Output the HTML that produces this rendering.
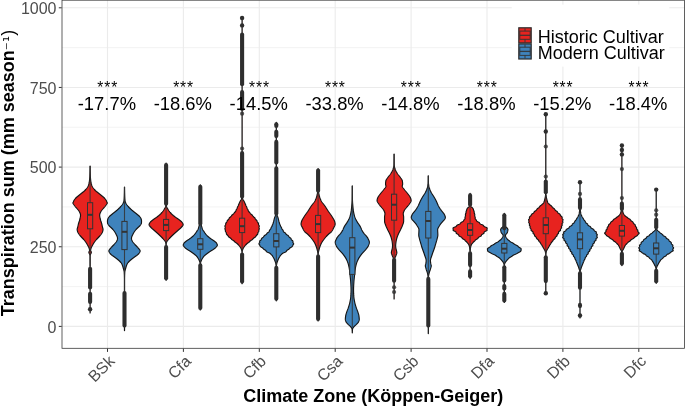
<!DOCTYPE html>
<html><head><meta charset="utf-8"><title>Transpiration sum by climate zone</title>
<style>
html,body{margin:0;padding:0;background:#fff;}
body{width:685px;height:406px;position:relative;overflow:hidden;font-family:"Liberation Sans",sans-serif;}
.t{position:absolute;white-space:nowrap;line-height:1;}
.yl{color:#4d4d4d;font-size:16px;text-align:right;width:50px;left:6.5px;}
.xl{color:#4d4d4d;font-size:16px;transform-origin:100% 0;transform:rotate(-45deg);text-align:right;}
.st{color:#000;font-size:18.4px;text-align:center;width:80px;}
.lg{color:#000;font-size:18px;left:537.7px;}
.xt{color:#000;font-weight:bold;font-size:18px;text-align:center;width:400px;left:173.2px;}
.yt{color:#000;font-weight:bold;font-size:18px;text-align:center;width:400px;transform-origin:0 0;transform:rotate(-90deg);}
</style></head><body>
<svg width="685" height="406" viewBox="0 0 685 406" style="position:absolute;left:0;top:0">
<rect x="62.0" y="0.2" width="622.5" height="348.1" fill="#fff"/>
<line x1="62.0" x2="684.5" y1="286.57" y2="286.57" stroke="#ebebeb" stroke-width="0.6"/>
<line x1="62.0" x2="684.5" y1="206.92" y2="206.92" stroke="#ebebeb" stroke-width="0.6"/>
<line x1="62.0" x2="684.5" y1="127.27" y2="127.27" stroke="#ebebeb" stroke-width="0.6"/>
<line x1="62.0" x2="684.5" y1="47.62" y2="47.62" stroke="#ebebeb" stroke-width="0.6"/>
<line x1="62.0" x2="684.5" y1="326.40" y2="326.40" stroke="#ebebeb" stroke-width="1.1"/>
<line x1="62.0" x2="684.5" y1="246.75" y2="246.75" stroke="#ebebeb" stroke-width="1.1"/>
<line x1="62.0" x2="684.5" y1="167.10" y2="167.10" stroke="#ebebeb" stroke-width="1.1"/>
<line x1="62.0" x2="684.5" y1="87.45" y2="87.45" stroke="#ebebeb" stroke-width="1.1"/>
<line x1="62.0" x2="684.5" y1="7.80" y2="7.80" stroke="#ebebeb" stroke-width="1.1"/>
<line x1="107.50" x2="107.50" y1="0.2" y2="348.3" stroke="#ebebeb" stroke-width="1.1"/>
<line x1="183.40" x2="183.40" y1="0.2" y2="348.3" stroke="#ebebeb" stroke-width="1.1"/>
<line x1="259.30" x2="259.30" y1="0.2" y2="348.3" stroke="#ebebeb" stroke-width="1.1"/>
<line x1="335.20" x2="335.20" y1="0.2" y2="348.3" stroke="#ebebeb" stroke-width="1.1"/>
<line x1="411.10" x2="411.10" y1="0.2" y2="348.3" stroke="#ebebeb" stroke-width="1.1"/>
<line x1="487.00" x2="487.00" y1="0.2" y2="348.3" stroke="#ebebeb" stroke-width="1.1"/>
<line x1="562.90" x2="562.90" y1="0.2" y2="348.3" stroke="#ebebeb" stroke-width="1.1"/>
<line x1="638.80" x2="638.80" y1="0.2" y2="348.3" stroke="#ebebeb" stroke-width="1.1"/>
<rect x="511.7" y="4.6" width="157.6" height="62" fill="#fff"/>
<path d="M90.15 166.00 L90.15 166.50 L90.15 167.00 L90.16 167.50 L90.16 168.00 L90.16 168.50 L90.17 169.00 L90.18 169.50 L90.18 170.00 L90.19 170.50 L90.20 171.00 L90.21 171.50 L90.22 172.00 L90.23 172.50 L90.25 173.00 L90.26 173.50 L90.27 174.00 L90.29 174.50 L90.30 175.00 L90.32 175.50 L90.34 176.00 L90.36 176.50 L90.39 177.00 L90.43 177.50 L90.47 178.00 L90.51 178.50 L90.56 179.00 L90.61 179.50 L90.66 180.00 L90.72 180.50 L90.79 181.00 L90.85 181.50 L90.92 182.00 L91.00 182.50 L91.09 183.00 L91.21 183.50 L91.35 184.00 L91.50 184.50 L91.67 185.00 L91.85 185.50 L92.05 186.00 L92.28 186.50 L92.55 187.00 L92.87 187.50 L93.22 188.00 L93.60 188.50 L94.01 189.00 L94.43 189.50 L94.88 190.00 L95.34 190.50 L95.87 191.00 L96.46 191.50 L97.09 192.00 L97.73 192.50 L98.35 193.00 L98.96 193.50 L99.58 194.00 L100.20 194.50 L100.82 195.00 L101.43 195.50 L102.04 196.00 L102.67 196.50 L103.28 197.00 L103.85 197.50 L104.35 198.00 L104.79 198.50 L105.20 199.00 L105.59 199.50 L105.94 200.00 L106.24 200.50 L106.50 201.00 L106.69 201.50 L106.87 202.00 L107.13 202.50 L107.35 203.00 L107.13 203.50 L106.79 204.00 L106.47 204.50 L106.13 205.00 L105.77 205.50 L105.40 206.00 L105.01 206.50 L104.60 207.00 L104.17 207.50 L103.73 208.00 L103.30 208.50 L102.88 209.00 L102.45 209.50 L102.02 210.00 L101.61 210.50 L101.24 211.00 L100.95 211.50 L100.70 212.00 L100.45 212.50 L100.22 213.00 L100.01 213.50 L99.84 214.00 L99.72 214.50 L99.66 215.00 L99.66 215.50 L99.70 216.00 L99.77 216.50 L99.86 217.00 L99.95 217.50 L100.05 218.00 L100.15 218.50 L100.28 219.00 L100.41 219.50 L100.55 220.00 L100.70 220.50 L100.85 221.00 L101.02 221.50 L101.19 222.00 L101.35 222.50 L101.51 223.00 L101.65 223.50 L101.78 224.00 L101.90 224.50 L102.02 225.00 L102.13 225.50 L102.24 226.00 L102.35 226.50 L102.46 227.00 L102.57 227.50 L102.72 228.00 L102.88 228.50 L103.00 229.00 L103.05 229.50 L103.01 230.00 L102.92 230.50 L102.78 231.00 L102.62 231.50 L102.45 232.00 L102.24 232.50 L101.98 233.00 L101.67 233.50 L101.35 234.00 L101.00 234.50 L100.61 235.00 L100.18 235.50 L99.74 236.00 L99.30 236.50 L98.85 237.00 L98.39 237.50 L97.92 238.00 L97.43 238.50 L96.95 239.00 L96.49 239.50 L96.07 240.00 L95.66 240.50 L95.27 241.00 L94.89 241.50 L94.53 242.00 L94.18 242.50 L93.85 243.00 L93.54 243.50 L93.24 244.00 L92.95 244.50 L92.68 245.00 L92.41 245.50 L92.14 246.00 L91.86 246.50 L91.59 247.00 L91.34 247.50 L91.15 248.00 L90.99 248.50 L90.84 249.00 L90.72 249.50 L90.66 250.00 L90.68 250.50 L90.85 251.00 L91.07 251.50 L91.27 252.00 L91.35 252.50 L91.24 253.00 L90.97 253.50 L90.66 254.00 L90.41 254.50 L90.28 255.00 L90.19 255.50 L90.15 256.00 L90.15 256.50 L90.15 257.00 L90.15 257.50 L90.15 258.00 L90.15 258.50 L90.15 259.00 L90.15 259.50 L90.15 260.00 L90.15 260.50 L90.15 261.00 L90.15 261.50 L90.15 262.00 L90.15 262.50 L90.15 263.00 L90.15 263.50 L90.15 264.00 L90.15 264.50 L90.15 265.00 L90.15 265.50 L90.15 266.00 L90.15 266.50 L90.15 267.00 L90.15 267.50 L90.15 268.00 L90.15 268.50 L90.15 269.00 L90.15 269.50 L90.15 270.00 L90.15 270.50 L90.15 271.00 L90.15 271.50 L90.15 272.00 L90.15 272.50 L90.15 273.00 L90.15 273.50 L90.15 274.00 L90.15 274.50 L90.15 275.00 L90.15 275.50 L90.15 276.00 L90.15 276.50 L90.15 277.00 L90.15 277.50 L90.15 278.00 L90.15 278.50 L90.15 279.00 L90.15 279.50 L90.15 280.00 L90.15 280.50 L90.15 281.00 L90.15 281.50 L90.15 282.00 L90.15 282.50 L90.15 283.00 L90.15 283.50 L90.15 284.00 L90.15 284.50 L90.15 285.00 L90.15 285.50 L90.15 286.00 L90.15 286.50 L90.15 287.00 L90.15 287.50 L90.15 288.00 L90.15 288.50 L90.15 289.00 L90.15 289.50 L90.15 290.00 L90.15 290.50 L90.15 291.00 L90.15 291.50 L90.15 292.00 L90.15 292.50 L90.15 293.00 L90.15 293.50 L90.15 294.00 L90.15 294.50 L90.15 295.00 L90.15 295.50 L90.15 296.00 L90.15 296.50 L90.15 297.00 L90.15 297.50 L90.15 298.00 L90.15 298.50 L90.15 299.00 L90.15 299.50 L90.15 300.00 L90.15 300.50 L90.15 301.00 L90.15 301.50 L90.15 302.00 L90.15 302.50 L90.15 303.00 L90.15 303.50 L90.15 304.00 L90.15 304.50 L90.15 305.00 L90.15 305.50 L90.15 306.00 L90.15 306.50 L90.15 307.00 L90.15 307.50 L90.15 308.00 L90.15 308.50 L90.15 309.00 L90.15 309.50 L90.15 310.00 L90.15 310.50 L90.15 311.00 L90.15 311.50 L90.15 312.00 L90.15 312.50 L90.15 313.00 L90.05 313.00 L90.05 312.50 L90.05 312.00 L90.05 311.50 L90.05 311.00 L90.05 310.50 L90.05 310.00 L90.05 309.50 L90.05 309.00 L90.05 308.50 L90.05 308.00 L90.05 307.50 L90.05 307.00 L90.05 306.50 L90.05 306.00 L90.05 305.50 L90.05 305.00 L90.05 304.50 L90.05 304.00 L90.05 303.50 L90.05 303.00 L90.05 302.50 L90.05 302.00 L90.05 301.50 L90.05 301.00 L90.05 300.50 L90.05 300.00 L90.05 299.50 L90.05 299.00 L90.05 298.50 L90.05 298.00 L90.05 297.50 L90.05 297.00 L90.05 296.50 L90.05 296.00 L90.05 295.50 L90.05 295.00 L90.05 294.50 L90.05 294.00 L90.05 293.50 L90.05 293.00 L90.05 292.50 L90.05 292.00 L90.05 291.50 L90.05 291.00 L90.05 290.50 L90.05 290.00 L90.05 289.50 L90.05 289.00 L90.05 288.50 L90.05 288.00 L90.05 287.50 L90.05 287.00 L90.05 286.50 L90.05 286.00 L90.05 285.50 L90.05 285.00 L90.05 284.50 L90.05 284.00 L90.05 283.50 L90.05 283.00 L90.05 282.50 L90.05 282.00 L90.05 281.50 L90.05 281.00 L90.05 280.50 L90.05 280.00 L90.05 279.50 L90.05 279.00 L90.05 278.50 L90.05 278.00 L90.05 277.50 L90.05 277.00 L90.05 276.50 L90.05 276.00 L90.05 275.50 L90.05 275.00 L90.05 274.50 L90.05 274.00 L90.05 273.50 L90.05 273.00 L90.05 272.50 L90.05 272.00 L90.05 271.50 L90.05 271.00 L90.05 270.50 L90.05 270.00 L90.05 269.50 L90.05 269.00 L90.05 268.50 L90.05 268.00 L90.05 267.50 L90.05 267.00 L90.05 266.50 L90.05 266.00 L90.05 265.50 L90.05 265.00 L90.05 264.50 L90.05 264.00 L90.05 263.50 L90.05 263.00 L90.05 262.50 L90.05 262.00 L90.05 261.50 L90.05 261.00 L90.05 260.50 L90.05 260.00 L90.05 259.50 L90.05 259.00 L90.05 258.50 L90.05 258.00 L90.05 257.50 L90.05 257.00 L90.05 256.50 L90.05 256.00 L90.01 255.50 L89.92 255.00 L89.79 254.50 L89.54 254.00 L89.23 253.50 L88.96 253.00 L88.85 252.50 L88.93 252.00 L89.13 251.50 L89.35 251.00 L89.52 250.50 L89.54 250.00 L89.48 249.50 L89.36 249.00 L89.21 248.50 L89.05 248.00 L88.86 247.50 L88.61 247.00 L88.34 246.50 L88.06 246.00 L87.79 245.50 L87.52 245.00 L87.25 244.50 L86.96 244.00 L86.66 243.50 L86.35 243.00 L86.02 242.50 L85.67 242.00 L85.31 241.50 L84.93 241.00 L84.54 240.50 L84.13 240.00 L83.71 239.50 L83.25 239.00 L82.77 238.50 L82.28 238.00 L81.81 237.50 L81.35 237.00 L80.90 236.50 L80.46 236.00 L80.02 235.50 L79.59 235.00 L79.20 234.50 L78.85 234.00 L78.53 233.50 L78.22 233.00 L77.96 232.50 L77.75 232.00 L77.58 231.50 L77.42 231.00 L77.28 230.50 L77.19 230.00 L77.15 229.50 L77.20 229.00 L77.32 228.50 L77.48 228.00 L77.63 227.50 L77.74 227.00 L77.85 226.50 L77.96 226.00 L78.07 225.50 L78.18 225.00 L78.30 224.50 L78.42 224.00 L78.55 223.50 L78.69 223.00 L78.85 222.50 L79.01 222.00 L79.18 221.50 L79.35 221.00 L79.50 220.50 L79.65 220.00 L79.79 219.50 L79.92 219.00 L80.05 218.50 L80.15 218.00 L80.25 217.50 L80.34 217.00 L80.43 216.50 L80.50 216.00 L80.54 215.50 L80.54 215.00 L80.48 214.50 L80.36 214.00 L80.19 213.50 L79.98 213.00 L79.75 212.50 L79.50 212.00 L79.25 211.50 L78.96 211.00 L78.59 210.50 L78.18 210.00 L77.75 209.50 L77.32 209.00 L76.90 208.50 L76.47 208.00 L76.03 207.50 L75.60 207.00 L75.19 206.50 L74.80 206.00 L74.43 205.50 L74.07 205.00 L73.73 204.50 L73.41 204.00 L73.07 203.50 L72.85 203.00 L73.07 202.50 L73.33 202.00 L73.51 201.50 L73.70 201.00 L73.96 200.50 L74.26 200.00 L74.61 199.50 L75.00 199.00 L75.41 198.50 L75.85 198.00 L76.35 197.50 L76.92 197.00 L77.53 196.50 L78.16 196.00 L78.77 195.50 L79.38 195.00 L80.00 194.50 L80.62 194.00 L81.24 193.50 L81.85 193.00 L82.47 192.50 L83.11 192.00 L83.74 191.50 L84.33 191.00 L84.86 190.50 L85.32 190.00 L85.77 189.50 L86.19 189.00 L86.60 188.50 L86.98 188.00 L87.33 187.50 L87.65 187.00 L87.92 186.50 L88.15 186.00 L88.35 185.50 L88.53 185.00 L88.70 184.50 L88.85 184.00 L88.99 183.50 L89.11 183.00 L89.20 182.50 L89.28 182.00 L89.35 181.50 L89.41 181.00 L89.48 180.50 L89.54 180.00 L89.59 179.50 L89.64 179.00 L89.69 178.50 L89.73 178.00 L89.77 177.50 L89.81 177.00 L89.84 176.50 L89.86 176.00 L89.88 175.50 L89.90 175.00 L89.91 174.50 L89.93 174.00 L89.94 173.50 L89.95 173.00 L89.97 172.50 L89.98 172.00 L89.99 171.50 L90.00 171.00 L90.01 170.50 L90.02 170.00 L90.02 169.50 L90.03 169.00 L90.04 168.50 L90.04 168.00 L90.04 167.50 L90.05 167.00 L90.05 166.50 L90.05 166.00Z" fill="#e7231f" stroke="#151515" stroke-width="1.15" stroke-linejoin="round"/>
<path d="M124.55 187.00 L124.55 187.50 L124.55 188.00 L124.56 188.50 L124.56 189.00 L124.57 189.50 L124.58 190.00 L124.59 190.50 L124.60 191.00 L124.61 191.50 L124.62 192.00 L124.63 192.50 L124.64 193.00 L124.66 193.50 L124.67 194.00 L124.69 194.50 L124.70 195.00 L124.71 195.50 L124.73 196.00 L124.75 196.50 L124.77 197.00 L124.79 197.50 L124.82 198.00 L124.84 198.50 L124.88 199.00 L124.92 199.50 L124.96 200.00 L125.01 200.50 L125.06 201.00 L125.17 201.50 L125.34 202.00 L125.56 202.50 L125.80 203.00 L126.05 203.50 L126.32 204.00 L126.65 204.50 L127.00 205.00 L127.39 205.50 L127.79 206.00 L128.20 206.50 L128.65 207.00 L129.12 207.50 L129.62 208.00 L130.14 208.50 L130.66 209.00 L131.21 209.50 L131.77 210.00 L132.36 210.50 L132.95 211.00 L133.55 211.50 L134.17 212.00 L134.80 212.50 L135.45 213.00 L136.09 213.50 L136.71 214.00 L137.31 214.50 L137.93 215.00 L138.54 215.50 L139.10 216.00 L139.60 216.50 L140.00 217.00 L140.37 217.50 L140.69 218.00 L140.96 218.50 L141.15 219.00 L141.30 219.50 L141.42 220.00 L141.52 220.50 L141.55 221.00 L141.54 221.50 L141.52 222.00 L141.49 222.50 L141.45 223.00 L141.34 223.50 L141.11 224.00 L140.80 224.50 L140.46 225.00 L140.10 225.50 L139.65 226.00 L139.13 226.50 L138.58 227.00 L138.05 227.50 L137.53 228.00 L137.01 228.50 L136.50 229.00 L136.05 229.50 L135.65 230.00 L135.26 230.50 L134.88 231.00 L134.52 231.50 L134.19 232.00 L133.87 232.50 L133.57 233.00 L133.30 233.50 L133.05 234.00 L132.81 234.50 L132.56 235.00 L132.31 235.50 L132.08 236.00 L131.87 236.50 L131.69 237.00 L131.55 237.50 L131.47 238.00 L131.45 238.50 L131.51 239.00 L131.64 239.50 L131.82 240.00 L132.03 240.50 L132.25 241.00 L132.51 241.50 L132.83 242.00 L133.21 242.50 L133.63 243.00 L134.06 243.50 L134.49 244.00 L134.92 244.50 L135.38 245.00 L135.87 245.50 L136.37 246.00 L136.86 246.50 L137.33 247.00 L137.75 247.50 L138.17 248.00 L138.63 248.50 L139.08 249.00 L139.50 249.50 L139.84 250.00 L140.07 250.50 L140.15 251.00 L140.07 251.50 L139.85 252.00 L139.56 252.50 L139.25 253.00 L138.88 253.50 L138.41 254.00 L137.88 254.50 L137.32 255.00 L136.67 255.50 L135.97 256.00 L135.25 256.50 L134.55 257.00 L133.88 257.50 L133.20 258.00 L132.54 258.50 L131.90 259.00 L131.28 259.50 L130.68 260.00 L130.10 260.50 L129.55 261.00 L129.05 261.50 L128.58 262.00 L128.13 262.50 L127.73 263.00 L127.40 263.50 L127.15 264.00 L126.92 264.50 L126.71 265.00 L126.52 265.50 L126.34 266.00 L126.18 266.50 L126.03 267.00 L125.89 267.50 L125.75 268.00 L125.61 268.50 L125.47 269.00 L125.32 269.50 L125.19 270.00 L125.06 270.50 L124.95 271.00 L124.86 271.50 L124.79 272.00 L124.75 272.50 L124.73 273.00 L124.70 273.50 L124.68 274.00 L124.66 274.50 L124.64 275.00 L124.62 275.50 L124.61 276.00 L124.60 276.50 L124.58 277.00 L124.57 277.50 L124.57 278.00 L124.56 278.50 L124.55 279.00 L124.55 279.50 L124.55 280.00 L124.55 280.50 L124.55 281.00 L124.55 281.50 L124.55 282.00 L124.55 282.50 L124.55 283.00 L124.55 283.50 L124.55 284.00 L124.55 284.50 L124.55 285.00 L124.55 285.50 L124.55 286.00 L124.55 286.50 L124.55 287.00 L124.55 287.50 L124.55 288.00 L124.55 288.50 L124.55 289.00 L124.55 289.50 L124.55 290.00 L124.55 290.50 L124.55 291.00 L124.55 291.50 L124.55 292.00 L124.55 292.50 L124.55 293.00 L124.55 293.50 L124.55 294.00 L124.55 294.50 L124.55 295.00 L124.55 295.50 L124.55 296.00 L124.55 296.50 L124.55 297.00 L124.55 297.50 L124.55 298.00 L124.55 298.50 L124.55 299.00 L124.55 299.50 L124.55 300.00 L124.55 300.50 L124.55 301.00 L124.55 301.50 L124.55 302.00 L124.55 302.50 L124.55 303.00 L124.55 303.50 L124.55 304.00 L124.55 304.50 L124.55 305.00 L124.55 305.50 L124.55 306.00 L124.55 306.50 L124.55 307.00 L124.55 307.50 L124.55 308.00 L124.55 308.50 L124.55 309.00 L124.55 309.50 L124.55 310.00 L124.55 310.50 L124.55 311.00 L124.55 311.50 L124.55 312.00 L124.55 312.50 L124.55 313.00 L124.55 313.50 L124.55 314.00 L124.55 314.50 L124.55 315.00 L124.55 315.50 L124.55 316.00 L124.55 316.50 L124.55 317.00 L124.55 317.50 L124.55 318.00 L124.55 318.50 L124.55 319.00 L124.55 319.50 L124.55 320.00 L124.55 320.50 L124.55 321.00 L124.55 321.50 L124.55 322.00 L124.55 322.50 L124.55 323.00 L124.55 323.50 L124.55 324.00 L124.55 324.50 L124.55 325.00 L124.55 325.50 L124.55 326.00 L124.55 326.50 L124.55 327.00 L124.55 327.50 L124.55 328.00 L124.55 328.50 L124.55 329.00 L124.55 329.50 L124.55 330.00 L124.55 330.50 L124.55 330.60 L124.45 330.60 L124.45 330.50 L124.45 330.00 L124.45 329.50 L124.45 329.00 L124.45 328.50 L124.45 328.00 L124.45 327.50 L124.45 327.00 L124.45 326.50 L124.45 326.00 L124.45 325.50 L124.45 325.00 L124.45 324.50 L124.45 324.00 L124.45 323.50 L124.45 323.00 L124.45 322.50 L124.45 322.00 L124.45 321.50 L124.45 321.00 L124.45 320.50 L124.45 320.00 L124.45 319.50 L124.45 319.00 L124.45 318.50 L124.45 318.00 L124.45 317.50 L124.45 317.00 L124.45 316.50 L124.45 316.00 L124.45 315.50 L124.45 315.00 L124.45 314.50 L124.45 314.00 L124.45 313.50 L124.45 313.00 L124.45 312.50 L124.45 312.00 L124.45 311.50 L124.45 311.00 L124.45 310.50 L124.45 310.00 L124.45 309.50 L124.45 309.00 L124.45 308.50 L124.45 308.00 L124.45 307.50 L124.45 307.00 L124.45 306.50 L124.45 306.00 L124.45 305.50 L124.45 305.00 L124.45 304.50 L124.45 304.00 L124.45 303.50 L124.45 303.00 L124.45 302.50 L124.45 302.00 L124.45 301.50 L124.45 301.00 L124.45 300.50 L124.45 300.00 L124.45 299.50 L124.45 299.00 L124.45 298.50 L124.45 298.00 L124.45 297.50 L124.45 297.00 L124.45 296.50 L124.45 296.00 L124.45 295.50 L124.45 295.00 L124.45 294.50 L124.45 294.00 L124.45 293.50 L124.45 293.00 L124.45 292.50 L124.45 292.00 L124.45 291.50 L124.45 291.00 L124.45 290.50 L124.45 290.00 L124.45 289.50 L124.45 289.00 L124.45 288.50 L124.45 288.00 L124.45 287.50 L124.45 287.00 L124.45 286.50 L124.45 286.00 L124.45 285.50 L124.45 285.00 L124.45 284.50 L124.45 284.00 L124.45 283.50 L124.45 283.00 L124.45 282.50 L124.45 282.00 L124.45 281.50 L124.45 281.00 L124.45 280.50 L124.45 280.00 L124.45 279.50 L124.45 279.00 L124.44 278.50 L124.43 278.00 L124.43 277.50 L124.42 277.00 L124.40 276.50 L124.39 276.00 L124.38 275.50 L124.36 275.00 L124.34 274.50 L124.32 274.00 L124.30 273.50 L124.27 273.00 L124.25 272.50 L124.21 272.00 L124.14 271.50 L124.05 271.00 L123.94 270.50 L123.81 270.00 L123.68 269.50 L123.53 269.00 L123.39 268.50 L123.25 268.00 L123.11 267.50 L122.97 267.00 L122.82 266.50 L122.66 266.00 L122.48 265.50 L122.29 265.00 L122.08 264.50 L121.85 264.00 L121.60 263.50 L121.27 263.00 L120.87 262.50 L120.42 262.00 L119.95 261.50 L119.45 261.00 L118.90 260.50 L118.32 260.00 L117.72 259.50 L117.10 259.00 L116.46 258.50 L115.80 258.00 L115.12 257.50 L114.45 257.00 L113.75 256.50 L113.03 256.00 L112.33 255.50 L111.68 255.00 L111.12 254.50 L110.59 254.00 L110.12 253.50 L109.75 253.00 L109.44 252.50 L109.15 252.00 L108.93 251.50 L108.85 251.00 L108.93 250.50 L109.16 250.00 L109.50 249.50 L109.92 249.00 L110.37 248.50 L110.83 248.00 L111.25 247.50 L111.67 247.00 L112.14 246.50 L112.63 246.00 L113.13 245.50 L113.62 245.00 L114.08 244.50 L114.51 244.00 L114.94 243.50 L115.37 243.00 L115.79 242.50 L116.17 242.00 L116.49 241.50 L116.75 241.00 L116.97 240.50 L117.18 240.00 L117.36 239.50 L117.49 239.00 L117.55 238.50 L117.53 238.00 L117.45 237.50 L117.31 237.00 L117.13 236.50 L116.92 236.00 L116.69 235.50 L116.44 235.00 L116.19 234.50 L115.95 234.00 L115.70 233.50 L115.43 233.00 L115.13 232.50 L114.81 232.00 L114.48 231.50 L114.12 231.00 L113.74 230.50 L113.35 230.00 L112.95 229.50 L112.50 229.00 L111.99 228.50 L111.47 228.00 L110.95 227.50 L110.42 227.00 L109.87 226.50 L109.35 226.00 L108.90 225.50 L108.54 225.00 L108.20 224.50 L107.89 224.00 L107.66 223.50 L107.55 223.00 L107.51 222.50 L107.48 222.00 L107.46 221.50 L107.45 221.00 L107.48 220.50 L107.58 220.00 L107.70 219.50 L107.85 219.00 L108.04 218.50 L108.31 218.00 L108.63 217.50 L109.00 217.00 L109.40 216.50 L109.90 216.00 L110.46 215.50 L111.07 215.00 L111.69 214.50 L112.29 214.00 L112.91 213.50 L113.55 213.00 L114.20 212.50 L114.83 212.00 L115.45 211.50 L116.05 211.00 L116.64 210.50 L117.23 210.00 L117.79 209.50 L118.34 209.00 L118.86 208.50 L119.38 208.00 L119.88 207.50 L120.35 207.00 L120.80 206.50 L121.21 206.00 L121.61 205.50 L122.00 205.00 L122.35 204.50 L122.68 204.00 L122.95 203.50 L123.20 203.00 L123.44 202.50 L123.66 202.00 L123.83 201.50 L123.94 201.00 L123.99 200.50 L124.04 200.00 L124.08 199.50 L124.12 199.00 L124.16 198.50 L124.18 198.00 L124.21 197.50 L124.23 197.00 L124.25 196.50 L124.27 196.00 L124.29 195.50 L124.30 195.00 L124.31 194.50 L124.33 194.00 L124.34 193.50 L124.36 193.00 L124.37 192.50 L124.38 192.00 L124.39 191.50 L124.40 191.00 L124.41 190.50 L124.42 190.00 L124.43 189.50 L124.44 189.00 L124.44 188.50 L124.45 188.00 L124.45 187.50 L124.45 187.00Z" fill="#3f83bc" stroke="#151515" stroke-width="1.15" stroke-linejoin="round"/>
<path d="M166.15 163.00 L166.15 163.50 L166.15 164.00 L166.15 164.50 L166.15 165.00 L166.15 165.50 L166.15 166.00 L166.15 166.50 L166.15 167.00 L166.15 167.50 L166.15 168.00 L166.15 168.50 L166.15 169.00 L166.15 169.50 L166.15 170.00 L166.15 170.50 L166.15 171.00 L166.15 171.50 L166.15 172.00 L166.15 172.50 L166.15 173.00 L166.15 173.50 L166.15 174.00 L166.15 174.50 L166.15 175.00 L166.15 175.50 L166.15 176.00 L166.15 176.50 L166.15 177.00 L166.15 177.50 L166.15 178.00 L166.15 178.50 L166.15 179.00 L166.15 179.50 L166.15 180.00 L166.15 180.50 L166.15 181.00 L166.15 181.50 L166.15 182.00 L166.15 182.50 L166.15 183.00 L166.15 183.50 L166.15 184.00 L166.15 184.50 L166.15 185.00 L166.15 185.50 L166.15 186.00 L166.15 186.50 L166.15 187.00 L166.15 187.50 L166.15 188.00 L166.15 188.50 L166.15 189.00 L166.15 189.50 L166.15 190.00 L166.15 190.50 L166.15 191.00 L166.15 191.50 L166.15 192.00 L166.15 192.50 L166.15 193.00 L166.15 193.50 L166.15 194.00 L166.15 194.50 L166.15 195.00 L166.15 195.50 L166.15 196.00 L166.15 196.50 L166.15 197.00 L166.15 197.50 L166.15 198.00 L166.15 198.50 L166.15 199.00 L166.15 199.50 L166.15 200.00 L166.15 200.50 L166.15 201.00 L166.15 201.50 L166.15 202.00 L166.15 202.50 L166.17 203.00 L166.19 203.50 L166.22 204.00 L166.25 204.50 L166.29 205.00 L166.34 205.50 L166.41 206.00 L166.55 206.50 L166.74 207.00 L166.98 207.50 L167.25 208.00 L167.53 208.50 L167.82 209.00 L168.11 209.50 L168.41 210.00 L168.73 210.50 L169.08 211.00 L169.46 211.50 L169.85 212.00 L170.27 212.50 L170.71 213.00 L171.16 213.50 L171.64 214.00 L172.16 214.50 L172.73 215.00 L173.32 215.50 L173.94 216.00 L174.57 216.50 L175.21 217.00 L175.90 217.50 L176.63 218.00 L177.37 218.50 L178.11 219.00 L178.81 219.50 L179.45 220.00 L180.07 220.50 L180.69 221.00 L181.28 221.50 L181.79 222.00 L182.19 222.50 L182.49 223.00 L182.78 223.50 L183.01 224.00 L183.14 224.50 L183.11 225.00 L182.89 225.50 L182.53 226.00 L182.08 226.50 L181.61 227.00 L181.16 227.50 L180.69 228.00 L180.16 228.50 L179.59 229.00 L179.00 229.50 L178.42 230.00 L177.85 230.50 L177.29 231.00 L176.73 231.50 L176.16 232.00 L175.59 232.50 L175.02 233.00 L174.46 233.50 L173.90 234.00 L173.37 234.50 L172.84 235.00 L172.32 235.50 L171.79 236.00 L171.28 236.50 L170.77 237.00 L170.28 237.50 L169.81 238.00 L169.36 238.50 L168.95 239.00 L168.54 239.50 L168.12 240.00 L167.70 240.50 L167.32 241.00 L166.97 241.50 L166.69 242.00 L166.50 242.50 L166.39 243.00 L166.30 243.50 L166.22 244.00 L166.17 244.50 L166.15 245.00 L166.15 245.50 L166.15 246.00 L166.15 246.50 L166.15 247.00 L166.15 247.50 L166.15 248.00 L166.15 248.50 L166.15 249.00 L166.15 249.50 L166.15 250.00 L166.15 250.50 L166.15 251.00 L166.15 251.50 L166.15 252.00 L166.15 252.50 L166.15 253.00 L166.15 253.50 L166.15 254.00 L166.15 254.50 L166.15 255.00 L166.15 255.50 L166.15 256.00 L166.15 256.50 L166.15 257.00 L166.15 257.50 L166.15 258.00 L166.15 258.50 L166.15 259.00 L166.15 259.50 L166.15 260.00 L166.15 260.50 L166.15 261.00 L166.15 261.50 L166.15 262.00 L166.15 262.50 L166.15 263.00 L166.15 263.50 L166.15 264.00 L166.15 264.50 L166.15 265.00 L166.15 265.50 L166.15 266.00 L166.15 266.50 L166.15 267.00 L166.15 267.50 L166.15 268.00 L166.15 268.50 L166.15 269.00 L166.15 269.50 L166.15 270.00 L166.15 270.50 L166.15 271.00 L166.15 271.50 L166.15 272.00 L166.15 272.50 L166.15 273.00 L166.15 273.50 L166.15 274.00 L166.15 274.50 L166.15 275.00 L166.15 275.50 L166.15 276.00 L166.15 276.50 L166.15 277.00 L166.15 277.50 L166.15 278.00 L166.15 278.50 L166.15 279.00 L166.15 279.50 L166.15 280.00 L166.15 280.30 L166.05 280.30 L166.05 280.00 L166.05 279.50 L166.05 279.00 L166.05 278.50 L166.05 278.00 L166.05 277.50 L166.05 277.00 L166.05 276.50 L166.05 276.00 L166.05 275.50 L166.05 275.00 L166.05 274.50 L166.05 274.00 L166.05 273.50 L166.05 273.00 L166.05 272.50 L166.05 272.00 L166.05 271.50 L166.05 271.00 L166.05 270.50 L166.05 270.00 L166.05 269.50 L166.05 269.00 L166.05 268.50 L166.05 268.00 L166.05 267.50 L166.05 267.00 L166.05 266.50 L166.05 266.00 L166.05 265.50 L166.05 265.00 L166.05 264.50 L166.05 264.00 L166.05 263.50 L166.05 263.00 L166.05 262.50 L166.05 262.00 L166.05 261.50 L166.05 261.00 L166.05 260.50 L166.05 260.00 L166.05 259.50 L166.05 259.00 L166.05 258.50 L166.05 258.00 L166.05 257.50 L166.05 257.00 L166.05 256.50 L166.05 256.00 L166.05 255.50 L166.05 255.00 L166.05 254.50 L166.05 254.00 L166.05 253.50 L166.05 253.00 L166.05 252.50 L166.05 252.00 L166.05 251.50 L166.05 251.00 L166.05 250.50 L166.05 250.00 L166.05 249.50 L166.05 249.00 L166.05 248.50 L166.05 248.00 L166.05 247.50 L166.05 247.00 L166.05 246.50 L166.05 246.00 L166.05 245.50 L166.05 245.00 L166.03 244.50 L165.98 244.00 L165.90 243.50 L165.81 243.00 L165.70 242.50 L165.51 242.00 L165.23 241.50 L164.88 241.00 L164.50 240.50 L164.08 240.00 L163.66 239.50 L163.25 239.00 L162.84 238.50 L162.39 238.00 L161.92 237.50 L161.43 237.00 L160.92 236.50 L160.41 236.00 L159.88 235.50 L159.36 235.00 L158.83 234.50 L158.30 234.00 L157.74 233.50 L157.18 233.00 L156.61 232.50 L156.04 232.00 L155.47 231.50 L154.91 231.00 L154.35 230.50 L153.78 230.00 L153.20 229.50 L152.61 229.00 L152.04 228.50 L151.51 228.00 L151.04 227.50 L150.59 227.00 L150.12 226.50 L149.67 226.00 L149.31 225.50 L149.09 225.00 L149.06 224.50 L149.19 224.00 L149.42 223.50 L149.71 223.00 L150.01 222.50 L150.41 222.00 L150.92 221.50 L151.51 221.00 L152.13 220.50 L152.75 220.00 L153.39 219.50 L154.09 219.00 L154.83 218.50 L155.57 218.00 L156.30 217.50 L156.99 217.00 L157.63 216.50 L158.26 216.00 L158.88 215.50 L159.47 215.00 L160.04 214.50 L160.56 214.00 L161.04 213.50 L161.49 213.00 L161.93 212.50 L162.35 212.00 L162.74 211.50 L163.12 211.00 L163.47 210.50 L163.79 210.00 L164.09 209.50 L164.38 209.00 L164.67 208.50 L164.95 208.00 L165.22 207.50 L165.46 207.00 L165.65 206.50 L165.79 206.00 L165.86 205.50 L165.91 205.00 L165.95 204.50 L165.98 204.00 L166.01 203.50 L166.03 203.00 L166.05 202.50 L166.05 202.00 L166.05 201.50 L166.05 201.00 L166.05 200.50 L166.05 200.00 L166.05 199.50 L166.05 199.00 L166.05 198.50 L166.05 198.00 L166.05 197.50 L166.05 197.00 L166.05 196.50 L166.05 196.00 L166.05 195.50 L166.05 195.00 L166.05 194.50 L166.05 194.00 L166.05 193.50 L166.05 193.00 L166.05 192.50 L166.05 192.00 L166.05 191.50 L166.05 191.00 L166.05 190.50 L166.05 190.00 L166.05 189.50 L166.05 189.00 L166.05 188.50 L166.05 188.00 L166.05 187.50 L166.05 187.00 L166.05 186.50 L166.05 186.00 L166.05 185.50 L166.05 185.00 L166.05 184.50 L166.05 184.00 L166.05 183.50 L166.05 183.00 L166.05 182.50 L166.05 182.00 L166.05 181.50 L166.05 181.00 L166.05 180.50 L166.05 180.00 L166.05 179.50 L166.05 179.00 L166.05 178.50 L166.05 178.00 L166.05 177.50 L166.05 177.00 L166.05 176.50 L166.05 176.00 L166.05 175.50 L166.05 175.00 L166.05 174.50 L166.05 174.00 L166.05 173.50 L166.05 173.00 L166.05 172.50 L166.05 172.00 L166.05 171.50 L166.05 171.00 L166.05 170.50 L166.05 170.00 L166.05 169.50 L166.05 169.00 L166.05 168.50 L166.05 168.00 L166.05 167.50 L166.05 167.00 L166.05 166.50 L166.05 166.00 L166.05 165.50 L166.05 165.00 L166.05 164.50 L166.05 164.00 L166.05 163.50 L166.05 163.00Z" fill="#e7231f" stroke="#151515" stroke-width="1.15" stroke-linejoin="round"/>
<path d="M200.35 184.70 L200.35 185.20 L200.35 185.70 L200.35 186.20 L200.35 186.70 L200.35 187.20 L200.35 187.70 L200.35 188.20 L200.35 188.70 L200.35 189.20 L200.35 189.70 L200.35 190.20 L200.35 190.70 L200.35 191.20 L200.35 191.70 L200.35 192.20 L200.35 192.70 L200.35 193.20 L200.35 193.70 L200.35 194.20 L200.35 194.70 L200.35 195.20 L200.35 195.70 L200.35 196.20 L200.36 196.70 L200.36 197.20 L200.36 197.70 L200.36 198.20 L200.36 198.70 L200.36 199.20 L200.36 199.70 L200.36 200.20 L200.36 200.70 L200.36 201.20 L200.36 201.70 L200.36 202.20 L200.36 202.70 L200.37 203.20 L200.37 203.70 L200.37 204.20 L200.37 204.70 L200.37 205.20 L200.37 205.70 L200.37 206.20 L200.37 206.70 L200.38 207.20 L200.38 207.70 L200.38 208.20 L200.38 208.70 L200.38 209.20 L200.38 209.70 L200.39 210.20 L200.39 210.70 L200.39 211.20 L200.39 211.70 L200.39 212.20 L200.40 212.70 L200.40 213.20 L200.40 213.70 L200.40 214.20 L200.41 214.70 L200.41 215.20 L200.41 215.70 L200.41 216.20 L200.42 216.70 L200.42 217.20 L200.42 217.70 L200.42 218.20 L200.43 218.70 L200.43 219.20 L200.43 219.70 L200.44 220.20 L200.44 220.70 L200.44 221.20 L200.45 221.70 L200.46 222.20 L200.51 222.70 L200.61 223.20 L200.75 223.70 L200.91 224.20 L201.09 224.70 L201.26 225.20 L201.42 225.70 L201.56 226.20 L201.71 226.70 L201.85 227.20 L202.00 227.70 L202.16 228.20 L202.33 228.70 L202.52 229.20 L202.74 229.70 L203.02 230.20 L203.34 230.70 L203.69 231.20 L204.04 231.70 L204.38 232.20 L204.71 232.70 L205.05 233.20 L205.39 233.70 L205.76 234.20 L206.16 234.70 L206.62 235.20 L207.14 235.70 L207.71 236.20 L208.29 236.70 L208.89 237.20 L209.51 237.70 L210.16 238.20 L210.84 238.70 L211.54 239.20 L212.31 239.70 L213.11 240.20 L213.85 240.70 L214.50 241.20 L215.12 241.70 L215.70 242.20 L216.21 242.70 L216.59 243.20 L216.87 243.70 L217.13 244.20 L217.30 244.70 L217.35 245.20 L217.19 245.70 L216.88 246.20 L216.49 246.70 L216.08 247.20 L215.56 247.70 L214.94 248.20 L214.28 248.70 L213.59 249.20 L212.83 249.70 L212.02 250.20 L211.20 250.70 L210.39 251.20 L209.63 251.70 L208.93 252.20 L208.24 252.70 L207.55 253.20 L206.87 253.70 L206.22 254.20 L205.60 254.70 L205.03 255.20 L204.51 255.70 L204.05 256.20 L203.64 256.70 L203.25 257.20 L202.88 257.70 L202.54 258.20 L202.22 258.70 L201.93 259.20 L201.66 259.70 L201.43 260.20 L201.23 260.70 L201.03 261.20 L200.85 261.70 L200.70 262.20 L200.59 262.70 L200.53 263.20 L200.48 263.70 L200.43 264.20 L200.39 264.70 L200.37 265.20 L200.35 265.70 L200.35 266.20 L200.35 266.70 L200.35 267.20 L200.35 267.70 L200.35 268.20 L200.35 268.70 L200.35 269.20 L200.35 269.70 L200.35 270.20 L200.35 270.70 L200.35 271.20 L200.35 271.70 L200.35 272.20 L200.35 272.70 L200.35 273.20 L200.35 273.70 L200.35 274.20 L200.35 274.70 L200.35 275.20 L200.35 275.70 L200.35 276.20 L200.35 276.70 L200.35 277.20 L200.35 277.70 L200.35 278.20 L200.35 278.70 L200.35 279.20 L200.35 279.70 L200.35 280.20 L200.35 280.70 L200.35 281.20 L200.35 281.70 L200.35 282.20 L200.35 282.70 L200.35 283.20 L200.35 283.70 L200.35 284.20 L200.35 284.70 L200.35 285.20 L200.35 285.70 L200.35 286.20 L200.35 286.70 L200.35 287.20 L200.35 287.70 L200.35 288.20 L200.35 288.70 L200.35 289.20 L200.35 289.70 L200.35 290.20 L200.35 290.70 L200.35 291.20 L200.35 291.70 L200.35 292.20 L200.35 292.70 L200.35 293.20 L200.35 293.70 L200.35 294.20 L200.35 294.70 L200.35 295.20 L200.35 295.70 L200.35 296.20 L200.35 296.70 L200.35 297.20 L200.35 297.70 L200.35 298.20 L200.35 298.70 L200.35 299.20 L200.35 299.70 L200.35 300.20 L200.35 300.70 L200.35 301.20 L200.35 301.70 L200.35 302.20 L200.35 302.70 L200.35 303.20 L200.35 303.70 L200.35 304.20 L200.35 304.70 L200.35 305.20 L200.35 305.70 L200.35 306.20 L200.35 306.70 L200.35 307.20 L200.35 307.70 L200.35 308.20 L200.35 308.70 L200.35 309.20 L200.35 309.70 L200.35 310.00 L200.25 310.00 L200.25 309.70 L200.25 309.20 L200.25 308.70 L200.25 308.20 L200.25 307.70 L200.25 307.20 L200.25 306.70 L200.25 306.20 L200.25 305.70 L200.25 305.20 L200.25 304.70 L200.25 304.20 L200.25 303.70 L200.25 303.20 L200.25 302.70 L200.25 302.20 L200.25 301.70 L200.25 301.20 L200.25 300.70 L200.25 300.20 L200.25 299.70 L200.25 299.20 L200.25 298.70 L200.25 298.20 L200.25 297.70 L200.25 297.20 L200.25 296.70 L200.25 296.20 L200.25 295.70 L200.25 295.20 L200.25 294.70 L200.25 294.20 L200.25 293.70 L200.25 293.20 L200.25 292.70 L200.25 292.20 L200.25 291.70 L200.25 291.20 L200.25 290.70 L200.25 290.20 L200.25 289.70 L200.25 289.20 L200.25 288.70 L200.25 288.20 L200.25 287.70 L200.25 287.20 L200.25 286.70 L200.25 286.20 L200.25 285.70 L200.25 285.20 L200.25 284.70 L200.25 284.20 L200.25 283.70 L200.25 283.20 L200.25 282.70 L200.25 282.20 L200.25 281.70 L200.25 281.20 L200.25 280.70 L200.25 280.20 L200.25 279.70 L200.25 279.20 L200.25 278.70 L200.25 278.20 L200.25 277.70 L200.25 277.20 L200.25 276.70 L200.25 276.20 L200.25 275.70 L200.25 275.20 L200.25 274.70 L200.25 274.20 L200.25 273.70 L200.25 273.20 L200.25 272.70 L200.25 272.20 L200.25 271.70 L200.25 271.20 L200.25 270.70 L200.25 270.20 L200.25 269.70 L200.25 269.20 L200.25 268.70 L200.25 268.20 L200.25 267.70 L200.25 267.20 L200.25 266.70 L200.25 266.20 L200.25 265.70 L200.23 265.20 L200.21 264.70 L200.17 264.20 L200.12 263.70 L200.07 263.20 L200.01 262.70 L199.90 262.20 L199.75 261.70 L199.57 261.20 L199.37 260.70 L199.17 260.20 L198.94 259.70 L198.67 259.20 L198.38 258.70 L198.06 258.20 L197.72 257.70 L197.35 257.20 L196.96 256.70 L196.55 256.20 L196.09 255.70 L195.57 255.20 L195.00 254.70 L194.38 254.20 L193.73 253.70 L193.05 253.20 L192.36 252.70 L191.67 252.20 L190.97 251.70 L190.21 251.20 L189.40 250.70 L188.58 250.20 L187.77 249.70 L187.01 249.20 L186.32 248.70 L185.66 248.20 L185.04 247.70 L184.52 247.20 L184.11 246.70 L183.72 246.20 L183.41 245.70 L183.25 245.20 L183.30 244.70 L183.47 244.20 L183.73 243.70 L184.01 243.20 L184.39 242.70 L184.90 242.20 L185.48 241.70 L186.10 241.20 L186.75 240.70 L187.49 240.20 L188.29 239.70 L189.06 239.20 L189.76 238.70 L190.44 238.20 L191.09 237.70 L191.71 237.20 L192.31 236.70 L192.89 236.20 L193.46 235.70 L193.98 235.20 L194.44 234.70 L194.84 234.20 L195.21 233.70 L195.55 233.20 L195.89 232.70 L196.22 232.20 L196.56 231.70 L196.91 231.20 L197.26 230.70 L197.58 230.20 L197.86 229.70 L198.08 229.20 L198.27 228.70 L198.44 228.20 L198.60 227.70 L198.75 227.20 L198.89 226.70 L199.04 226.20 L199.18 225.70 L199.34 225.20 L199.51 224.70 L199.69 224.20 L199.85 223.70 L199.99 223.20 L200.09 222.70 L200.14 222.20 L200.15 221.70 L200.16 221.20 L200.16 220.70 L200.16 220.20 L200.17 219.70 L200.17 219.20 L200.17 218.70 L200.18 218.20 L200.18 217.70 L200.18 217.20 L200.18 216.70 L200.19 216.20 L200.19 215.70 L200.19 215.20 L200.19 214.70 L200.20 214.20 L200.20 213.70 L200.20 213.20 L200.20 212.70 L200.21 212.20 L200.21 211.70 L200.21 211.20 L200.21 210.70 L200.21 210.20 L200.22 209.70 L200.22 209.20 L200.22 208.70 L200.22 208.20 L200.22 207.70 L200.22 207.20 L200.23 206.70 L200.23 206.20 L200.23 205.70 L200.23 205.20 L200.23 204.70 L200.23 204.20 L200.23 203.70 L200.23 203.20 L200.24 202.70 L200.24 202.20 L200.24 201.70 L200.24 201.20 L200.24 200.70 L200.24 200.20 L200.24 199.70 L200.24 199.20 L200.24 198.70 L200.24 198.20 L200.24 197.70 L200.24 197.20 L200.24 196.70 L200.25 196.20 L200.25 195.70 L200.25 195.20 L200.25 194.70 L200.25 194.20 L200.25 193.70 L200.25 193.20 L200.25 192.70 L200.25 192.20 L200.25 191.70 L200.25 191.20 L200.25 190.70 L200.25 190.20 L200.25 189.70 L200.25 189.20 L200.25 188.70 L200.25 188.20 L200.25 187.70 L200.25 187.20 L200.25 186.70 L200.25 186.20 L200.25 185.70 L200.25 185.20 L200.25 184.70Z" fill="#3f83bc" stroke="#151515" stroke-width="1.15" stroke-linejoin="round"/>
<path d="M242.15 18.00 L242.15 18.50 L242.15 19.00 L242.15 19.50 L242.15 20.00 L242.15 20.50 L242.15 21.00 L242.15 21.50 L242.15 22.00 L242.15 22.50 L242.15 23.00 L242.15 23.50 L242.15 24.00 L242.15 24.50 L242.15 25.00 L242.15 25.50 L242.15 26.00 L242.15 26.50 L242.15 27.00 L242.15 27.50 L242.15 28.00 L242.15 28.50 L242.15 29.00 L242.15 29.50 L242.15 30.00 L242.15 30.50 L242.15 31.00 L242.15 31.50 L242.15 32.00 L242.15 32.50 L242.15 33.00 L242.15 33.50 L242.15 34.00 L242.15 34.50 L242.15 35.00 L242.15 35.50 L242.15 36.00 L242.15 36.50 L242.15 37.00 L242.15 37.50 L242.15 38.00 L242.15 38.50 L242.15 39.00 L242.15 39.50 L242.15 40.00 L242.15 40.50 L242.15 41.00 L242.15 41.50 L242.15 42.00 L242.15 42.50 L242.15 43.00 L242.15 43.50 L242.15 44.00 L242.15 44.50 L242.15 45.00 L242.15 45.50 L242.15 46.00 L242.15 46.50 L242.15 47.00 L242.15 47.50 L242.15 48.00 L242.15 48.50 L242.15 49.00 L242.15 49.50 L242.15 50.00 L242.15 50.50 L242.15 51.00 L242.15 51.50 L242.15 52.00 L242.15 52.50 L242.15 53.00 L242.15 53.50 L242.15 54.00 L242.15 54.50 L242.15 55.00 L242.15 55.50 L242.15 56.00 L242.15 56.50 L242.15 57.00 L242.15 57.50 L242.15 58.00 L242.15 58.50 L242.15 59.00 L242.15 59.50 L242.15 60.00 L242.15 60.50 L242.15 61.00 L242.15 61.50 L242.15 62.00 L242.15 62.50 L242.15 63.00 L242.15 63.50 L242.15 64.00 L242.15 64.50 L242.15 65.00 L242.15 65.50 L242.15 66.00 L242.15 66.50 L242.15 67.00 L242.15 67.50 L242.15 68.00 L242.15 68.50 L242.15 69.00 L242.15 69.50 L242.15 70.00 L242.15 70.50 L242.15 71.00 L242.15 71.50 L242.15 72.00 L242.15 72.50 L242.15 73.00 L242.15 73.50 L242.15 74.00 L242.15 74.50 L242.15 75.00 L242.15 75.50 L242.15 76.00 L242.15 76.50 L242.15 77.00 L242.15 77.50 L242.15 78.00 L242.15 78.50 L242.15 79.00 L242.15 79.50 L242.15 80.00 L242.15 80.50 L242.15 81.00 L242.15 81.50 L242.15 82.00 L242.15 82.50 L242.15 83.00 L242.15 83.50 L242.15 84.00 L242.15 84.50 L242.15 85.00 L242.15 85.50 L242.15 86.00 L242.15 86.50 L242.15 87.00 L242.15 87.50 L242.15 88.00 L242.15 88.50 L242.15 89.00 L242.15 89.50 L242.15 90.00 L242.15 90.50 L242.15 91.00 L242.15 91.50 L242.15 92.00 L242.15 92.50 L242.15 93.00 L242.15 93.50 L242.15 94.00 L242.15 94.50 L242.15 95.00 L242.15 95.50 L242.15 96.00 L242.15 96.50 L242.15 97.00 L242.15 97.50 L242.15 98.00 L242.15 98.50 L242.15 99.00 L242.15 99.50 L242.15 100.00 L242.15 100.50 L242.15 101.00 L242.15 101.50 L242.15 102.00 L242.15 102.50 L242.15 103.00 L242.15 103.50 L242.15 104.00 L242.15 104.50 L242.15 105.00 L242.15 105.50 L242.15 106.00 L242.15 106.50 L242.15 107.00 L242.15 107.50 L242.15 108.00 L242.15 108.50 L242.15 109.00 L242.15 109.50 L242.15 110.00 L242.15 110.50 L242.15 111.00 L242.15 111.50 L242.15 112.00 L242.15 112.50 L242.15 113.00 L242.15 113.50 L242.15 114.00 L242.15 114.50 L242.15 115.00 L242.15 115.50 L242.15 116.00 L242.15 116.50 L242.15 117.00 L242.15 117.50 L242.15 118.00 L242.15 118.50 L242.15 119.00 L242.15 119.50 L242.15 120.00 L242.15 120.50 L242.15 121.00 L242.15 121.50 L242.15 122.00 L242.15 122.50 L242.15 123.00 L242.15 123.50 L242.15 124.00 L242.15 124.50 L242.15 125.00 L242.15 125.50 L242.15 126.00 L242.15 126.50 L242.15 127.00 L242.15 127.50 L242.15 128.00 L242.15 128.50 L242.15 129.00 L242.15 129.50 L242.15 130.00 L242.15 130.50 L242.15 131.00 L242.15 131.50 L242.15 132.00 L242.15 132.50 L242.15 133.00 L242.15 133.50 L242.15 134.00 L242.15 134.50 L242.15 135.00 L242.15 135.50 L242.15 136.00 L242.15 136.50 L242.15 137.00 L242.15 137.50 L242.15 138.00 L242.15 138.50 L242.15 139.00 L242.15 139.50 L242.15 140.00 L242.15 140.50 L242.15 141.00 L242.15 141.50 L242.15 142.00 L242.15 142.50 L242.15 143.00 L242.15 143.50 L242.15 144.00 L242.15 144.50 L242.15 145.00 L242.15 145.50 L242.15 146.00 L242.15 146.50 L242.15 147.00 L242.15 147.50 L242.15 148.00 L242.15 148.50 L242.15 149.00 L242.15 149.50 L242.15 150.00 L242.15 150.50 L242.15 151.00 L242.15 151.50 L242.15 152.00 L242.15 152.50 L242.15 153.00 L242.15 153.50 L242.15 154.00 L242.15 154.50 L242.15 155.00 L242.15 155.50 L242.15 156.00 L242.15 156.50 L242.15 157.00 L242.15 157.50 L242.15 158.00 L242.15 158.50 L242.15 159.00 L242.15 159.50 L242.15 160.00 L242.15 160.50 L242.15 161.00 L242.15 161.50 L242.15 162.00 L242.15 162.50 L242.15 163.00 L242.15 163.50 L242.15 164.00 L242.15 164.50 L242.15 165.00 L242.15 165.50 L242.15 166.00 L242.15 166.50 L242.15 167.00 L242.15 167.50 L242.15 168.00 L242.15 168.50 L242.15 169.00 L242.15 169.50 L242.15 170.00 L242.15 170.50 L242.15 171.00 L242.15 171.50 L242.15 172.00 L242.15 172.50 L242.15 173.00 L242.15 173.50 L242.15 174.00 L242.15 174.50 L242.15 175.00 L242.15 175.50 L242.15 176.00 L242.15 176.50 L242.15 177.00 L242.15 177.50 L242.15 178.00 L242.15 178.50 L242.15 179.00 L242.15 179.50 L242.15 180.00 L242.15 180.50 L242.15 181.00 L242.15 181.50 L242.15 182.00 L242.15 182.50 L242.15 183.00 L242.15 183.50 L242.15 184.00 L242.15 184.50 L242.15 185.00 L242.15 185.50 L242.15 186.00 L242.15 186.50 L242.15 187.00 L242.15 187.50 L242.15 188.00 L242.15 188.50 L242.15 189.00 L242.15 189.50 L242.15 190.00 L242.15 190.50 L242.15 191.00 L242.15 191.50 L242.15 192.00 L242.15 192.50 L242.15 193.00 L242.15 193.50 L242.15 194.00 L242.15 194.50 L242.15 195.00 L242.16 195.50 L242.20 196.00 L242.26 196.50 L242.33 197.00 L242.42 197.50 L242.52 198.00 L242.63 198.50 L242.77 199.00 L243.01 199.50 L243.29 200.00 L243.60 200.50 L243.89 201.00 L244.15 201.50 L244.38 202.00 L244.61 202.50 L244.84 203.00 L245.06 203.50 L245.29 204.00 L245.52 204.50 L245.73 205.00 L245.92 205.50 L246.13 206.00 L246.41 206.50 L246.69 207.00 L246.90 207.50 L247.04 208.00 L247.20 208.50 L247.47 209.00 L247.81 209.50 L248.08 210.00 L248.23 210.50 L248.38 211.00 L248.68 211.50 L249.17 212.00 L249.69 212.50 L250.06 213.00 L250.34 213.50 L250.77 214.00 L251.42 214.50 L252.10 215.00 L252.59 215.50 L252.89 216.00 L253.21 216.50 L253.76 217.00 L254.41 217.50 L254.92 218.00 L255.18 218.50 L255.36 219.00 L255.71 219.50 L256.27 220.00 L256.80 220.50 L257.10 221.00 L257.22 221.50 L257.40 222.00 L257.77 222.50 L258.21 223.00 L258.47 223.50 L258.50 224.00 L258.51 224.50 L258.71 225.00 L259.06 225.50 L259.29 226.00 L259.24 226.50 L259.03 227.00 L258.95 227.50 L259.10 228.00 L259.29 228.50 L259.26 229.00 L259.03 229.50 L258.85 230.00 L258.82 230.50 L258.86 231.00 L258.75 231.50 L258.40 232.00 L258.02 232.50 L257.83 233.00 L257.84 233.50 L257.79 234.00 L257.45 234.50 L256.88 235.00 L256.36 235.50 L256.05 236.00 L255.80 236.50 L255.34 237.00 L254.60 237.50 L253.84 238.00 L253.28 238.50 L252.90 239.00 L252.41 239.50 L251.68 240.00 L250.84 240.50 L250.16 241.00 L249.71 241.50 L249.24 242.00 L248.57 242.50 L247.80 243.00 L247.12 243.50 L246.59 244.00 L246.11 244.50 L245.64 245.00 L245.21 245.50 L244.81 246.00 L244.43 246.50 L244.07 247.00 L243.73 247.50 L243.42 248.00 L243.15 248.50 L242.91 249.00 L242.72 249.50 L242.56 250.00 L242.41 250.50 L242.28 251.00 L242.18 251.50 L242.15 252.00 L242.15 252.50 L242.15 253.00 L242.15 253.50 L242.15 254.00 L242.15 254.50 L242.15 255.00 L242.15 255.50 L242.15 256.00 L242.15 256.50 L242.15 257.00 L242.15 257.50 L242.15 258.00 L242.15 258.50 L242.15 259.00 L242.15 259.50 L242.15 260.00 L242.15 260.50 L242.15 261.00 L242.15 261.50 L242.15 262.00 L242.15 262.50 L242.15 263.00 L242.15 263.50 L242.15 264.00 L242.15 264.50 L242.15 265.00 L242.15 265.50 L242.15 266.00 L242.15 266.50 L242.15 267.00 L242.15 267.50 L242.15 268.00 L242.15 268.50 L242.15 269.00 L242.15 269.50 L242.15 270.00 L242.15 270.50 L242.15 271.00 L242.15 271.50 L242.15 272.00 L242.15 272.50 L242.15 273.00 L242.15 273.50 L242.15 274.00 L242.15 274.50 L242.15 275.00 L242.15 275.50 L242.15 276.00 L242.15 276.50 L242.15 277.00 L242.15 277.50 L242.15 278.00 L242.15 278.50 L242.15 279.00 L242.15 279.50 L242.15 280.00 L242.15 280.50 L242.15 281.00 L242.15 281.50 L242.15 282.00 L242.15 282.50 L242.15 283.00 L242.15 283.50 L242.15 283.70 L242.05 283.70 L242.05 283.50 L242.05 283.00 L242.05 282.50 L242.05 282.00 L242.05 281.50 L242.05 281.00 L242.05 280.50 L242.05 280.00 L242.05 279.50 L242.05 279.00 L242.05 278.50 L242.05 278.00 L242.05 277.50 L242.05 277.00 L242.05 276.50 L242.05 276.00 L242.05 275.50 L242.05 275.00 L242.05 274.50 L242.05 274.00 L242.05 273.50 L242.05 273.00 L242.05 272.50 L242.05 272.00 L242.05 271.50 L242.05 271.00 L242.05 270.50 L242.05 270.00 L242.05 269.50 L242.05 269.00 L242.05 268.50 L242.05 268.00 L242.05 267.50 L242.05 267.00 L242.05 266.50 L242.05 266.00 L242.05 265.50 L242.05 265.00 L242.05 264.50 L242.05 264.00 L242.05 263.50 L242.05 263.00 L242.05 262.50 L242.05 262.00 L242.05 261.50 L242.05 261.00 L242.05 260.50 L242.05 260.00 L242.05 259.50 L242.05 259.00 L242.05 258.50 L242.05 258.00 L242.05 257.50 L242.05 257.00 L242.05 256.50 L242.05 256.00 L242.05 255.50 L242.05 255.00 L242.05 254.50 L242.05 254.00 L242.05 253.50 L242.05 253.00 L242.05 252.50 L242.05 252.00 L242.02 251.50 L241.92 251.00 L241.79 250.50 L241.64 250.00 L241.48 249.50 L241.29 249.00 L241.05 248.50 L240.78 248.00 L240.47 247.50 L240.13 247.00 L239.77 246.50 L239.39 246.00 L238.99 245.50 L238.56 245.00 L238.09 244.50 L237.61 244.00 L237.08 243.50 L236.40 243.00 L235.63 242.50 L234.96 242.00 L234.49 241.50 L234.04 241.00 L233.36 240.50 L232.52 240.00 L231.79 239.50 L231.30 239.00 L230.92 238.50 L230.36 238.00 L229.60 237.50 L228.86 237.00 L228.40 236.50 L228.15 236.00 L227.84 235.50 L227.32 235.00 L226.75 234.50 L226.41 234.00 L226.36 233.50 L226.37 233.00 L226.18 232.50 L225.80 232.00 L225.45 231.50 L225.34 231.00 L225.38 230.50 L225.35 230.00 L225.17 229.50 L224.94 229.00 L224.91 228.50 L225.10 228.00 L225.25 227.50 L225.17 227.00 L224.96 226.50 L224.91 226.00 L225.14 225.50 L225.49 225.00 L225.69 224.50 L225.70 224.00 L225.73 223.50 L225.99 223.00 L226.43 222.50 L226.80 222.00 L226.98 221.50 L227.10 221.00 L227.40 220.50 L227.93 220.00 L228.49 219.50 L228.84 219.00 L229.02 218.50 L229.28 218.00 L229.79 217.50 L230.44 217.00 L230.99 216.50 L231.31 216.00 L231.61 215.50 L232.10 215.00 L232.78 214.50 L233.43 214.00 L233.86 213.50 L234.14 213.00 L234.51 212.50 L235.03 212.00 L235.52 211.50 L235.82 211.00 L235.97 210.50 L236.12 210.00 L236.39 209.50 L236.73 209.00 L237.00 208.50 L237.16 208.00 L237.30 207.50 L237.51 207.00 L237.79 206.50 L238.07 206.00 L238.28 205.50 L238.47 205.00 L238.68 204.50 L238.91 204.00 L239.14 203.50 L239.36 203.00 L239.59 202.50 L239.82 202.00 L240.05 201.50 L240.31 201.00 L240.60 200.50 L240.91 200.00 L241.19 199.50 L241.43 199.00 L241.57 198.50 L241.68 198.00 L241.78 197.50 L241.87 197.00 L241.94 196.50 L242.00 196.00 L242.04 195.50 L242.05 195.00 L242.05 194.50 L242.05 194.00 L242.05 193.50 L242.05 193.00 L242.05 192.50 L242.05 192.00 L242.05 191.50 L242.05 191.00 L242.05 190.50 L242.05 190.00 L242.05 189.50 L242.05 189.00 L242.05 188.50 L242.05 188.00 L242.05 187.50 L242.05 187.00 L242.05 186.50 L242.05 186.00 L242.05 185.50 L242.05 185.00 L242.05 184.50 L242.05 184.00 L242.05 183.50 L242.05 183.00 L242.05 182.50 L242.05 182.00 L242.05 181.50 L242.05 181.00 L242.05 180.50 L242.05 180.00 L242.05 179.50 L242.05 179.00 L242.05 178.50 L242.05 178.00 L242.05 177.50 L242.05 177.00 L242.05 176.50 L242.05 176.00 L242.05 175.50 L242.05 175.00 L242.05 174.50 L242.05 174.00 L242.05 173.50 L242.05 173.00 L242.05 172.50 L242.05 172.00 L242.05 171.50 L242.05 171.00 L242.05 170.50 L242.05 170.00 L242.05 169.50 L242.05 169.00 L242.05 168.50 L242.05 168.00 L242.05 167.50 L242.05 167.00 L242.05 166.50 L242.05 166.00 L242.05 165.50 L242.05 165.00 L242.05 164.50 L242.05 164.00 L242.05 163.50 L242.05 163.00 L242.05 162.50 L242.05 162.00 L242.05 161.50 L242.05 161.00 L242.05 160.50 L242.05 160.00 L242.05 159.50 L242.05 159.00 L242.05 158.50 L242.05 158.00 L242.05 157.50 L242.05 157.00 L242.05 156.50 L242.05 156.00 L242.05 155.50 L242.05 155.00 L242.05 154.50 L242.05 154.00 L242.05 153.50 L242.05 153.00 L242.05 152.50 L242.05 152.00 L242.05 151.50 L242.05 151.00 L242.05 150.50 L242.05 150.00 L242.05 149.50 L242.05 149.00 L242.05 148.50 L242.05 148.00 L242.05 147.50 L242.05 147.00 L242.05 146.50 L242.05 146.00 L242.05 145.50 L242.05 145.00 L242.05 144.50 L242.05 144.00 L242.05 143.50 L242.05 143.00 L242.05 142.50 L242.05 142.00 L242.05 141.50 L242.05 141.00 L242.05 140.50 L242.05 140.00 L242.05 139.50 L242.05 139.00 L242.05 138.50 L242.05 138.00 L242.05 137.50 L242.05 137.00 L242.05 136.50 L242.05 136.00 L242.05 135.50 L242.05 135.00 L242.05 134.50 L242.05 134.00 L242.05 133.50 L242.05 133.00 L242.05 132.50 L242.05 132.00 L242.05 131.50 L242.05 131.00 L242.05 130.50 L242.05 130.00 L242.05 129.50 L242.05 129.00 L242.05 128.50 L242.05 128.00 L242.05 127.50 L242.05 127.00 L242.05 126.50 L242.05 126.00 L242.05 125.50 L242.05 125.00 L242.05 124.50 L242.05 124.00 L242.05 123.50 L242.05 123.00 L242.05 122.50 L242.05 122.00 L242.05 121.50 L242.05 121.00 L242.05 120.50 L242.05 120.00 L242.05 119.50 L242.05 119.00 L242.05 118.50 L242.05 118.00 L242.05 117.50 L242.05 117.00 L242.05 116.50 L242.05 116.00 L242.05 115.50 L242.05 115.00 L242.05 114.50 L242.05 114.00 L242.05 113.50 L242.05 113.00 L242.05 112.50 L242.05 112.00 L242.05 111.50 L242.05 111.00 L242.05 110.50 L242.05 110.00 L242.05 109.50 L242.05 109.00 L242.05 108.50 L242.05 108.00 L242.05 107.50 L242.05 107.00 L242.05 106.50 L242.05 106.00 L242.05 105.50 L242.05 105.00 L242.05 104.50 L242.05 104.00 L242.05 103.50 L242.05 103.00 L242.05 102.50 L242.05 102.00 L242.05 101.50 L242.05 101.00 L242.05 100.50 L242.05 100.00 L242.05 99.50 L242.05 99.00 L242.05 98.50 L242.05 98.00 L242.05 97.50 L242.05 97.00 L242.05 96.50 L242.05 96.00 L242.05 95.50 L242.05 95.00 L242.05 94.50 L242.05 94.00 L242.05 93.50 L242.05 93.00 L242.05 92.50 L242.05 92.00 L242.05 91.50 L242.05 91.00 L242.05 90.50 L242.05 90.00 L242.05 89.50 L242.05 89.00 L242.05 88.50 L242.05 88.00 L242.05 87.50 L242.05 87.00 L242.05 86.50 L242.05 86.00 L242.05 85.50 L242.05 85.00 L242.05 84.50 L242.05 84.00 L242.05 83.50 L242.05 83.00 L242.05 82.50 L242.05 82.00 L242.05 81.50 L242.05 81.00 L242.05 80.50 L242.05 80.00 L242.05 79.50 L242.05 79.00 L242.05 78.50 L242.05 78.00 L242.05 77.50 L242.05 77.00 L242.05 76.50 L242.05 76.00 L242.05 75.50 L242.05 75.00 L242.05 74.50 L242.05 74.00 L242.05 73.50 L242.05 73.00 L242.05 72.50 L242.05 72.00 L242.05 71.50 L242.05 71.00 L242.05 70.50 L242.05 70.00 L242.05 69.50 L242.05 69.00 L242.05 68.50 L242.05 68.00 L242.05 67.50 L242.05 67.00 L242.05 66.50 L242.05 66.00 L242.05 65.50 L242.05 65.00 L242.05 64.50 L242.05 64.00 L242.05 63.50 L242.05 63.00 L242.05 62.50 L242.05 62.00 L242.05 61.50 L242.05 61.00 L242.05 60.50 L242.05 60.00 L242.05 59.50 L242.05 59.00 L242.05 58.50 L242.05 58.00 L242.05 57.50 L242.05 57.00 L242.05 56.50 L242.05 56.00 L242.05 55.50 L242.05 55.00 L242.05 54.50 L242.05 54.00 L242.05 53.50 L242.05 53.00 L242.05 52.50 L242.05 52.00 L242.05 51.50 L242.05 51.00 L242.05 50.50 L242.05 50.00 L242.05 49.50 L242.05 49.00 L242.05 48.50 L242.05 48.00 L242.05 47.50 L242.05 47.00 L242.05 46.50 L242.05 46.00 L242.05 45.50 L242.05 45.00 L242.05 44.50 L242.05 44.00 L242.05 43.50 L242.05 43.00 L242.05 42.50 L242.05 42.00 L242.05 41.50 L242.05 41.00 L242.05 40.50 L242.05 40.00 L242.05 39.50 L242.05 39.00 L242.05 38.50 L242.05 38.00 L242.05 37.50 L242.05 37.00 L242.05 36.50 L242.05 36.00 L242.05 35.50 L242.05 35.00 L242.05 34.50 L242.05 34.00 L242.05 33.50 L242.05 33.00 L242.05 32.50 L242.05 32.00 L242.05 31.50 L242.05 31.00 L242.05 30.50 L242.05 30.00 L242.05 29.50 L242.05 29.00 L242.05 28.50 L242.05 28.00 L242.05 27.50 L242.05 27.00 L242.05 26.50 L242.05 26.00 L242.05 25.50 L242.05 25.00 L242.05 24.50 L242.05 24.00 L242.05 23.50 L242.05 23.00 L242.05 22.50 L242.05 22.00 L242.05 21.50 L242.05 21.00 L242.05 20.50 L242.05 20.00 L242.05 19.50 L242.05 19.00 L242.05 18.50 L242.05 18.00Z" fill="#e7231f" stroke="#151515" stroke-width="1.15" stroke-linejoin="round"/>
<path d="M276.35 122.20 L276.35 122.70 L276.35 123.20 L276.35 123.70 L276.35 124.20 L276.35 124.70 L276.35 125.20 L276.35 125.70 L276.35 126.20 L276.35 126.70 L276.35 127.20 L276.35 127.70 L276.35 128.20 L276.35 128.70 L276.35 129.20 L276.35 129.70 L276.35 130.20 L276.35 130.70 L276.35 131.20 L276.35 131.70 L276.35 132.20 L276.35 132.70 L276.35 133.20 L276.35 133.70 L276.35 134.20 L276.35 134.70 L276.35 135.20 L276.35 135.70 L276.35 136.20 L276.35 136.70 L276.35 137.20 L276.35 137.70 L276.35 138.20 L276.35 138.70 L276.35 139.20 L276.35 139.70 L276.35 140.20 L276.35 140.70 L276.35 141.20 L276.35 141.70 L276.35 142.20 L276.35 142.70 L276.35 143.20 L276.35 143.70 L276.35 144.20 L276.35 144.70 L276.35 145.20 L276.35 145.70 L276.35 146.20 L276.35 146.70 L276.35 147.20 L276.35 147.70 L276.35 148.20 L276.35 148.70 L276.35 149.20 L276.35 149.70 L276.35 150.20 L276.35 150.70 L276.35 151.20 L276.35 151.70 L276.35 152.20 L276.35 152.70 L276.36 153.20 L276.36 153.70 L276.36 154.20 L276.36 154.70 L276.36 155.20 L276.36 155.70 L276.36 156.20 L276.36 156.70 L276.36 157.20 L276.36 157.70 L276.36 158.20 L276.36 158.70 L276.36 159.20 L276.36 159.70 L276.36 160.20 L276.36 160.70 L276.36 161.20 L276.36 161.70 L276.36 162.20 L276.36 162.70 L276.36 163.20 L276.36 163.70 L276.36 164.20 L276.36 164.70 L276.36 165.20 L276.36 165.70 L276.36 166.20 L276.36 166.70 L276.36 167.20 L276.36 167.70 L276.37 168.20 L276.37 168.70 L276.37 169.20 L276.37 169.70 L276.37 170.20 L276.37 170.70 L276.37 171.20 L276.37 171.70 L276.37 172.20 L276.37 172.70 L276.37 173.20 L276.37 173.70 L276.37 174.20 L276.37 174.70 L276.37 175.20 L276.37 175.70 L276.37 176.20 L276.37 176.70 L276.37 177.20 L276.38 177.70 L276.38 178.20 L276.38 178.70 L276.38 179.20 L276.38 179.70 L276.38 180.20 L276.38 180.70 L276.38 181.20 L276.38 181.70 L276.38 182.20 L276.38 182.70 L276.38 183.20 L276.38 183.70 L276.38 184.20 L276.39 184.70 L276.39 185.20 L276.39 185.70 L276.39 186.20 L276.39 186.70 L276.39 187.20 L276.39 187.70 L276.39 188.20 L276.39 188.70 L276.39 189.20 L276.39 189.70 L276.40 190.20 L276.40 190.70 L276.40 191.20 L276.40 191.70 L276.40 192.20 L276.40 192.70 L276.40 193.20 L276.40 193.70 L276.40 194.20 L276.40 194.70 L276.41 195.20 L276.41 195.70 L276.41 196.20 L276.41 196.70 L276.41 197.20 L276.41 197.70 L276.41 198.20 L276.41 198.70 L276.41 199.20 L276.42 199.70 L276.42 200.20 L276.42 200.70 L276.42 201.20 L276.42 201.70 L276.42 202.20 L276.42 202.70 L276.42 203.20 L276.43 203.70 L276.43 204.20 L276.43 204.70 L276.43 205.20 L276.43 205.70 L276.43 206.20 L276.43 206.70 L276.44 207.20 L276.44 207.70 L276.44 208.20 L276.44 208.70 L276.44 209.20 L276.44 209.70 L276.44 210.20 L276.45 210.70 L276.45 211.20 L276.45 211.70 L276.45 212.20 L276.50 212.70 L276.58 213.20 L276.70 213.70 L276.83 214.20 L276.98 214.70 L277.13 215.20 L277.28 215.70 L277.46 216.20 L277.67 216.70 L277.85 217.20 L278.00 217.70 L278.14 218.20 L278.27 218.70 L278.39 219.20 L278.51 219.70 L278.63 220.20 L278.75 220.70 L278.88 221.20 L279.01 221.70 L279.16 222.20 L279.32 222.70 L279.48 223.20 L279.64 223.70 L279.85 224.20 L280.09 224.70 L280.29 225.20 L280.44 225.70 L280.60 226.20 L280.88 226.70 L281.23 227.20 L281.52 227.70 L281.66 228.20 L281.77 228.70 L282.06 229.20 L282.53 229.70 L282.98 230.20 L283.21 230.70 L283.29 231.20 L283.55 231.70 L284.17 232.20 L284.95 232.70 L285.49 233.20 L285.77 233.70 L286.13 234.20 L286.83 234.70 L287.70 235.20 L288.36 235.70 L288.66 236.20 L288.85 236.70 L289.31 237.20 L290.06 237.70 L290.77 238.20 L291.10 238.70 L291.20 239.20 L291.44 239.70 L292.02 240.20 L292.68 240.70 L293.01 241.20 L292.93 241.70 L292.80 242.20 L292.99 242.70 L293.42 243.20 L293.71 243.70 L293.60 244.20 L293.19 244.70 L292.82 245.20 L292.66 245.70 L292.48 246.20 L291.99 246.70 L291.17 247.20 L290.30 247.70 L289.70 248.20 L289.30 248.70 L288.75 249.20 L287.93 249.70 L287.15 250.20 L286.69 250.70 L286.47 251.20 L286.03 251.70 L285.06 252.20 L283.78 252.70 L282.75 253.20 L282.13 253.70 L281.75 254.20 L281.30 254.70 L280.77 255.20 L280.31 255.70 L279.96 256.20 L279.66 256.70 L279.34 257.20 L279.05 257.70 L278.78 258.20 L278.53 258.70 L278.30 259.20 L278.09 259.70 L277.89 260.20 L277.70 260.70 L277.51 261.20 L277.34 261.70 L277.17 262.20 L277.02 262.70 L276.88 263.20 L276.76 263.70 L276.66 264.20 L276.59 264.70 L276.53 265.20 L276.48 265.70 L276.44 266.20 L276.40 266.70 L276.37 267.20 L276.35 267.70 L276.35 268.20 L276.35 268.70 L276.35 269.20 L276.35 269.70 L276.35 270.20 L276.35 270.70 L276.35 271.20 L276.35 271.70 L276.35 272.20 L276.35 272.70 L276.35 273.20 L276.35 273.70 L276.35 274.20 L276.35 274.70 L276.35 275.20 L276.35 275.70 L276.35 276.20 L276.35 276.70 L276.35 277.20 L276.35 277.70 L276.35 278.20 L276.35 278.70 L276.35 279.20 L276.35 279.70 L276.35 280.20 L276.35 280.70 L276.35 281.20 L276.35 281.70 L276.35 282.20 L276.35 282.70 L276.35 283.20 L276.35 283.70 L276.35 284.20 L276.35 284.70 L276.35 285.20 L276.35 285.70 L276.35 286.20 L276.35 286.70 L276.35 287.20 L276.35 287.70 L276.35 288.20 L276.35 288.70 L276.35 289.20 L276.35 289.70 L276.35 290.20 L276.35 290.70 L276.35 291.20 L276.35 291.70 L276.35 292.20 L276.35 292.70 L276.35 293.20 L276.35 293.70 L276.35 294.20 L276.35 294.70 L276.35 295.20 L276.35 295.70 L276.35 296.20 L276.35 296.70 L276.35 297.20 L276.35 297.70 L276.35 298.20 L276.35 298.70 L276.35 299.20 L276.35 299.70 L276.35 300.20 L276.35 300.70 L276.35 300.80 L276.25 300.80 L276.25 300.70 L276.25 300.20 L276.25 299.70 L276.25 299.20 L276.25 298.70 L276.25 298.20 L276.25 297.70 L276.25 297.20 L276.25 296.70 L276.25 296.20 L276.25 295.70 L276.25 295.20 L276.25 294.70 L276.25 294.20 L276.25 293.70 L276.25 293.20 L276.25 292.70 L276.25 292.20 L276.25 291.70 L276.25 291.20 L276.25 290.70 L276.25 290.20 L276.25 289.70 L276.25 289.20 L276.25 288.70 L276.25 288.20 L276.25 287.70 L276.25 287.20 L276.25 286.70 L276.25 286.20 L276.25 285.70 L276.25 285.20 L276.25 284.70 L276.25 284.20 L276.25 283.70 L276.25 283.20 L276.25 282.70 L276.25 282.20 L276.25 281.70 L276.25 281.20 L276.25 280.70 L276.25 280.20 L276.25 279.70 L276.25 279.20 L276.25 278.70 L276.25 278.20 L276.25 277.70 L276.25 277.20 L276.25 276.70 L276.25 276.20 L276.25 275.70 L276.25 275.20 L276.25 274.70 L276.25 274.20 L276.25 273.70 L276.25 273.20 L276.25 272.70 L276.25 272.20 L276.25 271.70 L276.25 271.20 L276.25 270.70 L276.25 270.20 L276.25 269.70 L276.25 269.20 L276.25 268.70 L276.25 268.20 L276.25 267.70 L276.23 267.20 L276.20 266.70 L276.16 266.20 L276.12 265.70 L276.07 265.20 L276.01 264.70 L275.94 264.20 L275.84 263.70 L275.72 263.20 L275.58 262.70 L275.43 262.20 L275.26 261.70 L275.09 261.20 L274.90 260.70 L274.71 260.20 L274.51 259.70 L274.30 259.20 L274.07 258.70 L273.82 258.20 L273.55 257.70 L273.26 257.20 L272.94 256.70 L272.64 256.20 L272.29 255.70 L271.83 255.20 L271.30 254.70 L270.85 254.20 L270.47 253.70 L269.85 253.20 L268.82 252.70 L267.54 252.20 L266.57 251.70 L266.13 251.20 L265.91 250.70 L265.45 250.20 L264.67 249.70 L263.85 249.20 L263.30 248.70 L262.90 248.20 L262.30 247.70 L261.43 247.20 L260.61 246.70 L260.12 246.20 L259.94 245.70 L259.78 245.20 L259.41 244.70 L259.00 244.20 L258.89 243.70 L259.18 243.20 L259.61 242.70 L259.80 242.20 L259.67 241.70 L259.59 241.20 L259.92 240.70 L260.58 240.20 L261.16 239.70 L261.40 239.20 L261.50 238.70 L261.83 238.20 L262.54 237.70 L263.29 237.20 L263.75 236.70 L263.94 236.20 L264.24 235.70 L264.90 235.20 L265.77 234.70 L266.47 234.20 L266.83 233.70 L267.11 233.20 L267.65 232.70 L268.43 232.20 L269.05 231.70 L269.31 231.20 L269.39 230.70 L269.62 230.20 L270.07 229.70 L270.54 229.20 L270.83 228.70 L270.94 228.20 L271.08 227.70 L271.37 227.20 L271.72 226.70 L272.00 226.20 L272.16 225.70 L272.31 225.20 L272.51 224.70 L272.75 224.20 L272.96 223.70 L273.12 223.20 L273.28 222.70 L273.44 222.20 L273.59 221.70 L273.72 221.20 L273.85 220.70 L273.97 220.20 L274.09 219.70 L274.21 219.20 L274.33 218.70 L274.46 218.20 L274.60 217.70 L274.75 217.20 L274.93 216.70 L275.14 216.20 L275.32 215.70 L275.47 215.20 L275.62 214.70 L275.77 214.20 L275.90 213.70 L276.02 213.20 L276.10 212.70 L276.15 212.20 L276.15 211.70 L276.15 211.20 L276.15 210.70 L276.16 210.20 L276.16 209.70 L276.16 209.20 L276.16 208.70 L276.16 208.20 L276.16 207.70 L276.16 207.20 L276.17 206.70 L276.17 206.20 L276.17 205.70 L276.17 205.20 L276.17 204.70 L276.17 204.20 L276.17 203.70 L276.18 203.20 L276.18 202.70 L276.18 202.20 L276.18 201.70 L276.18 201.20 L276.18 200.70 L276.18 200.20 L276.18 199.70 L276.19 199.20 L276.19 198.70 L276.19 198.20 L276.19 197.70 L276.19 197.20 L276.19 196.70 L276.19 196.20 L276.19 195.70 L276.19 195.20 L276.20 194.70 L276.20 194.20 L276.20 193.70 L276.20 193.20 L276.20 192.70 L276.20 192.20 L276.20 191.70 L276.20 191.20 L276.20 190.70 L276.20 190.20 L276.21 189.70 L276.21 189.20 L276.21 188.70 L276.21 188.20 L276.21 187.70 L276.21 187.20 L276.21 186.70 L276.21 186.20 L276.21 185.70 L276.21 185.20 L276.21 184.70 L276.22 184.20 L276.22 183.70 L276.22 183.20 L276.22 182.70 L276.22 182.20 L276.22 181.70 L276.22 181.20 L276.22 180.70 L276.22 180.20 L276.22 179.70 L276.22 179.20 L276.22 178.70 L276.22 178.20 L276.22 177.70 L276.23 177.20 L276.23 176.70 L276.23 176.20 L276.23 175.70 L276.23 175.20 L276.23 174.70 L276.23 174.20 L276.23 173.70 L276.23 173.20 L276.23 172.70 L276.23 172.20 L276.23 171.70 L276.23 171.20 L276.23 170.70 L276.23 170.20 L276.23 169.70 L276.23 169.20 L276.23 168.70 L276.23 168.20 L276.24 167.70 L276.24 167.20 L276.24 166.70 L276.24 166.20 L276.24 165.70 L276.24 165.20 L276.24 164.70 L276.24 164.20 L276.24 163.70 L276.24 163.20 L276.24 162.70 L276.24 162.20 L276.24 161.70 L276.24 161.20 L276.24 160.70 L276.24 160.20 L276.24 159.70 L276.24 159.20 L276.24 158.70 L276.24 158.20 L276.24 157.70 L276.24 157.20 L276.24 156.70 L276.24 156.20 L276.24 155.70 L276.24 155.20 L276.24 154.70 L276.24 154.20 L276.24 153.70 L276.24 153.20 L276.25 152.70 L276.25 152.20 L276.25 151.70 L276.25 151.20 L276.25 150.70 L276.25 150.20 L276.25 149.70 L276.25 149.20 L276.25 148.70 L276.25 148.20 L276.25 147.70 L276.25 147.20 L276.25 146.70 L276.25 146.20 L276.25 145.70 L276.25 145.20 L276.25 144.70 L276.25 144.20 L276.25 143.70 L276.25 143.20 L276.25 142.70 L276.25 142.20 L276.25 141.70 L276.25 141.20 L276.25 140.70 L276.25 140.20 L276.25 139.70 L276.25 139.20 L276.25 138.70 L276.25 138.20 L276.25 137.70 L276.25 137.20 L276.25 136.70 L276.25 136.20 L276.25 135.70 L276.25 135.20 L276.25 134.70 L276.25 134.20 L276.25 133.70 L276.25 133.20 L276.25 132.70 L276.25 132.20 L276.25 131.70 L276.25 131.20 L276.25 130.70 L276.25 130.20 L276.25 129.70 L276.25 129.20 L276.25 128.70 L276.25 128.20 L276.25 127.70 L276.25 127.20 L276.25 126.70 L276.25 126.20 L276.25 125.70 L276.25 125.20 L276.25 124.70 L276.25 124.20 L276.25 123.70 L276.25 123.20 L276.25 122.70 L276.25 122.20Z" fill="#3f83bc" stroke="#151515" stroke-width="1.15" stroke-linejoin="round"/>
<path d="M318.15 168.50 L318.15 169.00 L318.15 169.50 L318.15 170.00 L318.15 170.50 L318.15 171.00 L318.15 171.50 L318.15 172.00 L318.15 172.50 L318.15 173.00 L318.15 173.50 L318.15 174.00 L318.15 174.50 L318.15 175.00 L318.15 175.50 L318.15 176.00 L318.15 176.50 L318.15 177.00 L318.15 177.50 L318.15 178.00 L318.15 178.50 L318.15 179.00 L318.15 179.50 L318.15 180.00 L318.15 180.50 L318.15 181.00 L318.15 181.50 L318.15 182.00 L318.15 182.50 L318.15 183.00 L318.15 183.50 L318.15 184.00 L318.15 184.50 L318.15 185.00 L318.15 185.50 L318.15 186.00 L318.15 186.50 L318.15 187.00 L318.15 187.50 L318.15 188.00 L318.15 188.50 L318.15 189.00 L318.15 189.50 L318.15 190.00 L318.18 190.50 L318.25 191.00 L318.35 191.50 L318.47 192.00 L318.60 192.50 L318.71 193.00 L318.81 193.50 L318.89 194.00 L318.98 194.50 L319.08 195.00 L319.20 195.50 L319.33 196.00 L319.47 196.50 L319.62 197.00 L319.78 197.50 L319.96 198.00 L320.15 198.50 L320.34 199.00 L320.55 199.50 L320.77 200.00 L321.00 200.50 L321.26 201.00 L321.55 201.50 L321.88 202.00 L322.24 202.50 L322.62 203.00 L323.02 203.50 L323.41 204.00 L323.81 204.50 L324.20 205.00 L324.57 205.50 L324.92 206.00 L325.25 206.50 L325.58 207.00 L325.90 207.50 L326.21 208.00 L326.52 208.50 L326.84 209.00 L327.15 209.50 L327.47 210.00 L327.79 210.50 L328.12 211.00 L328.45 211.50 L328.80 212.00 L329.16 212.50 L329.52 213.00 L329.89 213.50 L330.25 214.00 L330.61 214.50 L330.97 215.00 L331.31 215.50 L331.64 216.00 L331.95 216.50 L332.26 217.00 L332.57 217.50 L332.88 218.00 L333.19 218.50 L333.49 219.00 L333.77 219.50 L334.04 220.00 L334.28 220.50 L334.49 221.00 L334.66 221.50 L334.80 222.00 L334.94 222.50 L335.05 223.00 L335.13 223.50 L335.15 224.00 L335.10 224.50 L334.98 225.00 L334.81 225.50 L334.60 226.00 L334.36 226.50 L334.11 227.00 L333.85 227.50 L333.60 228.00 L333.36 228.50 L333.12 229.00 L332.87 229.50 L332.60 230.00 L332.31 230.50 L331.99 231.00 L331.62 231.50 L331.21 232.00 L330.74 232.50 L329.98 233.00 L329.31 233.50 L328.74 234.00 L328.20 234.50 L327.68 235.00 L327.19 235.50 L326.72 236.00 L326.27 236.50 L325.84 237.00 L325.43 237.50 L325.02 238.00 L324.63 238.50 L324.24 239.00 L323.86 239.50 L323.48 240.00 L323.12 240.50 L322.77 241.00 L322.43 241.50 L322.10 242.00 L321.79 242.50 L321.51 243.00 L321.24 243.50 L321.00 244.00 L320.78 244.50 L320.57 245.00 L320.36 245.50 L320.17 246.00 L319.99 246.50 L319.81 247.00 L319.65 247.50 L319.49 248.00 L319.34 248.50 L319.20 249.00 L319.07 249.50 L318.94 250.00 L318.82 250.50 L318.70 251.00 L318.59 251.50 L318.49 252.00 L318.41 252.50 L318.34 253.00 L318.27 253.50 L318.21 254.00 L318.17 254.50 L318.15 255.00 L318.15 255.50 L318.15 256.00 L318.15 256.50 L318.15 257.00 L318.15 257.50 L318.15 258.00 L318.15 258.50 L318.15 259.00 L318.15 259.50 L318.15 260.00 L318.15 260.50 L318.15 261.00 L318.15 261.50 L318.15 262.00 L318.15 262.50 L318.15 263.00 L318.15 263.50 L318.15 264.00 L318.15 264.50 L318.15 265.00 L318.15 265.50 L318.15 266.00 L318.15 266.50 L318.15 267.00 L318.15 267.50 L318.15 268.00 L318.15 268.50 L318.15 269.00 L318.15 269.50 L318.15 270.00 L318.15 270.50 L318.15 271.00 L318.15 271.50 L318.15 272.00 L318.15 272.50 L318.15 273.00 L318.15 273.50 L318.15 274.00 L318.15 274.50 L318.15 275.00 L318.15 275.50 L318.15 276.00 L318.15 276.50 L318.15 277.00 L318.15 277.50 L318.15 278.00 L318.15 278.50 L318.15 279.00 L318.15 279.50 L318.15 280.00 L318.15 280.50 L318.15 281.00 L318.15 281.50 L318.15 282.00 L318.15 282.50 L318.15 283.00 L318.15 283.50 L318.15 284.00 L318.15 284.50 L318.15 285.00 L318.15 285.50 L318.15 286.00 L318.15 286.50 L318.15 287.00 L318.15 287.50 L318.15 288.00 L318.15 288.50 L318.15 289.00 L318.15 289.50 L318.15 290.00 L318.15 290.50 L318.15 291.00 L318.15 291.50 L318.15 292.00 L318.15 292.50 L318.15 293.00 L318.15 293.50 L318.15 294.00 L318.15 294.50 L318.15 295.00 L318.15 295.50 L318.15 296.00 L318.15 296.50 L318.15 297.00 L318.15 297.50 L318.15 298.00 L318.15 298.50 L318.15 299.00 L318.15 299.50 L318.15 300.00 L318.15 300.50 L318.15 301.00 L318.15 301.50 L318.15 302.00 L318.15 302.50 L318.15 303.00 L318.15 303.50 L318.15 304.00 L318.15 304.50 L318.15 305.00 L318.15 305.50 L318.15 306.00 L318.15 306.50 L318.15 307.00 L318.15 307.50 L318.15 308.00 L318.15 308.50 L318.15 309.00 L318.15 309.50 L318.15 310.00 L318.15 310.50 L318.15 311.00 L318.15 311.50 L318.15 312.00 L318.15 312.50 L318.15 313.00 L318.15 313.50 L318.15 314.00 L318.15 314.50 L318.15 315.00 L318.15 315.50 L318.15 316.00 L318.15 316.50 L318.15 317.00 L318.15 317.50 L318.15 318.00 L318.15 318.50 L318.15 319.00 L318.15 319.50 L318.15 320.00 L318.15 320.50 L318.15 321.00 L318.05 321.00 L318.05 320.50 L318.05 320.00 L318.05 319.50 L318.05 319.00 L318.05 318.50 L318.05 318.00 L318.05 317.50 L318.05 317.00 L318.05 316.50 L318.05 316.00 L318.05 315.50 L318.05 315.00 L318.05 314.50 L318.05 314.00 L318.05 313.50 L318.05 313.00 L318.05 312.50 L318.05 312.00 L318.05 311.50 L318.05 311.00 L318.05 310.50 L318.05 310.00 L318.05 309.50 L318.05 309.00 L318.05 308.50 L318.05 308.00 L318.05 307.50 L318.05 307.00 L318.05 306.50 L318.05 306.00 L318.05 305.50 L318.05 305.00 L318.05 304.50 L318.05 304.00 L318.05 303.50 L318.05 303.00 L318.05 302.50 L318.05 302.00 L318.05 301.50 L318.05 301.00 L318.05 300.50 L318.05 300.00 L318.05 299.50 L318.05 299.00 L318.05 298.50 L318.05 298.00 L318.05 297.50 L318.05 297.00 L318.05 296.50 L318.05 296.00 L318.05 295.50 L318.05 295.00 L318.05 294.50 L318.05 294.00 L318.05 293.50 L318.05 293.00 L318.05 292.50 L318.05 292.00 L318.05 291.50 L318.05 291.00 L318.05 290.50 L318.05 290.00 L318.05 289.50 L318.05 289.00 L318.05 288.50 L318.05 288.00 L318.05 287.50 L318.05 287.00 L318.05 286.50 L318.05 286.00 L318.05 285.50 L318.05 285.00 L318.05 284.50 L318.05 284.00 L318.05 283.50 L318.05 283.00 L318.05 282.50 L318.05 282.00 L318.05 281.50 L318.05 281.00 L318.05 280.50 L318.05 280.00 L318.05 279.50 L318.05 279.00 L318.05 278.50 L318.05 278.00 L318.05 277.50 L318.05 277.00 L318.05 276.50 L318.05 276.00 L318.05 275.50 L318.05 275.00 L318.05 274.50 L318.05 274.00 L318.05 273.50 L318.05 273.00 L318.05 272.50 L318.05 272.00 L318.05 271.50 L318.05 271.00 L318.05 270.50 L318.05 270.00 L318.05 269.50 L318.05 269.00 L318.05 268.50 L318.05 268.00 L318.05 267.50 L318.05 267.00 L318.05 266.50 L318.05 266.00 L318.05 265.50 L318.05 265.00 L318.05 264.50 L318.05 264.00 L318.05 263.50 L318.05 263.00 L318.05 262.50 L318.05 262.00 L318.05 261.50 L318.05 261.00 L318.05 260.50 L318.05 260.00 L318.05 259.50 L318.05 259.00 L318.05 258.50 L318.05 258.00 L318.05 257.50 L318.05 257.00 L318.05 256.50 L318.05 256.00 L318.05 255.50 L318.05 255.00 L318.03 254.50 L317.99 254.00 L317.93 253.50 L317.86 253.00 L317.79 252.50 L317.71 252.00 L317.61 251.50 L317.50 251.00 L317.38 250.50 L317.26 250.00 L317.13 249.50 L317.00 249.00 L316.86 248.50 L316.71 248.00 L316.55 247.50 L316.39 247.00 L316.21 246.50 L316.03 246.00 L315.84 245.50 L315.63 245.00 L315.42 244.50 L315.20 244.00 L314.96 243.50 L314.69 243.00 L314.41 242.50 L314.10 242.00 L313.77 241.50 L313.43 241.00 L313.08 240.50 L312.72 240.00 L312.34 239.50 L311.96 239.00 L311.57 238.50 L311.18 238.00 L310.77 237.50 L310.36 237.00 L309.93 236.50 L309.48 236.00 L309.01 235.50 L308.52 235.00 L308.00 234.50 L307.46 234.00 L306.89 233.50 L306.22 233.00 L305.46 232.50 L304.99 232.00 L304.58 231.50 L304.21 231.00 L303.89 230.50 L303.60 230.00 L303.33 229.50 L303.08 229.00 L302.84 228.50 L302.60 228.00 L302.35 227.50 L302.09 227.00 L301.84 226.50 L301.60 226.00 L301.39 225.50 L301.22 225.00 L301.10 224.50 L301.05 224.00 L301.07 223.50 L301.15 223.00 L301.26 222.50 L301.40 222.00 L301.54 221.50 L301.71 221.00 L301.92 220.50 L302.16 220.00 L302.43 219.50 L302.71 219.00 L303.01 218.50 L303.32 218.00 L303.63 217.50 L303.94 217.00 L304.25 216.50 L304.56 216.00 L304.89 215.50 L305.23 215.00 L305.59 214.50 L305.95 214.00 L306.31 213.50 L306.68 213.00 L307.04 212.50 L307.40 212.00 L307.75 211.50 L308.08 211.00 L308.41 210.50 L308.73 210.00 L309.05 209.50 L309.36 209.00 L309.68 208.50 L309.99 208.00 L310.30 207.50 L310.62 207.00 L310.95 206.50 L311.28 206.00 L311.63 205.50 L312.00 205.00 L312.39 204.50 L312.79 204.00 L313.18 203.50 L313.58 203.00 L313.96 202.50 L314.32 202.00 L314.65 201.50 L314.94 201.00 L315.20 200.50 L315.43 200.00 L315.65 199.50 L315.86 199.00 L316.05 198.50 L316.24 198.00 L316.42 197.50 L316.58 197.00 L316.73 196.50 L316.87 196.00 L317.00 195.50 L317.12 195.00 L317.22 194.50 L317.31 194.00 L317.39 193.50 L317.49 193.00 L317.60 192.50 L317.73 192.00 L317.85 191.50 L317.95 191.00 L318.02 190.50 L318.05 190.00 L318.05 189.50 L318.05 189.00 L318.05 188.50 L318.05 188.00 L318.05 187.50 L318.05 187.00 L318.05 186.50 L318.05 186.00 L318.05 185.50 L318.05 185.00 L318.05 184.50 L318.05 184.00 L318.05 183.50 L318.05 183.00 L318.05 182.50 L318.05 182.00 L318.05 181.50 L318.05 181.00 L318.05 180.50 L318.05 180.00 L318.05 179.50 L318.05 179.00 L318.05 178.50 L318.05 178.00 L318.05 177.50 L318.05 177.00 L318.05 176.50 L318.05 176.00 L318.05 175.50 L318.05 175.00 L318.05 174.50 L318.05 174.00 L318.05 173.50 L318.05 173.00 L318.05 172.50 L318.05 172.00 L318.05 171.50 L318.05 171.00 L318.05 170.50 L318.05 170.00 L318.05 169.50 L318.05 169.00 L318.05 168.50Z" fill="#e7231f" stroke="#151515" stroke-width="1.15" stroke-linejoin="round"/>
<path d="M352.35 185.90 L352.35 186.40 L352.35 186.90 L352.35 187.40 L352.35 187.90 L352.35 188.40 L352.35 188.90 L352.36 189.40 L352.36 189.90 L352.36 190.40 L352.36 190.90 L352.36 191.40 L352.37 191.90 L352.37 192.40 L352.37 192.90 L352.38 193.40 L352.38 193.90 L352.39 194.40 L352.39 194.90 L352.39 195.40 L352.40 195.90 L352.40 196.40 L352.41 196.90 L352.42 197.40 L352.42 197.90 L352.43 198.40 L352.43 198.90 L352.44 199.40 L352.45 199.90 L352.46 200.40 L352.47 200.90 L352.50 201.40 L352.53 201.90 L352.56 202.40 L352.59 202.90 L352.63 203.40 L352.68 203.90 L352.72 204.40 L352.76 204.90 L352.81 205.40 L352.85 205.90 L352.89 206.40 L352.94 206.90 L352.99 207.40 L353.04 207.90 L353.09 208.40 L353.15 208.90 L353.21 209.40 L353.27 209.90 L353.33 210.40 L353.41 210.90 L353.48 211.40 L353.56 211.90 L353.65 212.40 L353.75 212.90 L353.85 213.40 L353.96 213.90 L354.08 214.40 L354.20 214.90 L354.33 215.40 L354.47 215.90 L354.62 216.40 L354.78 216.90 L354.96 217.40 L355.17 217.90 L355.39 218.40 L355.62 218.90 L355.87 219.40 L356.13 219.90 L356.39 220.40 L356.66 220.90 L356.93 221.40 L357.20 221.90 L357.50 222.40 L357.81 222.90 L358.14 223.40 L358.48 223.90 L358.83 224.40 L359.18 224.90 L359.52 225.40 L359.85 225.90 L360.16 226.40 L360.44 226.90 L360.70 227.40 L360.93 227.90 L361.14 228.40 L361.35 228.90 L361.56 229.40 L361.80 229.90 L362.06 230.40 L362.33 230.90 L362.61 231.40 L362.91 231.90 L363.23 232.40 L363.57 232.90 L363.92 233.40 L364.34 233.90 L364.79 234.40 L365.27 234.90 L365.74 235.40 L366.17 235.90 L366.56 236.40 L366.95 236.90 L367.32 237.40 L367.66 237.90 L367.95 238.40 L368.19 238.90 L368.44 239.40 L368.68 239.90 L368.90 240.40 L369.09 240.90 L369.24 241.40 L369.33 241.90 L369.35 242.40 L369.31 242.90 L369.21 243.40 L369.08 243.90 L368.91 244.40 L368.71 244.90 L368.50 245.40 L368.29 245.90 L368.06 246.40 L367.77 246.90 L367.43 247.40 L367.06 247.90 L366.68 248.40 L366.28 248.90 L365.89 249.40 L365.48 249.90 L365.04 250.40 L364.58 250.90 L364.11 251.40 L363.64 251.90 L363.16 252.40 L362.70 252.90 L362.25 253.40 L361.82 253.90 L361.43 254.40 L361.05 254.90 L360.69 255.40 L360.32 255.90 L359.97 256.40 L359.63 256.90 L359.30 257.40 L358.98 257.90 L358.68 258.40 L358.40 258.90 L358.14 259.40 L357.90 259.90 L357.68 260.40 L357.47 260.90 L357.26 261.40 L357.06 261.90 L356.88 262.40 L356.70 262.90 L356.53 263.40 L356.38 263.90 L356.23 264.40 L356.10 264.90 L355.98 265.40 L355.86 265.90 L355.75 266.40 L355.64 266.90 L355.54 267.40 L355.44 267.90 L355.35 268.40 L355.27 268.90 L355.19 269.40 L355.12 269.90 L355.05 270.40 L354.99 270.90 L354.93 271.40 L354.88 271.90 L354.84 272.40 L354.79 272.90 L354.74 273.40 L354.70 273.90 L354.65 274.40 L354.60 274.90 L354.55 275.40 L354.49 275.90 L354.44 276.40 L354.38 276.90 L354.32 277.40 L354.27 277.90 L354.21 278.40 L354.16 278.90 L354.11 279.40 L354.06 279.90 L354.01 280.40 L353.96 280.90 L353.92 281.40 L353.89 281.90 L353.86 282.40 L353.83 282.90 L353.80 283.40 L353.77 283.90 L353.74 284.40 L353.71 284.90 L353.69 285.40 L353.66 285.90 L353.64 286.40 L353.62 286.90 L353.60 287.40 L353.58 287.90 L353.57 288.40 L353.56 288.90 L353.55 289.40 L353.55 289.90 L353.55 290.40 L353.56 290.90 L353.56 291.40 L353.58 291.90 L353.59 292.40 L353.61 292.90 L353.62 293.40 L353.65 293.90 L353.67 294.40 L353.69 294.90 L353.72 295.40 L353.74 295.90 L353.78 296.40 L353.82 296.90 L353.87 297.40 L353.93 297.90 L354.00 298.40 L354.08 298.90 L354.16 299.40 L354.25 299.90 L354.34 300.40 L354.44 300.90 L354.53 301.40 L354.63 301.90 L354.73 302.40 L354.84 302.90 L354.96 303.40 L355.09 303.90 L355.23 304.40 L355.37 304.90 L355.52 305.40 L355.68 305.90 L355.83 306.40 L355.99 306.90 L356.15 307.40 L356.32 307.90 L356.49 308.40 L356.68 308.90 L356.87 309.40 L357.07 309.90 L357.27 310.40 L357.46 310.90 L357.65 311.40 L357.82 311.90 L357.98 312.40 L358.14 312.90 L358.31 313.40 L358.46 313.90 L358.61 314.40 L358.74 314.90 L358.85 315.40 L358.94 315.90 L359.00 316.40 L359.06 316.90 L359.12 317.40 L359.17 317.90 L359.21 318.40 L359.24 318.90 L359.25 319.40 L359.22 319.90 L359.11 320.40 L358.94 320.90 L358.73 321.40 L358.50 321.90 L358.22 322.40 L357.84 322.90 L357.40 323.40 L356.94 323.90 L356.46 324.40 L355.93 324.90 L355.36 325.40 L354.80 325.90 L354.28 326.40 L353.85 326.90 L353.45 327.40 L353.06 327.90 L352.75 328.40 L352.56 328.90 L352.51 329.40 L352.47 329.90 L352.43 330.40 L352.40 330.90 L352.38 331.40 L352.36 331.90 L352.35 332.40 L352.35 332.80 L352.25 332.80 L352.25 332.40 L352.24 331.90 L352.22 331.40 L352.20 330.90 L352.17 330.40 L352.13 329.90 L352.09 329.40 L352.04 328.90 L351.85 328.40 L351.54 327.90 L351.15 327.40 L350.75 326.90 L350.32 326.40 L349.80 325.90 L349.24 325.40 L348.67 324.90 L348.14 324.40 L347.66 323.90 L347.20 323.40 L346.76 322.90 L346.38 322.40 L346.10 321.90 L345.87 321.40 L345.66 320.90 L345.49 320.40 L345.38 319.90 L345.35 319.40 L345.36 318.90 L345.39 318.40 L345.43 317.90 L345.48 317.40 L345.54 316.90 L345.60 316.40 L345.66 315.90 L345.75 315.40 L345.86 314.90 L345.99 314.40 L346.14 313.90 L346.29 313.40 L346.46 312.90 L346.62 312.40 L346.78 311.90 L346.95 311.40 L347.14 310.90 L347.33 310.40 L347.53 309.90 L347.73 309.40 L347.92 308.90 L348.11 308.40 L348.28 307.90 L348.45 307.40 L348.61 306.90 L348.77 306.40 L348.92 305.90 L349.08 305.40 L349.23 304.90 L349.37 304.40 L349.51 303.90 L349.64 303.40 L349.76 302.90 L349.87 302.40 L349.97 301.90 L350.07 301.40 L350.16 300.90 L350.26 300.40 L350.35 299.90 L350.44 299.40 L350.52 298.90 L350.60 298.40 L350.67 297.90 L350.73 297.40 L350.78 296.90 L350.82 296.40 L350.86 295.90 L350.88 295.40 L350.91 294.90 L350.93 294.40 L350.95 293.90 L350.98 293.40 L350.99 292.90 L351.01 292.40 L351.02 291.90 L351.04 291.40 L351.04 290.90 L351.05 290.40 L351.05 289.90 L351.05 289.40 L351.04 288.90 L351.03 288.40 L351.02 287.90 L351.00 287.40 L350.98 286.90 L350.96 286.40 L350.94 285.90 L350.91 285.40 L350.89 284.90 L350.86 284.40 L350.83 283.90 L350.80 283.40 L350.77 282.90 L350.74 282.40 L350.71 281.90 L350.68 281.40 L350.64 280.90 L350.59 280.40 L350.54 279.90 L350.49 279.40 L350.44 278.90 L350.39 278.40 L350.33 277.90 L350.28 277.40 L350.22 276.90 L350.16 276.40 L350.11 275.90 L350.05 275.40 L350.00 274.90 L349.95 274.40 L349.90 273.90 L349.86 273.40 L349.81 272.90 L349.76 272.40 L349.72 271.90 L349.67 271.40 L349.61 270.90 L349.55 270.40 L349.48 269.90 L349.41 269.40 L349.33 268.90 L349.25 268.40 L349.16 267.90 L349.06 267.40 L348.96 266.90 L348.85 266.40 L348.74 265.90 L348.62 265.40 L348.50 264.90 L348.37 264.40 L348.22 263.90 L348.07 263.40 L347.90 262.90 L347.72 262.40 L347.54 261.90 L347.34 261.40 L347.13 260.90 L346.92 260.40 L346.70 259.90 L346.46 259.40 L346.20 258.90 L345.92 258.40 L345.62 257.90 L345.30 257.40 L344.97 256.90 L344.63 256.40 L344.28 255.90 L343.91 255.40 L343.55 254.90 L343.17 254.40 L342.78 253.90 L342.35 253.40 L341.90 252.90 L341.44 252.40 L340.96 251.90 L340.49 251.40 L340.02 250.90 L339.56 250.40 L339.12 249.90 L338.71 249.40 L338.32 248.90 L337.92 248.40 L337.54 247.90 L337.17 247.40 L336.83 246.90 L336.54 246.40 L336.31 245.90 L336.10 245.40 L335.89 244.90 L335.69 244.40 L335.52 243.90 L335.39 243.40 L335.29 242.90 L335.25 242.40 L335.27 241.90 L335.36 241.40 L335.51 240.90 L335.70 240.40 L335.92 239.90 L336.16 239.40 L336.41 238.90 L336.65 238.40 L336.94 237.90 L337.28 237.40 L337.65 236.90 L338.04 236.40 L338.43 235.90 L338.86 235.40 L339.33 234.90 L339.81 234.40 L340.26 233.90 L340.68 233.40 L341.03 232.90 L341.37 232.40 L341.69 231.90 L341.99 231.40 L342.27 230.90 L342.54 230.40 L342.80 229.90 L343.04 229.40 L343.25 228.90 L343.46 228.40 L343.67 227.90 L343.90 227.40 L344.16 226.90 L344.44 226.40 L344.75 225.90 L345.08 225.40 L345.42 224.90 L345.77 224.40 L346.12 223.90 L346.46 223.40 L346.79 222.90 L347.10 222.40 L347.40 221.90 L347.67 221.40 L347.94 220.90 L348.21 220.40 L348.47 219.90 L348.73 219.40 L348.98 218.90 L349.21 218.40 L349.43 217.90 L349.64 217.40 L349.82 216.90 L349.98 216.40 L350.13 215.90 L350.27 215.40 L350.40 214.90 L350.52 214.40 L350.64 213.90 L350.75 213.40 L350.85 212.90 L350.95 212.40 L351.04 211.90 L351.12 211.40 L351.19 210.90 L351.27 210.40 L351.33 209.90 L351.39 209.40 L351.45 208.90 L351.51 208.40 L351.56 207.90 L351.61 207.40 L351.66 206.90 L351.71 206.40 L351.75 205.90 L351.79 205.40 L351.84 204.90 L351.88 204.40 L351.92 203.90 L351.97 203.40 L352.01 202.90 L352.04 202.40 L352.07 201.90 L352.10 201.40 L352.13 200.90 L352.14 200.40 L352.15 199.90 L352.16 199.40 L352.17 198.90 L352.17 198.40 L352.18 197.90 L352.18 197.40 L352.19 196.90 L352.20 196.40 L352.20 195.90 L352.21 195.40 L352.21 194.90 L352.21 194.40 L352.22 193.90 L352.22 193.40 L352.23 192.90 L352.23 192.40 L352.23 191.90 L352.24 191.40 L352.24 190.90 L352.24 190.40 L352.24 189.90 L352.24 189.40 L352.25 188.90 L352.25 188.40 L352.25 187.90 L352.25 187.40 L352.25 186.90 L352.25 186.40 L352.25 185.90Z" fill="#3f83bc" stroke="#151515" stroke-width="1.15" stroke-linejoin="round"/>
<path d="M394.15 154.00 L394.15 154.50 L394.15 155.00 L394.15 155.50 L394.15 156.00 L394.15 156.50 L394.16 157.00 L394.16 157.50 L394.16 158.00 L394.16 158.50 L394.17 159.00 L394.17 159.50 L394.18 160.00 L394.18 160.50 L394.19 161.00 L394.19 161.50 L394.20 162.00 L394.21 162.50 L394.21 163.00 L394.22 163.50 L394.23 164.00 L394.24 164.50 L394.25 165.00 L394.28 165.50 L394.34 166.00 L394.42 166.50 L394.53 167.00 L394.65 167.50 L394.79 168.00 L394.94 168.50 L395.09 169.00 L395.25 169.50 L395.44 170.00 L395.65 170.50 L395.90 171.00 L396.16 171.50 L396.45 172.00 L396.74 172.50 L397.04 173.00 L397.35 173.50 L397.68 174.00 L398.05 174.50 L398.44 175.00 L398.85 175.50 L399.27 176.00 L399.67 176.50 L400.06 177.00 L400.42 177.50 L400.75 178.00 L401.10 178.50 L401.44 179.00 L401.77 179.50 L402.05 180.00 L402.25 180.50 L402.37 181.00 L402.44 181.50 L402.51 182.00 L402.56 182.50 L402.61 183.00 L402.64 183.50 L402.65 184.00 L402.61 184.50 L402.49 185.00 L402.35 185.50 L402.26 186.00 L402.28 186.50 L402.46 187.00 L402.75 187.50 L403.13 188.00 L403.54 188.50 L403.95 189.00 L404.32 189.50 L404.69 190.00 L405.09 190.50 L405.51 191.00 L405.93 191.50 L406.36 192.00 L406.78 192.50 L407.19 193.00 L407.58 193.50 L407.95 194.00 L408.33 194.50 L408.72 195.00 L409.10 195.50 L409.46 196.00 L409.79 196.50 L410.08 197.00 L410.33 197.50 L410.52 198.00 L410.71 198.50 L410.88 199.00 L411.02 199.50 L411.11 200.00 L411.15 200.50 L411.09 201.00 L410.93 201.50 L410.70 202.00 L410.40 202.50 L410.07 203.00 L409.72 203.50 L409.38 204.00 L409.05 204.50 L408.68 205.00 L408.27 205.50 L407.84 206.00 L407.40 206.50 L406.97 207.00 L406.57 207.50 L406.16 208.00 L405.73 208.50 L405.31 209.00 L404.92 209.50 L404.57 210.00 L404.30 210.50 L404.07 211.00 L403.85 211.50 L403.65 212.00 L403.47 212.50 L403.34 213.00 L403.26 213.50 L403.25 214.00 L403.30 214.50 L403.38 215.00 L403.47 215.50 L403.56 216.00 L403.62 216.50 L403.65 217.00 L403.65 217.50 L403.65 218.00 L403.65 218.50 L403.65 219.00 L403.65 219.50 L403.65 220.00 L403.65 220.50 L403.65 221.00 L403.64 221.50 L403.58 222.00 L403.47 222.50 L403.33 223.00 L403.16 223.50 L402.98 224.00 L402.78 224.50 L402.59 225.00 L402.41 225.50 L402.23 226.00 L402.03 226.50 L401.81 227.00 L401.59 227.50 L401.36 228.00 L401.12 228.50 L400.88 229.00 L400.64 229.50 L400.41 230.00 L400.16 230.50 L399.90 231.00 L399.64 231.50 L399.38 232.00 L399.12 232.50 L398.87 233.00 L398.63 233.50 L398.41 234.00 L398.19 234.50 L397.98 235.00 L397.77 235.50 L397.56 236.00 L397.37 236.50 L397.19 237.00 L397.03 237.50 L396.88 238.00 L396.74 238.50 L396.61 239.00 L396.49 239.50 L396.37 240.00 L396.27 240.50 L396.17 241.00 L396.08 241.50 L396.00 242.00 L395.94 242.50 L395.88 243.00 L395.82 243.50 L395.76 244.00 L395.72 244.50 L395.68 245.00 L395.66 245.50 L395.65 246.00 L395.67 246.50 L395.72 247.00 L395.79 247.50 L395.87 248.00 L395.97 248.50 L396.06 249.00 L396.15 249.50 L396.26 250.00 L396.40 250.50 L396.55 251.00 L396.69 251.50 L396.80 252.00 L396.85 252.50 L396.82 253.00 L396.70 253.50 L396.53 254.00 L396.33 254.50 L396.15 255.00 L395.97 255.50 L395.78 256.00 L395.57 256.50 L395.35 257.00 L395.08 257.50 L394.78 258.00 L394.51 258.50 L394.35 259.00 L394.27 259.50 L394.21 260.00 L394.17 260.50 L394.15 261.00 L394.15 261.50 L394.15 262.00 L394.15 262.50 L394.15 263.00 L394.15 263.50 L394.15 264.00 L394.15 264.50 L394.15 265.00 L394.15 265.50 L394.15 266.00 L394.15 266.50 L394.15 267.00 L394.15 267.50 L394.15 268.00 L394.15 268.50 L394.15 269.00 L394.15 269.50 L394.15 270.00 L394.15 270.50 L394.15 271.00 L394.15 271.50 L394.15 272.00 L394.15 272.50 L394.15 273.00 L394.15 273.50 L394.15 274.00 L394.15 274.50 L394.15 275.00 L394.15 275.50 L394.15 276.00 L394.15 276.50 L394.15 277.00 L394.15 277.50 L394.15 278.00 L394.15 278.50 L394.15 279.00 L394.15 279.50 L394.15 280.00 L394.15 280.50 L394.15 281.00 L394.15 281.50 L394.15 282.00 L394.15 282.50 L394.15 283.00 L394.15 283.50 L394.15 284.00 L394.15 284.50 L394.15 285.00 L394.15 285.50 L394.15 286.00 L394.15 286.50 L394.15 287.00 L394.15 287.50 L394.15 288.00 L394.15 288.50 L394.15 289.00 L394.15 289.50 L394.15 290.00 L394.15 290.50 L394.15 291.00 L394.15 291.50 L394.15 292.00 L394.15 292.50 L394.15 293.00 L394.15 293.50 L394.15 294.00 L394.15 294.50 L394.15 295.00 L394.15 295.50 L394.15 296.00 L394.15 296.50 L394.15 297.00 L394.15 297.50 L394.15 298.00 L394.15 298.50 L394.15 298.90 L394.05 298.90 L394.05 298.50 L394.05 298.00 L394.05 297.50 L394.05 297.00 L394.05 296.50 L394.05 296.00 L394.05 295.50 L394.05 295.00 L394.05 294.50 L394.05 294.00 L394.05 293.50 L394.05 293.00 L394.05 292.50 L394.05 292.00 L394.05 291.50 L394.05 291.00 L394.05 290.50 L394.05 290.00 L394.05 289.50 L394.05 289.00 L394.05 288.50 L394.05 288.00 L394.05 287.50 L394.05 287.00 L394.05 286.50 L394.05 286.00 L394.05 285.50 L394.05 285.00 L394.05 284.50 L394.05 284.00 L394.05 283.50 L394.05 283.00 L394.05 282.50 L394.05 282.00 L394.05 281.50 L394.05 281.00 L394.05 280.50 L394.05 280.00 L394.05 279.50 L394.05 279.00 L394.05 278.50 L394.05 278.00 L394.05 277.50 L394.05 277.00 L394.05 276.50 L394.05 276.00 L394.05 275.50 L394.05 275.00 L394.05 274.50 L394.05 274.00 L394.05 273.50 L394.05 273.00 L394.05 272.50 L394.05 272.00 L394.05 271.50 L394.05 271.00 L394.05 270.50 L394.05 270.00 L394.05 269.50 L394.05 269.00 L394.05 268.50 L394.05 268.00 L394.05 267.50 L394.05 267.00 L394.05 266.50 L394.05 266.00 L394.05 265.50 L394.05 265.00 L394.05 264.50 L394.05 264.00 L394.05 263.50 L394.05 263.00 L394.05 262.50 L394.05 262.00 L394.05 261.50 L394.05 261.00 L394.03 260.50 L393.99 260.00 L393.93 259.50 L393.85 259.00 L393.69 258.50 L393.42 258.00 L393.12 257.50 L392.85 257.00 L392.63 256.50 L392.42 256.00 L392.23 255.50 L392.05 255.00 L391.87 254.50 L391.67 254.00 L391.50 253.50 L391.38 253.00 L391.35 252.50 L391.40 252.00 L391.51 251.50 L391.65 251.00 L391.80 250.50 L391.94 250.00 L392.05 249.50 L392.14 249.00 L392.23 248.50 L392.33 248.00 L392.41 247.50 L392.48 247.00 L392.53 246.50 L392.55 246.00 L392.54 245.50 L392.52 245.00 L392.48 244.50 L392.44 244.00 L392.38 243.50 L392.32 243.00 L392.26 242.50 L392.20 242.00 L392.12 241.50 L392.03 241.00 L391.93 240.50 L391.83 240.00 L391.71 239.50 L391.59 239.00 L391.46 238.50 L391.32 238.00 L391.17 237.50 L391.01 237.00 L390.83 236.50 L390.64 236.00 L390.43 235.50 L390.22 235.00 L390.01 234.50 L389.79 234.00 L389.57 233.50 L389.33 233.00 L389.08 232.50 L388.82 232.00 L388.56 231.50 L388.30 231.00 L388.04 230.50 L387.79 230.00 L387.56 229.50 L387.32 229.00 L387.08 228.50 L386.84 228.00 L386.61 227.50 L386.39 227.00 L386.17 226.50 L385.97 226.00 L385.79 225.50 L385.61 225.00 L385.42 224.50 L385.22 224.00 L385.04 223.50 L384.87 223.00 L384.73 222.50 L384.62 222.00 L384.56 221.50 L384.55 221.00 L384.55 220.50 L384.55 220.00 L384.55 219.50 L384.55 219.00 L384.55 218.50 L384.55 218.00 L384.55 217.50 L384.55 217.00 L384.58 216.50 L384.64 216.00 L384.73 215.50 L384.82 215.00 L384.90 214.50 L384.95 214.00 L384.94 213.50 L384.86 213.00 L384.73 212.50 L384.55 212.00 L384.35 211.50 L384.13 211.00 L383.90 210.50 L383.63 210.00 L383.28 209.50 L382.89 209.00 L382.47 208.50 L382.04 208.00 L381.63 207.50 L381.23 207.00 L380.80 206.50 L380.36 206.00 L379.93 205.50 L379.52 205.00 L379.15 204.50 L378.82 204.00 L378.48 203.50 L378.13 203.00 L377.80 202.50 L377.50 202.00 L377.27 201.50 L377.11 201.00 L377.05 200.50 L377.09 200.00 L377.18 199.50 L377.32 199.00 L377.49 198.50 L377.68 198.00 L377.87 197.50 L378.12 197.00 L378.41 196.50 L378.74 196.00 L379.10 195.50 L379.48 195.00 L379.87 194.50 L380.25 194.00 L380.62 193.50 L381.01 193.00 L381.42 192.50 L381.84 192.00 L382.27 191.50 L382.69 191.00 L383.11 190.50 L383.51 190.00 L383.88 189.50 L384.25 189.00 L384.66 188.50 L385.07 188.00 L385.45 187.50 L385.74 187.00 L385.92 186.50 L385.94 186.00 L385.85 185.50 L385.71 185.00 L385.59 184.50 L385.55 184.00 L385.56 183.50 L385.59 183.00 L385.64 182.50 L385.69 182.00 L385.76 181.50 L385.83 181.00 L385.95 180.50 L386.15 180.00 L386.43 179.50 L386.76 179.00 L387.10 178.50 L387.45 178.00 L387.78 177.50 L388.14 177.00 L388.53 176.50 L388.93 176.00 L389.35 175.50 L389.76 175.00 L390.15 174.50 L390.52 174.00 L390.85 173.50 L391.16 173.00 L391.46 172.50 L391.75 172.00 L392.04 171.50 L392.30 171.00 L392.55 170.50 L392.76 170.00 L392.95 169.50 L393.11 169.00 L393.26 168.50 L393.41 168.00 L393.55 167.50 L393.67 167.00 L393.78 166.50 L393.86 166.00 L393.92 165.50 L393.95 165.00 L393.96 164.50 L393.97 164.00 L393.98 163.50 L393.99 163.00 L393.99 162.50 L394.00 162.00 L394.01 161.50 L394.01 161.00 L394.02 160.50 L394.02 160.00 L394.03 159.50 L394.03 159.00 L394.04 158.50 L394.04 158.00 L394.04 157.50 L394.04 157.00 L394.05 156.50 L394.05 156.00 L394.05 155.50 L394.05 155.00 L394.05 154.50 L394.05 154.00Z" fill="#e7231f" stroke="#151515" stroke-width="1.15" stroke-linejoin="round"/>
<path d="M428.35 175.70 L428.35 176.20 L428.35 176.70 L428.35 177.20 L428.36 177.70 L428.36 178.20 L428.37 178.70 L428.37 179.20 L428.38 179.70 L428.39 180.20 L428.40 180.70 L428.41 181.20 L428.42 181.70 L428.43 182.20 L428.44 182.70 L428.46 183.20 L428.49 183.70 L428.54 184.20 L428.60 184.70 L428.68 185.20 L428.76 185.70 L428.85 186.20 L428.95 186.70 L429.09 187.20 L429.24 187.70 L429.41 188.20 L429.59 188.70 L429.78 189.20 L429.96 189.70 L430.16 190.20 L430.38 190.70 L430.61 191.20 L430.85 191.70 L431.10 192.20 L431.36 192.70 L431.64 193.20 L431.95 193.70 L432.27 194.20 L432.60 194.70 L432.93 195.20 L433.26 195.70 L433.58 196.20 L433.89 196.70 L434.19 197.20 L434.48 197.70 L434.77 198.20 L435.05 198.70 L435.33 199.20 L435.59 199.70 L435.85 200.20 L436.10 200.70 L436.34 201.20 L436.57 201.70 L436.80 202.20 L437.02 202.70 L437.23 203.20 L437.44 203.70 L437.65 204.20 L437.87 204.70 L438.10 205.20 L438.35 205.70 L438.62 206.20 L438.89 206.70 L439.18 207.20 L439.47 207.70 L439.77 208.20 L440.08 208.70 L440.39 209.20 L440.72 209.70 L441.07 210.20 L441.42 210.70 L441.82 211.20 L442.23 211.70 L442.65 212.20 L443.05 212.70 L443.45 213.20 L443.85 213.70 L444.22 214.20 L444.50 214.70 L444.72 215.20 L444.93 215.70 L445.11 216.20 L445.25 216.70 L445.34 217.20 L445.34 217.70 L445.21 218.20 L444.99 218.70 L444.72 219.20 L444.42 219.70 L444.01 220.20 L443.52 220.70 L443.05 221.20 L442.62 221.70 L442.18 222.20 L441.74 222.70 L441.30 223.20 L440.88 223.70 L440.48 224.20 L440.11 224.70 L439.77 225.20 L439.47 225.70 L439.15 226.20 L438.84 226.70 L438.53 227.20 L438.25 227.70 L438.01 228.20 L437.82 228.70 L437.69 229.20 L437.65 229.70 L437.66 230.20 L437.67 230.70 L437.69 231.20 L437.71 231.70 L437.74 232.20 L437.77 232.70 L437.80 233.20 L437.82 233.70 L437.84 234.20 L437.85 234.70 L437.85 235.20 L437.81 235.70 L437.75 236.20 L437.66 236.70 L437.55 237.20 L437.43 237.70 L437.30 238.20 L437.17 238.70 L437.05 239.20 L436.93 239.70 L436.80 240.20 L436.65 240.70 L436.51 241.20 L436.36 241.70 L436.21 242.20 L436.06 242.70 L435.92 243.20 L435.77 243.70 L435.63 244.20 L435.48 244.70 L435.33 245.20 L435.18 245.70 L435.03 246.20 L434.87 246.70 L434.71 247.20 L434.55 247.70 L434.38 248.20 L434.21 248.70 L434.03 249.20 L433.85 249.70 L433.67 250.20 L433.48 250.70 L433.30 251.20 L433.11 251.70 L432.93 252.20 L432.75 252.70 L432.57 253.20 L432.40 253.70 L432.24 254.20 L432.08 254.70 L431.92 255.20 L431.75 255.70 L431.57 256.20 L431.39 256.70 L431.21 257.20 L431.04 257.70 L430.88 258.20 L430.74 258.70 L430.62 259.20 L430.53 259.70 L430.47 260.20 L430.45 260.70 L430.46 261.20 L430.50 261.70 L430.56 262.20 L430.63 262.70 L430.71 263.20 L430.78 263.70 L430.91 264.20 L431.06 264.70 L431.18 265.20 L431.25 265.70 L431.23 266.20 L431.15 266.70 L431.03 267.20 L430.88 267.70 L430.73 268.20 L430.59 268.70 L430.44 269.20 L430.27 269.70 L430.08 270.20 L429.90 270.70 L429.73 271.20 L429.58 271.70 L429.44 272.20 L429.30 272.70 L429.16 273.20 L429.03 273.70 L428.91 274.20 L428.80 274.70 L428.70 275.20 L428.61 275.70 L428.55 276.20 L428.50 276.70 L428.45 277.20 L428.41 277.70 L428.37 278.20 L428.35 278.70 L428.35 279.20 L428.35 279.70 L428.35 280.20 L428.35 280.70 L428.35 281.20 L428.35 281.70 L428.35 282.20 L428.35 282.70 L428.35 283.20 L428.35 283.70 L428.35 284.20 L428.35 284.70 L428.35 285.20 L428.35 285.70 L428.35 286.20 L428.35 286.70 L428.35 287.20 L428.35 287.70 L428.35 288.20 L428.35 288.70 L428.35 289.20 L428.35 289.70 L428.35 290.20 L428.35 290.70 L428.35 291.20 L428.35 291.70 L428.35 292.20 L428.35 292.70 L428.35 293.20 L428.35 293.70 L428.35 294.20 L428.35 294.70 L428.35 295.20 L428.35 295.70 L428.35 296.20 L428.35 296.70 L428.35 297.20 L428.35 297.70 L428.35 298.20 L428.35 298.70 L428.35 299.20 L428.35 299.70 L428.35 300.20 L428.35 300.70 L428.35 301.20 L428.35 301.70 L428.35 302.20 L428.35 302.70 L428.35 303.20 L428.35 303.70 L428.35 304.20 L428.35 304.70 L428.35 305.20 L428.35 305.70 L428.35 306.20 L428.35 306.70 L428.35 307.20 L428.35 307.70 L428.35 308.20 L428.35 308.70 L428.35 309.20 L428.35 309.70 L428.35 310.20 L428.35 310.70 L428.35 311.20 L428.35 311.70 L428.35 312.20 L428.35 312.70 L428.35 313.20 L428.35 313.70 L428.35 314.20 L428.35 314.70 L428.35 315.20 L428.35 315.70 L428.35 316.20 L428.35 316.70 L428.35 317.20 L428.35 317.70 L428.35 318.20 L428.35 318.70 L428.35 319.20 L428.35 319.70 L428.35 320.20 L428.35 320.70 L428.35 321.20 L428.35 321.70 L428.35 322.20 L428.35 322.70 L428.35 323.20 L428.35 323.70 L428.35 324.20 L428.35 324.70 L428.35 325.20 L428.35 325.70 L428.35 326.20 L428.35 326.70 L428.35 327.20 L428.35 327.70 L428.35 328.20 L428.35 328.70 L428.35 329.20 L428.35 329.70 L428.35 330.20 L428.35 330.70 L428.35 331.20 L428.35 331.70 L428.35 332.20 L428.35 332.70 L428.35 333.20 L428.35 333.60 L428.25 333.60 L428.25 333.20 L428.25 332.70 L428.25 332.20 L428.25 331.70 L428.25 331.20 L428.25 330.70 L428.25 330.20 L428.25 329.70 L428.25 329.20 L428.25 328.70 L428.25 328.20 L428.25 327.70 L428.25 327.20 L428.25 326.70 L428.25 326.20 L428.25 325.70 L428.25 325.20 L428.25 324.70 L428.25 324.20 L428.25 323.70 L428.25 323.20 L428.25 322.70 L428.25 322.20 L428.25 321.70 L428.25 321.20 L428.25 320.70 L428.25 320.20 L428.25 319.70 L428.25 319.20 L428.25 318.70 L428.25 318.20 L428.25 317.70 L428.25 317.20 L428.25 316.70 L428.25 316.20 L428.25 315.70 L428.25 315.20 L428.25 314.70 L428.25 314.20 L428.25 313.70 L428.25 313.20 L428.25 312.70 L428.25 312.20 L428.25 311.70 L428.25 311.20 L428.25 310.70 L428.25 310.20 L428.25 309.70 L428.25 309.20 L428.25 308.70 L428.25 308.20 L428.25 307.70 L428.25 307.20 L428.25 306.70 L428.25 306.20 L428.25 305.70 L428.25 305.20 L428.25 304.70 L428.25 304.20 L428.25 303.70 L428.25 303.20 L428.25 302.70 L428.25 302.20 L428.25 301.70 L428.25 301.20 L428.25 300.70 L428.25 300.20 L428.25 299.70 L428.25 299.20 L428.25 298.70 L428.25 298.20 L428.25 297.70 L428.25 297.20 L428.25 296.70 L428.25 296.20 L428.25 295.70 L428.25 295.20 L428.25 294.70 L428.25 294.20 L428.25 293.70 L428.25 293.20 L428.25 292.70 L428.25 292.20 L428.25 291.70 L428.25 291.20 L428.25 290.70 L428.25 290.20 L428.25 289.70 L428.25 289.20 L428.25 288.70 L428.25 288.20 L428.25 287.70 L428.25 287.20 L428.25 286.70 L428.25 286.20 L428.25 285.70 L428.25 285.20 L428.25 284.70 L428.25 284.20 L428.25 283.70 L428.25 283.20 L428.25 282.70 L428.25 282.20 L428.25 281.70 L428.25 281.20 L428.25 280.70 L428.25 280.20 L428.25 279.70 L428.25 279.20 L428.25 278.70 L428.23 278.20 L428.19 277.70 L428.15 277.20 L428.10 276.70 L428.05 276.20 L427.99 275.70 L427.90 275.20 L427.80 274.70 L427.69 274.20 L427.57 273.70 L427.44 273.20 L427.30 272.70 L427.16 272.20 L427.02 271.70 L426.87 271.20 L426.70 270.70 L426.52 270.20 L426.33 269.70 L426.16 269.20 L426.01 268.70 L425.87 268.20 L425.72 267.70 L425.57 267.20 L425.45 266.70 L425.37 266.20 L425.35 265.70 L425.42 265.20 L425.54 264.70 L425.69 264.20 L425.82 263.70 L425.89 263.20 L425.97 262.70 L426.04 262.20 L426.10 261.70 L426.14 261.20 L426.15 260.70 L426.13 260.20 L426.07 259.70 L425.98 259.20 L425.86 258.70 L425.72 258.20 L425.56 257.70 L425.39 257.20 L425.21 256.70 L425.03 256.20 L424.85 255.70 L424.68 255.20 L424.52 254.70 L424.36 254.20 L424.20 253.70 L424.03 253.20 L423.85 252.70 L423.67 252.20 L423.49 251.70 L423.30 251.20 L423.12 250.70 L422.93 250.20 L422.75 249.70 L422.57 249.20 L422.39 248.70 L422.22 248.20 L422.05 247.70 L421.89 247.20 L421.73 246.70 L421.57 246.20 L421.42 245.70 L421.27 245.20 L421.12 244.70 L420.97 244.20 L420.83 243.70 L420.68 243.20 L420.54 242.70 L420.39 242.20 L420.24 241.70 L420.09 241.20 L419.95 240.70 L419.80 240.20 L419.67 239.70 L419.55 239.20 L419.43 238.70 L419.30 238.20 L419.17 237.70 L419.05 237.20 L418.94 236.70 L418.85 236.20 L418.79 235.70 L418.75 235.20 L418.75 234.70 L418.76 234.20 L418.78 233.70 L418.80 233.20 L418.83 232.70 L418.86 232.20 L418.89 231.70 L418.91 231.20 L418.93 230.70 L418.94 230.20 L418.95 229.70 L418.91 229.20 L418.78 228.70 L418.59 228.20 L418.35 227.70 L418.07 227.20 L417.76 226.70 L417.45 226.20 L417.13 225.70 L416.83 225.20 L416.49 224.70 L416.12 224.20 L415.72 223.70 L415.30 223.20 L414.86 222.70 L414.42 222.20 L413.98 221.70 L413.55 221.20 L413.08 220.70 L412.59 220.20 L412.18 219.70 L411.88 219.20 L411.61 218.70 L411.39 218.20 L411.26 217.70 L411.26 217.20 L411.35 216.70 L411.49 216.20 L411.67 215.70 L411.88 215.20 L412.10 214.70 L412.38 214.20 L412.75 213.70 L413.15 213.20 L413.55 212.70 L413.95 212.20 L414.37 211.70 L414.78 211.20 L415.18 210.70 L415.53 210.20 L415.88 209.70 L416.21 209.20 L416.52 208.70 L416.83 208.20 L417.13 207.70 L417.42 207.20 L417.71 206.70 L417.98 206.20 L418.25 205.70 L418.50 205.20 L418.73 204.70 L418.95 204.20 L419.16 203.70 L419.37 203.20 L419.58 202.70 L419.80 202.20 L420.03 201.70 L420.26 201.20 L420.50 200.70 L420.75 200.20 L421.01 199.70 L421.27 199.20 L421.55 198.70 L421.83 198.20 L422.12 197.70 L422.41 197.20 L422.71 196.70 L423.02 196.20 L423.34 195.70 L423.67 195.20 L424.00 194.70 L424.33 194.20 L424.65 193.70 L424.96 193.20 L425.24 192.70 L425.50 192.20 L425.75 191.70 L425.99 191.20 L426.22 190.70 L426.44 190.20 L426.64 189.70 L426.82 189.20 L427.01 188.70 L427.19 188.20 L427.36 187.70 L427.51 187.20 L427.65 186.70 L427.75 186.20 L427.84 185.70 L427.92 185.20 L428.00 184.70 L428.06 184.20 L428.11 183.70 L428.14 183.20 L428.16 182.70 L428.17 182.20 L428.18 181.70 L428.19 181.20 L428.20 180.70 L428.21 180.20 L428.22 179.70 L428.23 179.20 L428.23 178.70 L428.24 178.20 L428.24 177.70 L428.25 177.20 L428.25 176.70 L428.25 176.20 L428.25 175.70Z" fill="#3f83bc" stroke="#151515" stroke-width="1.15" stroke-linejoin="round"/>
<path d="M470.15 193.30 L470.15 193.80 L470.15 194.30 L470.15 194.80 L470.15 195.30 L470.16 195.80 L470.16 196.30 L470.16 196.80 L470.16 197.30 L470.17 197.80 L470.17 198.30 L470.18 198.80 L470.18 199.30 L470.19 199.80 L470.20 200.30 L470.21 200.80 L470.22 201.30 L470.22 201.80 L470.23 202.30 L470.25 202.80 L470.26 203.30 L470.31 203.80 L470.39 204.30 L470.50 204.80 L470.63 205.30 L470.80 205.80 L470.98 206.30 L471.20 206.80 L471.72 207.30 L472.38 207.80 L472.85 208.30 L473.09 208.80 L473.32 209.30 L473.49 209.80 L473.61 210.30 L473.76 210.80 L473.97 211.30 L474.14 211.80 L474.19 212.30 L474.19 212.80 L474.28 213.30 L474.50 213.80 L474.72 214.30 L474.78 214.80 L474.70 215.30 L474.67 215.80 L474.83 216.30 L475.09 216.80 L475.23 217.30 L475.18 217.80 L475.11 218.30 L475.25 218.80 L475.68 219.30 L476.18 219.80 L476.45 220.30 L476.52 220.80 L476.86 221.30 L477.71 221.80 L478.76 222.30 L479.40 222.80 L479.62 223.30 L479.96 223.80 L480.91 224.30 L482.23 224.80 L483.25 225.30 L483.66 225.80 L483.88 226.30 L484.56 226.80 L485.88 227.30 L486.99 227.80 L487.24 228.30 L487.02 228.80 L486.89 229.30 L487.07 229.80 L487.09 230.30 L486.54 230.80 L485.44 231.30 L484.46 231.80 L484.02 232.30 L484.04 232.80 L483.92 233.30 L483.27 233.80 L482.30 234.30 L481.61 234.80 L481.40 235.30 L481.27 235.80 L480.67 236.30 L479.59 236.80 L478.58 237.30 L478.11 237.80 L477.98 238.30 L477.53 238.80 L476.63 239.30 L475.73 239.80 L475.14 240.30 L474.77 240.80 L474.34 241.30 L473.78 241.80 L473.23 242.30 L472.76 242.80 L472.33 243.30 L471.95 243.80 L471.65 244.30 L471.40 244.80 L471.18 245.30 L470.98 245.80 L470.82 246.30 L470.69 246.80 L470.60 247.30 L470.52 247.80 L470.46 248.30 L470.41 248.80 L470.36 249.30 L470.31 249.80 L470.26 250.30 L470.21 250.80 L470.17 251.30 L470.15 251.80 L470.15 252.30 L470.15 252.80 L470.15 253.30 L470.15 253.80 L470.15 254.30 L470.15 254.80 L470.15 255.30 L470.15 255.80 L470.15 256.30 L470.15 256.80 L470.15 257.30 L470.15 257.80 L470.15 258.30 L470.15 258.80 L470.15 259.30 L470.15 259.80 L470.15 260.30 L470.15 260.80 L470.15 261.30 L470.15 261.80 L470.15 262.30 L470.15 262.80 L470.15 263.30 L470.15 263.80 L470.15 264.30 L470.15 264.80 L470.15 265.30 L470.15 265.80 L470.15 266.30 L470.15 266.80 L470.15 267.30 L470.15 267.80 L470.15 268.30 L470.15 268.80 L470.15 269.30 L470.15 269.80 L470.15 270.30 L470.15 270.80 L470.15 271.30 L470.15 271.80 L470.15 272.30 L470.15 272.80 L470.15 273.30 L470.15 273.80 L470.15 274.30 L470.15 274.80 L470.15 275.30 L470.15 275.80 L470.15 276.30 L470.15 276.80 L470.15 277.30 L470.15 277.80 L470.15 278.30 L470.15 278.60 L470.05 278.60 L470.05 278.30 L470.05 277.80 L470.05 277.30 L470.05 276.80 L470.05 276.30 L470.05 275.80 L470.05 275.30 L470.05 274.80 L470.05 274.30 L470.05 273.80 L470.05 273.30 L470.05 272.80 L470.05 272.30 L470.05 271.80 L470.05 271.30 L470.05 270.80 L470.05 270.30 L470.05 269.80 L470.05 269.30 L470.05 268.80 L470.05 268.30 L470.05 267.80 L470.05 267.30 L470.05 266.80 L470.05 266.30 L470.05 265.80 L470.05 265.30 L470.05 264.80 L470.05 264.30 L470.05 263.80 L470.05 263.30 L470.05 262.80 L470.05 262.30 L470.05 261.80 L470.05 261.30 L470.05 260.80 L470.05 260.30 L470.05 259.80 L470.05 259.30 L470.05 258.80 L470.05 258.30 L470.05 257.80 L470.05 257.30 L470.05 256.80 L470.05 256.30 L470.05 255.80 L470.05 255.30 L470.05 254.80 L470.05 254.30 L470.05 253.80 L470.05 253.30 L470.05 252.80 L470.05 252.30 L470.05 251.80 L470.03 251.30 L469.99 250.80 L469.94 250.30 L469.89 249.80 L469.84 249.30 L469.79 248.80 L469.74 248.30 L469.68 247.80 L469.60 247.30 L469.51 246.80 L469.38 246.30 L469.22 245.80 L469.02 245.30 L468.80 244.80 L468.55 244.30 L468.25 243.80 L467.87 243.30 L467.44 242.80 L466.97 242.30 L466.42 241.80 L465.86 241.30 L465.43 240.80 L465.06 240.30 L464.47 239.80 L463.57 239.30 L462.67 238.80 L462.22 238.30 L462.09 237.80 L461.62 237.30 L460.61 236.80 L459.53 236.30 L458.93 235.80 L458.80 235.30 L458.59 234.80 L457.90 234.30 L456.93 233.80 L456.28 233.30 L456.16 232.80 L456.18 232.30 L455.74 231.80 L454.76 231.30 L453.66 230.80 L453.11 230.30 L453.13 229.80 L453.31 229.30 L453.18 228.80 L452.96 228.30 L453.21 227.80 L454.32 227.30 L455.64 226.80 L456.32 226.30 L456.54 225.80 L456.95 225.30 L457.97 224.80 L459.29 224.30 L460.24 223.80 L460.58 223.30 L460.80 222.80 L461.44 222.30 L462.49 221.80 L463.34 221.30 L463.68 220.80 L463.75 220.30 L464.02 219.80 L464.52 219.30 L464.95 218.80 L465.09 218.30 L465.02 217.80 L464.97 217.30 L465.11 216.80 L465.37 216.30 L465.53 215.80 L465.50 215.30 L465.42 214.80 L465.48 214.30 L465.70 213.80 L465.92 213.30 L466.01 212.80 L466.01 212.30 L466.06 211.80 L466.23 211.30 L466.44 210.80 L466.59 210.30 L466.71 209.80 L466.88 209.30 L467.11 208.80 L467.35 208.30 L467.82 207.80 L468.48 207.30 L469.00 206.80 L469.22 206.30 L469.40 205.80 L469.57 205.30 L469.70 204.80 L469.81 204.30 L469.89 203.80 L469.94 203.30 L469.95 202.80 L469.97 202.30 L469.98 201.80 L469.98 201.30 L469.99 200.80 L470.00 200.30 L470.01 199.80 L470.02 199.30 L470.02 198.80 L470.03 198.30 L470.03 197.80 L470.04 197.30 L470.04 196.80 L470.04 196.30 L470.04 195.80 L470.05 195.30 L470.05 194.80 L470.05 194.30 L470.05 193.80 L470.05 193.30Z" fill="#e7231f" stroke="#151515" stroke-width="1.15" stroke-linejoin="round"/>
<path d="M504.35 213.20 L504.35 213.70 L504.35 214.20 L504.35 214.70 L504.35 215.20 L504.36 215.70 L504.36 216.20 L504.36 216.70 L504.36 217.20 L504.37 217.70 L504.37 218.20 L504.38 218.70 L504.38 219.20 L504.39 219.70 L504.40 220.20 L504.40 220.70 L504.41 221.20 L504.42 221.70 L504.43 222.20 L504.44 222.70 L504.46 223.20 L504.50 223.70 L504.57 224.20 L504.67 224.70 L504.80 225.20 L504.95 225.70 L505.15 226.20 L505.60 226.70 L506.20 227.20 L506.78 227.70 L507.21 228.20 L507.60 228.70 L507.92 229.20 L507.97 229.70 L507.90 230.20 L507.80 230.70 L507.70 231.20 L507.58 231.70 L507.42 232.20 L507.25 232.70 L506.98 233.20 L506.56 233.70 L506.10 234.20 L505.71 234.70 L505.47 235.20 L505.47 235.70 L505.58 236.20 L505.77 236.70 L506.02 237.20 L506.31 237.70 L506.62 238.20 L506.96 238.70 L507.39 239.20 L507.94 239.70 L508.59 240.20 L509.23 240.70 L509.77 241.20 L510.37 241.70 L511.25 242.20 L512.32 242.70 L513.22 243.20 L513.86 243.70 L514.51 244.20 L515.39 244.70 L516.44 245.20 L517.35 245.70 L517.94 246.20 L518.40 246.70 L519.02 247.20 L519.85 247.70 L520.60 248.20 L521.08 248.70 L521.19 249.20 L521.08 249.70 L521.06 250.20 L521.04 250.70 L520.73 251.20 L520.08 251.70 L519.15 252.20 L518.22 252.70 L517.39 253.20 L516.48 253.70 L515.38 254.20 L514.21 254.70 L513.21 255.20 L512.51 255.70 L511.89 256.20 L511.08 256.70 L510.19 257.20 L509.47 257.70 L508.95 258.20 L508.50 258.70 L508.01 259.20 L507.51 259.70 L507.08 260.20 L506.67 260.70 L506.26 261.20 L505.85 261.70 L505.47 262.20 L505.13 262.70 L504.86 263.20 L504.67 263.70 L504.57 264.20 L504.47 264.70 L504.40 265.20 L504.36 265.70 L504.35 266.20 L504.35 266.70 L504.35 267.20 L504.35 267.70 L504.35 268.20 L504.35 268.70 L504.35 269.20 L504.35 269.70 L504.35 270.20 L504.35 270.70 L504.35 271.20 L504.35 271.70 L504.35 272.20 L504.35 272.70 L504.35 273.20 L504.35 273.70 L504.35 274.20 L504.35 274.70 L504.35 275.20 L504.35 275.70 L504.35 276.20 L504.35 276.70 L504.35 277.20 L504.35 277.70 L504.35 278.20 L504.35 278.70 L504.35 279.20 L504.35 279.70 L504.35 280.20 L504.35 280.70 L504.35 281.20 L504.35 281.70 L504.35 282.20 L504.35 282.70 L504.35 283.20 L504.35 283.70 L504.35 284.20 L504.35 284.70 L504.35 285.20 L504.35 285.70 L504.35 286.20 L504.35 286.70 L504.35 287.20 L504.35 287.70 L504.35 288.20 L504.35 288.70 L504.35 289.20 L504.35 289.70 L504.35 290.20 L504.35 290.70 L504.35 291.20 L504.35 291.70 L504.35 292.20 L504.35 292.70 L504.35 293.20 L504.35 293.70 L504.35 294.20 L504.35 294.70 L504.35 295.20 L504.35 295.70 L504.35 296.20 L504.35 296.70 L504.35 297.20 L504.35 297.70 L504.35 298.20 L504.35 298.70 L504.35 299.20 L504.35 299.70 L504.35 300.20 L504.35 300.70 L504.35 301.20 L504.35 301.70 L504.35 302.20 L504.35 302.50 L504.25 302.50 L504.25 302.20 L504.25 301.70 L504.25 301.20 L504.25 300.70 L504.25 300.20 L504.25 299.70 L504.25 299.20 L504.25 298.70 L504.25 298.20 L504.25 297.70 L504.25 297.20 L504.25 296.70 L504.25 296.20 L504.25 295.70 L504.25 295.20 L504.25 294.70 L504.25 294.20 L504.25 293.70 L504.25 293.20 L504.25 292.70 L504.25 292.20 L504.25 291.70 L504.25 291.20 L504.25 290.70 L504.25 290.20 L504.25 289.70 L504.25 289.20 L504.25 288.70 L504.25 288.20 L504.25 287.70 L504.25 287.20 L504.25 286.70 L504.25 286.20 L504.25 285.70 L504.25 285.20 L504.25 284.70 L504.25 284.20 L504.25 283.70 L504.25 283.20 L504.25 282.70 L504.25 282.20 L504.25 281.70 L504.25 281.20 L504.25 280.70 L504.25 280.20 L504.25 279.70 L504.25 279.20 L504.25 278.70 L504.25 278.20 L504.25 277.70 L504.25 277.20 L504.25 276.70 L504.25 276.20 L504.25 275.70 L504.25 275.20 L504.25 274.70 L504.25 274.20 L504.25 273.70 L504.25 273.20 L504.25 272.70 L504.25 272.20 L504.25 271.70 L504.25 271.20 L504.25 270.70 L504.25 270.20 L504.25 269.70 L504.25 269.20 L504.25 268.70 L504.25 268.20 L504.25 267.70 L504.25 267.20 L504.25 266.70 L504.25 266.20 L504.24 265.70 L504.20 265.20 L504.13 264.70 L504.03 264.20 L503.93 263.70 L503.74 263.20 L503.47 262.70 L503.13 262.20 L502.75 261.70 L502.34 261.20 L501.93 260.70 L501.52 260.20 L501.09 259.70 L500.59 259.20 L500.10 258.70 L499.65 258.20 L499.13 257.70 L498.41 257.20 L497.52 256.70 L496.71 256.20 L496.09 255.70 L495.39 255.20 L494.39 254.70 L493.22 254.20 L492.12 253.70 L491.21 253.20 L490.38 252.70 L489.45 252.20 L488.52 251.70 L487.87 251.20 L487.56 250.70 L487.54 250.20 L487.52 249.70 L487.41 249.20 L487.52 248.70 L488.00 248.20 L488.75 247.70 L489.58 247.20 L490.20 246.70 L490.66 246.20 L491.25 245.70 L492.16 245.20 L493.21 244.70 L494.09 244.20 L494.74 243.70 L495.38 243.20 L496.28 242.70 L497.35 242.20 L498.23 241.70 L498.83 241.20 L499.37 240.70 L500.01 240.20 L500.66 239.70 L501.21 239.20 L501.64 238.70 L501.98 238.20 L502.29 237.70 L502.58 237.20 L502.83 236.70 L503.02 236.20 L503.13 235.70 L503.13 235.20 L502.89 234.70 L502.50 234.20 L502.04 233.70 L501.62 233.20 L501.35 232.70 L501.18 232.20 L501.02 231.70 L500.90 231.20 L500.80 230.70 L500.70 230.20 L500.63 229.70 L500.68 229.20 L501.00 228.70 L501.39 228.20 L501.82 227.70 L502.40 227.20 L503.00 226.70 L503.45 226.20 L503.65 225.70 L503.80 225.20 L503.93 224.70 L504.03 224.20 L504.10 223.70 L504.14 223.20 L504.16 222.70 L504.17 222.20 L504.18 221.70 L504.19 221.20 L504.20 220.70 L504.20 220.20 L504.21 219.70 L504.22 219.20 L504.22 218.70 L504.23 218.20 L504.23 217.70 L504.24 217.20 L504.24 216.70 L504.24 216.20 L504.24 215.70 L504.25 215.20 L504.25 214.70 L504.25 214.20 L504.25 213.70 L504.25 213.20Z" fill="#3f83bc" stroke="#151515" stroke-width="1.15" stroke-linejoin="round"/>
<path d="M545.85 114.30 L545.85 114.80 L545.85 115.30 L545.85 115.80 L545.85 116.30 L545.85 116.80 L545.85 117.30 L545.85 117.80 L545.85 118.30 L545.85 118.80 L545.85 119.30 L545.85 119.80 L545.85 120.30 L545.85 120.80 L545.85 121.30 L545.85 121.80 L545.85 122.30 L545.85 122.80 L545.85 123.30 L545.85 123.80 L545.85 124.30 L545.85 124.80 L545.85 125.30 L545.85 125.80 L545.85 126.30 L545.85 126.80 L545.85 127.30 L545.85 127.80 L545.85 128.30 L545.85 128.80 L545.85 129.30 L545.85 129.80 L545.85 130.30 L545.85 130.80 L545.85 131.30 L545.85 131.80 L545.85 132.30 L545.85 132.80 L545.85 133.30 L545.85 133.80 L545.85 134.30 L545.85 134.80 L545.85 135.30 L545.85 135.80 L545.85 136.30 L545.85 136.80 L545.85 137.30 L545.85 137.80 L545.85 138.30 L545.85 138.80 L545.85 139.30 L545.85 139.80 L545.85 140.30 L545.85 140.80 L545.85 141.30 L545.85 141.80 L545.85 142.30 L545.85 142.80 L545.85 143.30 L545.85 143.80 L545.85 144.30 L545.85 144.80 L545.85 145.30 L545.85 145.80 L545.85 146.30 L545.85 146.80 L545.85 147.30 L545.85 147.80 L545.85 148.30 L545.85 148.80 L545.85 149.30 L545.85 149.80 L545.85 150.30 L545.85 150.80 L545.85 151.30 L545.85 151.80 L545.85 152.30 L545.85 152.80 L545.85 153.30 L545.85 153.80 L545.85 154.30 L545.85 154.80 L545.85 155.30 L545.85 155.80 L545.85 156.30 L545.85 156.80 L545.85 157.30 L545.85 157.80 L545.85 158.30 L545.85 158.80 L545.85 159.30 L545.85 159.80 L545.85 160.30 L545.85 160.80 L545.85 161.30 L545.85 161.80 L545.85 162.30 L545.85 162.80 L545.85 163.30 L545.85 163.80 L545.85 164.30 L545.85 164.80 L545.85 165.30 L545.85 165.80 L545.85 166.30 L545.85 166.80 L545.85 167.30 L545.85 167.80 L545.85 168.30 L545.85 168.80 L545.85 169.30 L545.85 169.80 L545.85 170.30 L545.85 170.80 L545.85 171.30 L545.85 171.80 L545.85 172.30 L545.85 172.80 L545.85 173.30 L545.85 173.80 L545.85 174.30 L545.85 174.80 L545.85 175.30 L545.85 175.80 L545.85 176.30 L545.85 176.80 L545.85 177.30 L545.85 177.80 L545.85 178.30 L545.85 178.80 L545.85 179.30 L545.85 179.80 L545.85 180.30 L545.85 180.80 L545.85 181.30 L545.85 181.80 L545.85 182.30 L545.85 182.80 L545.85 183.30 L545.85 183.80 L545.85 184.30 L545.85 184.80 L545.85 185.30 L545.85 185.80 L545.85 186.30 L545.85 186.80 L545.85 187.30 L545.85 187.80 L545.85 188.30 L545.85 188.80 L545.85 189.30 L545.85 189.80 L545.85 190.30 L545.85 190.80 L545.85 191.30 L545.85 191.80 L545.85 192.30 L545.87 192.80 L545.89 193.30 L545.93 193.80 L545.97 194.30 L546.02 194.80 L546.07 195.30 L546.13 195.80 L546.19 196.30 L546.27 196.80 L546.37 197.30 L546.48 197.80 L546.60 198.30 L546.73 198.80 L546.85 199.30 L546.97 199.80 L547.08 200.30 L547.20 200.80 L547.33 201.30 L547.48 201.80 L547.67 202.30 L547.91 202.80 L548.30 203.30 L548.79 203.80 L549.35 204.30 L549.88 204.80 L550.47 205.30 L551.12 205.80 L551.71 206.30 L552.10 206.80 L552.37 207.30 L552.83 207.80 L553.58 208.30 L554.34 208.80 L554.75 209.30 L554.92 209.80 L555.25 210.30 L555.94 210.80 L556.76 211.30 L557.33 211.80 L557.56 212.30 L557.81 212.80 L558.39 213.30 L559.24 213.80 L559.95 214.30 L560.26 214.80 L560.34 215.30 L560.63 215.80 L561.25 216.30 L561.89 216.80 L562.17 217.30 L562.09 217.80 L562.04 218.30 L562.34 218.80 L562.83 219.30 L563.08 219.80 L562.92 220.30 L562.61 220.80 L562.54 221.30 L562.76 221.80 L562.92 222.30 L562.72 222.80 L562.27 223.30 L561.97 223.80 L562.04 224.30 L562.24 224.80 L562.19 225.30 L561.80 225.80 L561.41 226.30 L561.33 226.80 L561.52 227.30 L561.58 227.80 L561.26 228.30 L560.76 228.80 L560.47 229.30 L560.50 229.80 L560.53 230.30 L560.11 230.80 L559.35 231.30 L558.69 231.80 L558.51 232.30 L558.59 232.80 L558.50 233.30 L558.03 233.80 L557.44 234.30 L557.11 234.80 L557.08 235.30 L557.00 235.80 L556.56 236.30 L555.88 236.80 L555.35 237.30 L555.17 237.80 L555.10 238.30 L554.76 238.80 L554.08 239.30 L553.39 239.80 L553.04 240.30 L552.90 240.80 L552.63 241.30 L552.12 241.80 L551.55 242.30 L551.17 242.80 L550.96 243.30 L550.75 243.80 L550.41 244.30 L550.01 244.80 L549.67 245.30 L549.41 245.80 L549.15 246.30 L548.86 246.80 L548.58 247.30 L548.30 247.80 L548.02 248.30 L547.72 248.80 L547.42 249.30 L547.12 249.80 L546.83 250.30 L546.58 250.80 L546.37 251.30 L546.21 251.80 L546.12 252.30 L546.04 252.80 L545.97 253.30 L545.91 253.80 L545.87 254.30 L545.85 254.80 L545.85 255.30 L545.85 255.80 L545.85 256.30 L545.85 256.80 L545.85 257.30 L545.85 257.80 L545.85 258.30 L545.85 258.80 L545.85 259.30 L545.85 259.80 L545.85 260.30 L545.85 260.80 L545.85 261.30 L545.85 261.80 L545.85 262.30 L545.85 262.80 L545.85 263.30 L545.85 263.80 L545.85 264.30 L545.85 264.80 L545.85 265.30 L545.85 265.80 L545.85 266.30 L545.85 266.80 L545.85 267.30 L545.85 267.80 L545.85 268.30 L545.85 268.80 L545.85 269.30 L545.85 269.80 L545.85 270.30 L545.85 270.80 L545.85 271.30 L545.85 271.80 L545.85 272.30 L545.85 272.80 L545.85 273.30 L545.85 273.80 L545.85 274.30 L545.85 274.80 L545.85 275.30 L545.85 275.80 L545.85 276.30 L545.85 276.80 L545.85 277.30 L545.85 277.80 L545.85 278.30 L545.85 278.80 L545.85 279.30 L545.85 279.80 L545.85 280.30 L545.85 280.80 L545.85 281.30 L545.85 281.80 L545.85 282.30 L545.85 282.80 L545.85 283.30 L545.85 283.80 L545.85 284.30 L545.85 284.80 L545.85 285.30 L545.85 285.80 L545.85 286.30 L545.85 286.80 L545.85 287.30 L545.85 287.80 L545.85 288.30 L545.85 288.80 L545.85 289.30 L545.85 289.80 L545.85 290.30 L545.85 290.80 L545.85 291.30 L545.85 291.80 L545.85 292.30 L545.85 292.80 L545.85 293.20 L545.75 293.20 L545.75 292.80 L545.75 292.30 L545.75 291.80 L545.75 291.30 L545.75 290.80 L545.75 290.30 L545.75 289.80 L545.75 289.30 L545.75 288.80 L545.75 288.30 L545.75 287.80 L545.75 287.30 L545.75 286.80 L545.75 286.30 L545.75 285.80 L545.75 285.30 L545.75 284.80 L545.75 284.30 L545.75 283.80 L545.75 283.30 L545.75 282.80 L545.75 282.30 L545.75 281.80 L545.75 281.30 L545.75 280.80 L545.75 280.30 L545.75 279.80 L545.75 279.30 L545.75 278.80 L545.75 278.30 L545.75 277.80 L545.75 277.30 L545.75 276.80 L545.75 276.30 L545.75 275.80 L545.75 275.30 L545.75 274.80 L545.75 274.30 L545.75 273.80 L545.75 273.30 L545.75 272.80 L545.75 272.30 L545.75 271.80 L545.75 271.30 L545.75 270.80 L545.75 270.30 L545.75 269.80 L545.75 269.30 L545.75 268.80 L545.75 268.30 L545.75 267.80 L545.75 267.30 L545.75 266.80 L545.75 266.30 L545.75 265.80 L545.75 265.30 L545.75 264.80 L545.75 264.30 L545.75 263.80 L545.75 263.30 L545.75 262.80 L545.75 262.30 L545.75 261.80 L545.75 261.30 L545.75 260.80 L545.75 260.30 L545.75 259.80 L545.75 259.30 L545.75 258.80 L545.75 258.30 L545.75 257.80 L545.75 257.30 L545.75 256.80 L545.75 256.30 L545.75 255.80 L545.75 255.30 L545.75 254.80 L545.73 254.30 L545.69 253.80 L545.63 253.30 L545.56 252.80 L545.48 252.30 L545.39 251.80 L545.23 251.30 L545.02 250.80 L544.77 250.30 L544.48 249.80 L544.18 249.30 L543.88 248.80 L543.58 248.30 L543.30 247.80 L543.02 247.30 L542.74 246.80 L542.45 246.30 L542.19 245.80 L541.93 245.30 L541.59 244.80 L541.19 244.30 L540.85 243.80 L540.64 243.30 L540.43 242.80 L540.05 242.30 L539.48 241.80 L538.97 241.30 L538.70 240.80 L538.56 240.30 L538.21 239.80 L537.52 239.30 L536.84 238.80 L536.50 238.30 L536.43 237.80 L536.25 237.30 L535.72 236.80 L535.04 236.30 L534.60 235.80 L534.52 235.30 L534.49 234.80 L534.16 234.30 L533.57 233.80 L533.10 233.30 L533.01 232.80 L533.09 232.30 L532.91 231.80 L532.25 231.30 L531.49 230.80 L531.07 230.30 L531.10 229.80 L531.13 229.30 L530.84 228.80 L530.34 228.30 L530.02 227.80 L530.08 227.30 L530.27 226.80 L530.19 226.30 L529.80 225.80 L529.41 225.30 L529.36 224.80 L529.56 224.30 L529.63 223.80 L529.33 223.30 L528.88 222.80 L528.68 222.30 L528.84 221.80 L529.06 221.30 L528.99 220.80 L528.68 220.30 L528.52 219.80 L528.77 219.30 L529.26 218.80 L529.56 218.30 L529.51 217.80 L529.43 217.30 L529.71 216.80 L530.35 216.30 L530.97 215.80 L531.26 215.30 L531.34 214.80 L531.65 214.30 L532.36 213.80 L533.21 213.30 L533.79 212.80 L534.04 212.30 L534.27 211.80 L534.84 211.30 L535.66 210.80 L536.35 210.30 L536.68 209.80 L536.85 209.30 L537.26 208.80 L538.02 208.30 L538.77 207.80 L539.23 207.30 L539.50 206.80 L539.89 206.30 L540.48 205.80 L541.13 205.30 L541.72 204.80 L542.25 204.30 L542.81 203.80 L543.30 203.30 L543.69 202.80 L543.93 202.30 L544.12 201.80 L544.27 201.30 L544.40 200.80 L544.52 200.30 L544.63 199.80 L544.75 199.30 L544.87 198.80 L545.00 198.30 L545.12 197.80 L545.23 197.30 L545.33 196.80 L545.41 196.30 L545.47 195.80 L545.53 195.30 L545.58 194.80 L545.63 194.30 L545.67 193.80 L545.71 193.30 L545.73 192.80 L545.75 192.30 L545.75 191.80 L545.75 191.30 L545.75 190.80 L545.75 190.30 L545.75 189.80 L545.75 189.30 L545.75 188.80 L545.75 188.30 L545.75 187.80 L545.75 187.30 L545.75 186.80 L545.75 186.30 L545.75 185.80 L545.75 185.30 L545.75 184.80 L545.75 184.30 L545.75 183.80 L545.75 183.30 L545.75 182.80 L545.75 182.30 L545.75 181.80 L545.75 181.30 L545.75 180.80 L545.75 180.30 L545.75 179.80 L545.75 179.30 L545.75 178.80 L545.75 178.30 L545.75 177.80 L545.75 177.30 L545.75 176.80 L545.75 176.30 L545.75 175.80 L545.75 175.30 L545.75 174.80 L545.75 174.30 L545.75 173.80 L545.75 173.30 L545.75 172.80 L545.75 172.30 L545.75 171.80 L545.75 171.30 L545.75 170.80 L545.75 170.30 L545.75 169.80 L545.75 169.30 L545.75 168.80 L545.75 168.30 L545.75 167.80 L545.75 167.30 L545.75 166.80 L545.75 166.30 L545.75 165.80 L545.75 165.30 L545.75 164.80 L545.75 164.30 L545.75 163.80 L545.75 163.30 L545.75 162.80 L545.75 162.30 L545.75 161.80 L545.75 161.30 L545.75 160.80 L545.75 160.30 L545.75 159.80 L545.75 159.30 L545.75 158.80 L545.75 158.30 L545.75 157.80 L545.75 157.30 L545.75 156.80 L545.75 156.30 L545.75 155.80 L545.75 155.30 L545.75 154.80 L545.75 154.30 L545.75 153.80 L545.75 153.30 L545.75 152.80 L545.75 152.30 L545.75 151.80 L545.75 151.30 L545.75 150.80 L545.75 150.30 L545.75 149.80 L545.75 149.30 L545.75 148.80 L545.75 148.30 L545.75 147.80 L545.75 147.30 L545.75 146.80 L545.75 146.30 L545.75 145.80 L545.75 145.30 L545.75 144.80 L545.75 144.30 L545.75 143.80 L545.75 143.30 L545.75 142.80 L545.75 142.30 L545.75 141.80 L545.75 141.30 L545.75 140.80 L545.75 140.30 L545.75 139.80 L545.75 139.30 L545.75 138.80 L545.75 138.30 L545.75 137.80 L545.75 137.30 L545.75 136.80 L545.75 136.30 L545.75 135.80 L545.75 135.30 L545.75 134.80 L545.75 134.30 L545.75 133.80 L545.75 133.30 L545.75 132.80 L545.75 132.30 L545.75 131.80 L545.75 131.30 L545.75 130.80 L545.75 130.30 L545.75 129.80 L545.75 129.30 L545.75 128.80 L545.75 128.30 L545.75 127.80 L545.75 127.30 L545.75 126.80 L545.75 126.30 L545.75 125.80 L545.75 125.30 L545.75 124.80 L545.75 124.30 L545.75 123.80 L545.75 123.30 L545.75 122.80 L545.75 122.30 L545.75 121.80 L545.75 121.30 L545.75 120.80 L545.75 120.30 L545.75 119.80 L545.75 119.30 L545.75 118.80 L545.75 118.30 L545.75 117.80 L545.75 117.30 L545.75 116.80 L545.75 116.30 L545.75 115.80 L545.75 115.30 L545.75 114.80 L545.75 114.30Z" fill="#e7231f" stroke="#151515" stroke-width="1.15" stroke-linejoin="round"/>
<path d="M580.05 182.20 L580.05 182.70 L580.05 183.20 L580.05 183.70 L580.05 184.20 L580.05 184.70 L580.05 185.20 L580.05 185.70 L580.05 186.20 L580.05 186.70 L580.05 187.20 L580.05 187.70 L580.05 188.20 L580.05 188.70 L580.05 189.20 L580.05 189.70 L580.05 190.20 L580.05 190.70 L580.05 191.20 L580.05 191.70 L580.05 192.20 L580.05 192.70 L580.05 193.20 L580.05 193.70 L580.05 194.20 L580.05 194.70 L580.05 195.20 L580.05 195.70 L580.05 196.20 L580.05 196.70 L580.05 197.20 L580.05 197.70 L580.05 198.20 L580.05 198.70 L580.05 199.20 L580.05 199.70 L580.05 200.20 L580.05 200.70 L580.05 201.20 L580.05 201.70 L580.05 202.20 L580.05 202.70 L580.05 203.20 L580.05 203.70 L580.05 204.20 L580.05 204.70 L580.05 205.20 L580.05 205.70 L580.05 206.20 L580.06 206.70 L580.09 207.20 L580.13 207.70 L580.17 208.20 L580.22 208.70 L580.27 209.20 L580.32 209.70 L580.37 210.20 L580.42 210.70 L580.47 211.20 L580.53 211.70 L580.60 212.20 L580.68 212.70 L580.77 213.20 L580.89 213.70 L581.04 214.20 L581.22 214.70 L581.42 215.20 L581.63 215.70 L581.85 216.20 L582.09 216.70 L582.36 217.20 L582.66 217.70 L582.97 218.20 L583.32 218.70 L583.62 219.20 L583.87 219.70 L584.18 220.20 L584.62 220.70 L585.07 221.20 L585.35 221.70 L585.51 222.20 L585.80 222.70 L586.42 223.20 L587.18 223.70 L587.69 224.20 L587.82 224.70 L588.03 225.20 L588.71 225.70 L589.69 226.20 L590.45 226.70 L590.75 227.20 L590.93 227.70 L591.49 228.20 L592.45 228.70 L593.35 229.20 L593.82 229.70 L593.99 230.20 L594.33 230.70 L595.11 231.20 L595.97 231.70 L596.38 232.20 L596.27 232.70 L596.11 233.20 L596.36 233.70 L596.94 234.20 L597.33 234.70 L597.21 235.20 L596.85 235.70 L596.75 236.20 L597.08 236.70 L597.37 237.20 L597.17 237.70 L596.55 238.20 L596.03 238.70 L595.94 239.20 L596.10 239.70 L595.98 240.20 L595.36 240.70 L594.62 241.20 L594.25 241.70 L594.32 242.20 L594.37 242.70 L593.98 243.20 L593.27 243.70 L592.76 244.20 L592.74 244.70 L592.91 245.20 L592.73 245.70 L592.10 246.20 L591.45 246.70 L591.24 247.20 L591.39 247.70 L591.38 248.20 L590.88 248.70 L590.15 249.20 L589.72 249.70 L589.75 250.20 L589.86 250.70 L589.55 251.20 L588.85 251.70 L588.24 252.20 L588.11 252.70 L588.26 253.20 L588.14 253.70 L587.56 254.20 L586.91 254.70 L586.60 255.20 L586.61 255.70 L586.54 256.20 L586.17 256.70 L585.64 257.20 L585.26 257.70 L585.13 258.20 L585.06 258.70 L584.84 259.20 L584.49 259.70 L584.17 260.20 L583.97 260.70 L583.84 261.20 L583.66 261.70 L583.42 262.20 L583.19 262.70 L582.99 263.20 L582.79 263.70 L582.59 264.20 L582.38 264.70 L582.18 265.20 L581.98 265.70 L581.79 266.20 L581.60 266.70 L581.42 267.20 L581.25 267.70 L581.09 268.20 L580.92 268.70 L580.76 269.20 L580.60 269.70 L580.46 270.20 L580.34 270.70 L580.25 271.20 L580.17 271.70 L580.10 272.20 L580.06 272.70 L580.05 273.20 L580.05 273.70 L580.05 274.20 L580.05 274.70 L580.05 275.20 L580.05 275.70 L580.05 276.20 L580.05 276.70 L580.05 277.20 L580.05 277.70 L580.05 278.20 L580.05 278.70 L580.05 279.20 L580.05 279.70 L580.05 280.20 L580.05 280.70 L580.05 281.20 L580.05 281.70 L580.05 282.20 L580.05 282.70 L580.05 283.20 L580.05 283.70 L580.05 284.20 L580.05 284.70 L580.05 285.20 L580.05 285.70 L580.05 286.20 L580.05 286.70 L580.05 287.20 L580.05 287.70 L580.05 288.20 L580.05 288.70 L580.05 289.20 L580.05 289.70 L580.05 290.20 L580.05 290.70 L580.05 291.20 L580.05 291.70 L580.05 292.20 L580.05 292.70 L580.05 293.20 L580.05 293.70 L580.05 294.20 L580.05 294.70 L580.05 295.20 L580.05 295.70 L580.05 296.20 L580.05 296.70 L580.05 297.20 L580.05 297.70 L580.05 298.20 L580.05 298.70 L580.05 299.20 L580.05 299.70 L580.05 300.20 L580.05 300.70 L580.05 301.20 L580.05 301.70 L580.05 302.20 L580.05 302.70 L580.05 303.20 L580.05 303.70 L580.05 304.20 L580.05 304.70 L580.05 305.20 L580.05 305.70 L580.05 306.20 L580.05 306.70 L580.05 307.20 L580.05 307.70 L580.05 308.20 L580.05 308.70 L580.05 309.20 L580.05 309.70 L580.05 310.20 L580.05 310.70 L580.05 311.20 L580.05 311.70 L580.05 312.20 L580.05 312.70 L580.05 313.20 L580.05 313.70 L580.05 314.20 L580.05 314.70 L580.05 315.20 L580.05 315.70 L580.05 316.20 L580.05 316.70 L580.05 317.20 L580.05 317.70 L580.05 318.00 L579.95 318.00 L579.95 317.70 L579.95 317.20 L579.95 316.70 L579.95 316.20 L579.95 315.70 L579.95 315.20 L579.95 314.70 L579.95 314.20 L579.95 313.70 L579.95 313.20 L579.95 312.70 L579.95 312.20 L579.95 311.70 L579.95 311.20 L579.95 310.70 L579.95 310.20 L579.95 309.70 L579.95 309.20 L579.95 308.70 L579.95 308.20 L579.95 307.70 L579.95 307.20 L579.95 306.70 L579.95 306.20 L579.95 305.70 L579.95 305.20 L579.95 304.70 L579.95 304.20 L579.95 303.70 L579.95 303.20 L579.95 302.70 L579.95 302.20 L579.95 301.70 L579.95 301.20 L579.95 300.70 L579.95 300.20 L579.95 299.70 L579.95 299.20 L579.95 298.70 L579.95 298.20 L579.95 297.70 L579.95 297.20 L579.95 296.70 L579.95 296.20 L579.95 295.70 L579.95 295.20 L579.95 294.70 L579.95 294.20 L579.95 293.70 L579.95 293.20 L579.95 292.70 L579.95 292.20 L579.95 291.70 L579.95 291.20 L579.95 290.70 L579.95 290.20 L579.95 289.70 L579.95 289.20 L579.95 288.70 L579.95 288.20 L579.95 287.70 L579.95 287.20 L579.95 286.70 L579.95 286.20 L579.95 285.70 L579.95 285.20 L579.95 284.70 L579.95 284.20 L579.95 283.70 L579.95 283.20 L579.95 282.70 L579.95 282.20 L579.95 281.70 L579.95 281.20 L579.95 280.70 L579.95 280.20 L579.95 279.70 L579.95 279.20 L579.95 278.70 L579.95 278.20 L579.95 277.70 L579.95 277.20 L579.95 276.70 L579.95 276.20 L579.95 275.70 L579.95 275.20 L579.95 274.70 L579.95 274.20 L579.95 273.70 L579.95 273.20 L579.94 272.70 L579.90 272.20 L579.83 271.70 L579.75 271.20 L579.66 270.70 L579.54 270.20 L579.40 269.70 L579.24 269.20 L579.08 268.70 L578.91 268.20 L578.75 267.70 L578.58 267.20 L578.40 266.70 L578.21 266.20 L578.02 265.70 L577.82 265.20 L577.62 264.70 L577.41 264.20 L577.21 263.70 L577.01 263.20 L576.81 262.70 L576.58 262.20 L576.34 261.70 L576.16 261.20 L576.03 260.70 L575.83 260.20 L575.51 259.70 L575.16 259.20 L574.94 258.70 L574.87 258.20 L574.74 257.70 L574.36 257.20 L573.83 256.70 L573.46 256.20 L573.39 255.70 L573.40 255.20 L573.09 254.70 L572.44 254.20 L571.86 253.70 L571.74 253.20 L571.89 252.70 L571.76 252.20 L571.15 251.70 L570.45 251.20 L570.14 250.70 L570.25 250.20 L570.28 249.70 L569.85 249.20 L569.12 248.70 L568.62 248.20 L568.61 247.70 L568.76 247.20 L568.55 246.70 L567.90 246.20 L567.27 245.70 L567.09 245.20 L567.26 244.70 L567.24 244.20 L566.73 243.70 L566.02 243.20 L565.63 242.70 L565.68 242.20 L565.75 241.70 L565.38 241.20 L564.64 240.70 L564.02 240.20 L563.90 239.70 L564.06 239.20 L563.97 238.70 L563.45 238.20 L562.83 237.70 L562.63 237.20 L562.92 236.70 L563.25 236.20 L563.15 235.70 L562.79 235.20 L562.67 234.70 L563.06 234.20 L563.64 233.70 L563.89 233.20 L563.73 232.70 L563.62 232.20 L564.03 231.70 L564.89 231.20 L565.67 230.70 L566.01 230.20 L566.18 229.70 L566.65 229.20 L567.55 228.70 L568.51 228.20 L569.07 227.70 L569.25 227.20 L569.55 226.70 L570.31 226.20 L571.29 225.70 L571.97 225.20 L572.18 224.70 L572.31 224.20 L572.82 223.70 L573.58 223.20 L574.20 222.70 L574.49 222.20 L574.65 221.70 L574.93 221.20 L575.38 220.70 L575.82 220.20 L576.13 219.70 L576.38 219.20 L576.68 218.70 L577.03 218.20 L577.34 217.70 L577.64 217.20 L577.91 216.70 L578.15 216.20 L578.37 215.70 L578.58 215.20 L578.78 214.70 L578.96 214.20 L579.11 213.70 L579.23 213.20 L579.32 212.70 L579.40 212.20 L579.47 211.70 L579.53 211.20 L579.58 210.70 L579.63 210.20 L579.68 209.70 L579.73 209.20 L579.78 208.70 L579.83 208.20 L579.87 207.70 L579.91 207.20 L579.94 206.70 L579.95 206.20 L579.95 205.70 L579.95 205.20 L579.95 204.70 L579.95 204.20 L579.95 203.70 L579.95 203.20 L579.95 202.70 L579.95 202.20 L579.95 201.70 L579.95 201.20 L579.95 200.70 L579.95 200.20 L579.95 199.70 L579.95 199.20 L579.95 198.70 L579.95 198.20 L579.95 197.70 L579.95 197.20 L579.95 196.70 L579.95 196.20 L579.95 195.70 L579.95 195.20 L579.95 194.70 L579.95 194.20 L579.95 193.70 L579.95 193.20 L579.95 192.70 L579.95 192.20 L579.95 191.70 L579.95 191.20 L579.95 190.70 L579.95 190.20 L579.95 189.70 L579.95 189.20 L579.95 188.70 L579.95 188.20 L579.95 187.70 L579.95 187.20 L579.95 186.70 L579.95 186.20 L579.95 185.70 L579.95 185.20 L579.95 184.70 L579.95 184.20 L579.95 183.70 L579.95 183.20 L579.95 182.70 L579.95 182.20Z" fill="#3f83bc" stroke="#151515" stroke-width="1.15" stroke-linejoin="round"/>
<path d="M621.95 145.50 L621.95 146.00 L621.95 146.50 L621.95 147.00 L621.95 147.50 L621.95 148.00 L621.95 148.50 L621.95 149.00 L621.95 149.50 L621.95 150.00 L621.95 150.50 L621.95 151.00 L621.95 151.50 L621.95 152.00 L621.95 152.50 L621.95 153.00 L621.95 153.50 L621.95 154.00 L621.95 154.50 L621.95 155.00 L621.95 155.50 L621.95 156.00 L621.95 156.50 L621.95 157.00 L621.95 157.50 L621.95 158.00 L621.95 158.50 L621.95 159.00 L621.95 159.50 L621.95 160.00 L621.95 160.50 L621.95 161.00 L621.95 161.50 L621.95 162.00 L621.95 162.50 L621.95 163.00 L621.95 163.50 L621.95 164.00 L621.95 164.50 L621.95 165.00 L621.95 165.50 L621.95 166.00 L621.95 166.50 L621.95 167.00 L621.95 167.50 L621.95 168.00 L621.95 168.50 L621.95 169.00 L621.95 169.50 L621.95 170.00 L621.95 170.50 L621.95 171.00 L621.95 171.50 L621.95 172.00 L621.95 172.50 L621.95 173.00 L621.95 173.50 L621.95 174.00 L621.95 174.50 L621.95 175.00 L621.95 175.50 L621.95 176.00 L621.95 176.50 L621.95 177.00 L621.95 177.50 L621.95 178.00 L621.95 178.50 L621.95 179.00 L621.95 179.50 L621.95 180.00 L621.95 180.50 L621.95 181.00 L621.95 181.50 L621.95 182.00 L621.95 182.50 L621.95 183.00 L621.95 183.50 L621.95 184.00 L621.95 184.50 L621.95 185.00 L621.95 185.50 L621.95 186.00 L621.95 186.50 L621.95 187.00 L621.95 187.50 L621.95 188.00 L621.95 188.50 L621.95 189.00 L621.95 189.50 L621.95 190.00 L621.95 190.50 L621.95 191.00 L621.95 191.50 L621.95 192.00 L621.95 192.50 L621.95 193.00 L621.95 193.50 L621.95 194.00 L621.95 194.50 L621.95 195.00 L621.95 195.50 L621.95 196.00 L621.95 196.50 L621.95 197.00 L621.95 197.50 L621.95 198.00 L621.95 198.50 L621.95 199.00 L621.95 199.50 L621.95 200.00 L621.95 200.50 L621.95 201.00 L621.95 201.50 L621.95 202.00 L621.95 202.50 L621.95 203.00 L621.95 203.50 L621.95 204.00 L621.95 204.50 L621.95 205.00 L621.95 205.50 L621.95 206.00 L621.95 206.50 L621.95 207.00 L621.95 207.50 L621.95 208.00 L621.97 208.50 L622.03 209.00 L622.13 209.50 L622.25 210.00 L622.39 210.50 L622.55 211.00 L622.71 211.50 L622.88 212.00 L623.06 212.50 L623.25 213.00 L623.48 213.50 L623.74 214.00 L624.03 214.50 L624.36 215.00 L624.73 215.50 L625.23 216.00 L625.91 216.50 L626.66 217.00 L627.29 217.50 L627.87 218.00 L628.60 218.50 L629.47 219.00 L630.20 219.50 L630.55 220.00 L630.79 220.50 L631.29 221.00 L632.09 221.50 L632.83 222.00 L633.21 222.50 L633.34 223.00 L633.60 223.50 L634.20 224.00 L634.90 224.50 L635.29 225.00 L635.31 225.50 L635.30 226.00 L635.61 226.50 L636.16 227.00 L636.59 227.50 L636.66 228.00 L636.55 228.50 L636.67 229.00 L637.14 229.50 L637.66 230.00 L637.86 230.50 L637.77 231.00 L637.76 231.50 L638.16 232.00 L638.80 232.50 L639.17 233.00 L639.02 233.50 L638.47 234.00 L637.96 234.50 L637.66 235.00 L637.34 235.50 L636.68 236.00 L635.73 236.50 L634.89 237.00 L634.39 237.50 L634.01 238.00 L633.39 238.50 L632.46 239.00 L631.50 239.50 L630.87 240.00 L630.51 240.50 L630.04 241.00 L629.24 241.50 L628.40 242.00 L627.79 242.50 L627.39 243.00 L626.97 243.50 L626.43 244.00 L625.90 244.50 L625.48 245.00 L625.18 245.50 L624.90 246.00 L624.64 246.50 L624.40 247.00 L624.18 247.50 L623.96 248.00 L623.73 248.50 L623.50 249.00 L623.24 249.50 L622.93 250.00 L622.61 250.50 L622.34 251.00 L622.17 251.50 L622.10 252.00 L622.04 252.50 L621.99 253.00 L621.96 253.50 L621.95 254.00 L621.95 254.50 L621.95 255.00 L621.95 255.50 L621.95 256.00 L621.95 256.50 L621.95 257.00 L621.95 257.50 L621.95 258.00 L621.95 258.50 L621.95 259.00 L621.95 259.50 L621.95 260.00 L621.95 260.50 L621.95 261.00 L621.95 261.50 L621.95 262.00 L621.95 262.50 L621.95 263.00 L621.95 263.50 L621.95 264.00 L621.95 264.50 L621.95 265.00 L621.95 265.50 L621.95 265.60 L621.85 265.60 L621.85 265.50 L621.85 265.00 L621.85 264.50 L621.85 264.00 L621.85 263.50 L621.85 263.00 L621.85 262.50 L621.85 262.00 L621.85 261.50 L621.85 261.00 L621.85 260.50 L621.85 260.00 L621.85 259.50 L621.85 259.00 L621.85 258.50 L621.85 258.00 L621.85 257.50 L621.85 257.00 L621.85 256.50 L621.85 256.00 L621.85 255.50 L621.85 255.00 L621.85 254.50 L621.85 254.00 L621.84 253.50 L621.81 253.00 L621.76 252.50 L621.70 252.00 L621.63 251.50 L621.46 251.00 L621.19 250.50 L620.87 250.00 L620.56 249.50 L620.30 249.00 L620.07 248.50 L619.84 248.00 L619.62 247.50 L619.40 247.00 L619.16 246.50 L618.90 246.00 L618.62 245.50 L618.32 245.00 L617.90 244.50 L617.37 244.00 L616.83 243.50 L616.41 243.00 L616.01 242.50 L615.40 242.00 L614.56 241.50 L613.76 241.00 L613.29 240.50 L612.93 240.00 L612.30 239.50 L611.34 239.00 L610.41 238.50 L609.79 238.00 L609.41 237.50 L608.91 237.00 L608.07 236.50 L607.12 236.00 L606.46 235.50 L606.14 235.00 L605.84 234.50 L605.33 234.00 L604.78 233.50 L604.63 233.00 L605.00 232.50 L605.64 232.00 L606.04 231.50 L606.03 231.00 L605.94 230.50 L606.14 230.00 L606.66 229.50 L607.13 229.00 L607.25 228.50 L607.14 228.00 L607.21 227.50 L607.64 227.00 L608.19 226.50 L608.50 226.00 L608.49 225.50 L608.51 225.00 L608.90 224.50 L609.60 224.00 L610.20 223.50 L610.46 223.00 L610.59 222.50 L610.97 222.00 L611.71 221.50 L612.51 221.00 L613.01 220.50 L613.25 220.00 L613.60 219.50 L614.33 219.00 L615.20 218.50 L615.93 218.00 L616.51 217.50 L617.14 217.00 L617.89 216.50 L618.57 216.00 L619.07 215.50 L619.44 215.00 L619.77 214.50 L620.06 214.00 L620.32 213.50 L620.55 213.00 L620.74 212.50 L620.92 212.00 L621.09 211.50 L621.25 211.00 L621.41 210.50 L621.55 210.00 L621.67 209.50 L621.77 209.00 L621.83 208.50 L621.85 208.00 L621.85 207.50 L621.85 207.00 L621.85 206.50 L621.85 206.00 L621.85 205.50 L621.85 205.00 L621.85 204.50 L621.85 204.00 L621.85 203.50 L621.85 203.00 L621.85 202.50 L621.85 202.00 L621.85 201.50 L621.85 201.00 L621.85 200.50 L621.85 200.00 L621.85 199.50 L621.85 199.00 L621.85 198.50 L621.85 198.00 L621.85 197.50 L621.85 197.00 L621.85 196.50 L621.85 196.00 L621.85 195.50 L621.85 195.00 L621.85 194.50 L621.85 194.00 L621.85 193.50 L621.85 193.00 L621.85 192.50 L621.85 192.00 L621.85 191.50 L621.85 191.00 L621.85 190.50 L621.85 190.00 L621.85 189.50 L621.85 189.00 L621.85 188.50 L621.85 188.00 L621.85 187.50 L621.85 187.00 L621.85 186.50 L621.85 186.00 L621.85 185.50 L621.85 185.00 L621.85 184.50 L621.85 184.00 L621.85 183.50 L621.85 183.00 L621.85 182.50 L621.85 182.00 L621.85 181.50 L621.85 181.00 L621.85 180.50 L621.85 180.00 L621.85 179.50 L621.85 179.00 L621.85 178.50 L621.85 178.00 L621.85 177.50 L621.85 177.00 L621.85 176.50 L621.85 176.00 L621.85 175.50 L621.85 175.00 L621.85 174.50 L621.85 174.00 L621.85 173.50 L621.85 173.00 L621.85 172.50 L621.85 172.00 L621.85 171.50 L621.85 171.00 L621.85 170.50 L621.85 170.00 L621.85 169.50 L621.85 169.00 L621.85 168.50 L621.85 168.00 L621.85 167.50 L621.85 167.00 L621.85 166.50 L621.85 166.00 L621.85 165.50 L621.85 165.00 L621.85 164.50 L621.85 164.00 L621.85 163.50 L621.85 163.00 L621.85 162.50 L621.85 162.00 L621.85 161.50 L621.85 161.00 L621.85 160.50 L621.85 160.00 L621.85 159.50 L621.85 159.00 L621.85 158.50 L621.85 158.00 L621.85 157.50 L621.85 157.00 L621.85 156.50 L621.85 156.00 L621.85 155.50 L621.85 155.00 L621.85 154.50 L621.85 154.00 L621.85 153.50 L621.85 153.00 L621.85 152.50 L621.85 152.00 L621.85 151.50 L621.85 151.00 L621.85 150.50 L621.85 150.00 L621.85 149.50 L621.85 149.00 L621.85 148.50 L621.85 148.00 L621.85 147.50 L621.85 147.00 L621.85 146.50 L621.85 146.00 L621.85 145.50Z" fill="#e7231f" stroke="#151515" stroke-width="1.15" stroke-linejoin="round"/>
<path d="M656.25 189.60 L656.25 190.10 L656.25 190.60 L656.25 191.10 L656.25 191.60 L656.25 192.10 L656.25 192.60 L656.25 193.10 L656.25 193.60 L656.25 194.10 L656.25 194.60 L656.25 195.10 L656.25 195.60 L656.25 196.10 L656.25 196.60 L656.25 197.10 L656.25 197.60 L656.25 198.10 L656.25 198.60 L656.25 199.10 L656.25 199.60 L656.25 200.10 L656.25 200.60 L656.25 201.10 L656.25 201.60 L656.25 202.10 L656.25 202.60 L656.25 203.10 L656.25 203.60 L656.25 204.10 L656.25 204.60 L656.25 205.10 L656.25 205.60 L656.25 206.10 L656.25 206.60 L656.25 207.10 L656.25 207.60 L656.25 208.10 L656.25 208.60 L656.25 209.10 L656.25 209.60 L656.25 210.10 L656.25 210.60 L656.25 211.10 L656.25 211.60 L656.25 212.10 L656.25 212.60 L656.25 213.10 L656.25 213.60 L656.25 214.10 L656.25 214.60 L656.25 215.10 L656.25 215.60 L656.25 216.10 L656.25 216.60 L656.25 217.10 L656.25 217.60 L656.25 218.10 L656.25 218.60 L656.25 219.10 L656.25 219.60 L656.25 220.10 L656.25 220.60 L656.25 221.10 L656.25 221.60 L656.25 222.10 L656.25 222.60 L656.25 223.10 L656.25 223.60 L656.25 224.10 L656.25 224.60 L656.25 225.10 L656.25 225.60 L656.25 226.10 L656.27 226.60 L656.32 227.10 L656.39 227.60 L656.49 228.10 L656.60 228.60 L656.72 229.10 L656.91 229.60 L657.26 230.10 L657.73 230.60 L658.27 231.10 L658.85 231.60 L659.43 232.10 L659.93 232.60 L660.42 233.10 L661.08 233.60 L661.89 234.10 L662.58 234.60 L662.95 235.10 L663.24 235.60 L663.89 236.10 L664.92 236.60 L665.74 237.10 L666.08 237.60 L666.21 238.10 L666.67 238.60 L667.56 239.10 L668.48 239.60 L668.96 240.10 L669.05 240.60 L669.26 241.10 L669.91 241.60 L670.75 242.10 L671.28 242.60 L671.33 243.10 L671.27 243.60 L671.60 244.10 L672.28 244.60 L672.84 245.10 L672.91 245.60 L672.69 246.10 L672.69 246.60 L673.11 247.10 L673.56 247.60 L673.59 248.10 L673.16 248.60 L672.75 249.10 L672.78 249.60 L673.11 250.10 L673.23 250.60 L672.81 251.10 L671.89 251.60 L671.02 252.10 L670.47 252.60 L669.92 253.10 L669.05 253.60 L667.93 254.10 L666.95 254.60 L666.47 255.10 L666.24 255.60 L665.73 256.10 L664.76 256.60 L663.74 257.10 L663.15 257.60 L662.85 258.10 L662.41 258.60 L661.72 259.10 L661.02 259.60 L660.55 260.10 L660.27 260.60 L660.00 261.10 L659.68 261.60 L659.35 262.10 L659.08 262.60 L658.82 263.10 L658.56 263.60 L658.30 264.10 L658.04 264.60 L657.77 265.10 L657.49 265.60 L657.23 266.10 L656.99 266.60 L656.79 267.10 L656.62 267.60 L656.51 268.10 L656.41 268.60 L656.32 269.10 L656.27 269.60 L656.25 270.10 L656.25 270.60 L656.25 271.10 L656.25 271.60 L656.25 272.10 L656.25 272.60 L656.25 273.10 L656.25 273.60 L656.25 274.10 L656.25 274.60 L656.25 275.10 L656.25 275.60 L656.25 276.10 L656.25 276.60 L656.25 277.10 L656.25 277.60 L656.25 278.10 L656.25 278.60 L656.25 279.10 L656.25 279.60 L656.25 280.10 L656.25 280.60 L656.25 281.10 L656.25 281.60 L656.25 282.10 L656.25 282.60 L656.25 283.10 L656.25 283.30 L656.15 283.30 L656.15 283.10 L656.15 282.60 L656.15 282.10 L656.15 281.60 L656.15 281.10 L656.15 280.60 L656.15 280.10 L656.15 279.60 L656.15 279.10 L656.15 278.60 L656.15 278.10 L656.15 277.60 L656.15 277.10 L656.15 276.60 L656.15 276.10 L656.15 275.60 L656.15 275.10 L656.15 274.60 L656.15 274.10 L656.15 273.60 L656.15 273.10 L656.15 272.60 L656.15 272.10 L656.15 271.60 L656.15 271.10 L656.15 270.60 L656.15 270.10 L656.13 269.60 L656.08 269.10 L655.99 268.60 L655.89 268.10 L655.78 267.60 L655.61 267.10 L655.41 266.60 L655.17 266.10 L654.91 265.60 L654.63 265.10 L654.36 264.60 L654.10 264.10 L653.84 263.60 L653.58 263.10 L653.32 262.60 L653.05 262.10 L652.72 261.60 L652.40 261.10 L652.13 260.60 L651.85 260.10 L651.38 259.60 L650.68 259.10 L649.99 258.60 L649.55 258.10 L649.25 257.60 L648.66 257.10 L647.64 256.60 L646.67 256.10 L646.16 255.60 L645.93 255.10 L645.45 254.60 L644.47 254.10 L643.35 253.60 L642.48 253.10 L641.93 252.60 L641.38 252.10 L640.51 251.60 L639.59 251.10 L639.17 250.60 L639.29 250.10 L639.62 249.60 L639.65 249.10 L639.24 248.60 L638.81 248.10 L638.84 247.60 L639.29 247.10 L639.71 246.60 L639.71 246.10 L639.49 245.60 L639.56 245.10 L640.12 244.60 L640.80 244.10 L641.13 243.60 L641.07 243.10 L641.12 242.60 L641.65 242.10 L642.49 241.60 L643.14 241.10 L643.35 240.60 L643.44 240.10 L643.92 239.60 L644.84 239.10 L645.73 238.60 L646.19 238.10 L646.32 237.60 L646.66 237.10 L647.48 236.60 L648.51 236.10 L649.16 235.60 L649.45 235.10 L649.82 234.60 L650.51 234.10 L651.32 233.60 L651.98 233.10 L652.47 232.60 L652.97 232.10 L653.55 231.60 L654.13 231.10 L654.67 230.60 L655.14 230.10 L655.49 229.60 L655.68 229.10 L655.80 228.60 L655.91 228.10 L656.01 227.60 L656.08 227.10 L656.13 226.60 L656.15 226.10 L656.15 225.60 L656.15 225.10 L656.15 224.60 L656.15 224.10 L656.15 223.60 L656.15 223.10 L656.15 222.60 L656.15 222.10 L656.15 221.60 L656.15 221.10 L656.15 220.60 L656.15 220.10 L656.15 219.60 L656.15 219.10 L656.15 218.60 L656.15 218.10 L656.15 217.60 L656.15 217.10 L656.15 216.60 L656.15 216.10 L656.15 215.60 L656.15 215.10 L656.15 214.60 L656.15 214.10 L656.15 213.60 L656.15 213.10 L656.15 212.60 L656.15 212.10 L656.15 211.60 L656.15 211.10 L656.15 210.60 L656.15 210.10 L656.15 209.60 L656.15 209.10 L656.15 208.60 L656.15 208.10 L656.15 207.60 L656.15 207.10 L656.15 206.60 L656.15 206.10 L656.15 205.60 L656.15 205.10 L656.15 204.60 L656.15 204.10 L656.15 203.60 L656.15 203.10 L656.15 202.60 L656.15 202.10 L656.15 201.60 L656.15 201.10 L656.15 200.60 L656.15 200.10 L656.15 199.60 L656.15 199.10 L656.15 198.60 L656.15 198.10 L656.15 197.60 L656.15 197.10 L656.15 196.60 L656.15 196.10 L656.15 195.60 L656.15 195.10 L656.15 194.60 L656.15 194.10 L656.15 193.60 L656.15 193.10 L656.15 192.60 L656.15 192.10 L656.15 191.60 L656.15 191.10 L656.15 190.60 L656.15 190.10 L656.15 189.60Z" fill="#3f83bc" stroke="#151515" stroke-width="1.15" stroke-linejoin="round"/>
<g stroke="#333" fill="none">
<line x1="90.1" x2="90.1" y1="166.0" y2="202.7" stroke-width="1.1" stroke-opacity="0.85"/>
<line x1="90.1" x2="90.1" y1="228.8" y2="266.6" stroke-width="1.1" stroke-opacity="0.85"/>
<rect x="87.5" y="202.7" width="5.2" height="26.1" fill="#e7231f" stroke-width="1"/>
<line x1="87.5" x2="92.7" y1="214.8" y2="214.8" stroke-width="2"/>
</g>
<line x1="90.1" x2="90.1" y1="268.7" y2="287.4" stroke="#2e2e2e" stroke-width="4.1" stroke-linecap="round"/>
<line x1="90.1" x2="90.1" y1="293.8" y2="301.9" stroke="#2e2e2e" stroke-width="4.1" stroke-linecap="round"/>
<circle cx="90.1" cy="309.2" r="2.2" fill="#2e2e2e"/>
<g stroke="#333" fill="none">
<line x1="124.5" x2="124.5" y1="187.0" y2="221.4" stroke-width="1.1" stroke-opacity="0.85"/>
<line x1="124.5" x2="124.5" y1="249.6" y2="291.0" stroke-width="1.1" stroke-opacity="0.85"/>
<rect x="121.9" y="221.4" width="5.2" height="28.2" fill="#3f83bc" stroke-width="1"/>
<line x1="121.9" x2="127.1" y1="231.8" y2="231.8" stroke-width="2"/>
</g>
<line x1="124.5" x2="124.5" y1="293.1" y2="325.6" stroke="#2e2e2e" stroke-width="4.1" stroke-linecap="round"/>
<g stroke="#333" fill="none">
<line x1="166.1" x2="166.1" y1="205.9" y2="219.4" stroke-width="1.1" stroke-opacity="0.85"/>
<line x1="166.1" x2="166.1" y1="230.6" y2="245.0" stroke-width="1.1" stroke-opacity="0.85"/>
<rect x="163.5" y="219.4" width="5.2" height="11.2" fill="#e7231f" stroke-width="1"/>
<line x1="163.5" x2="168.7" y1="224.9" y2="224.9" stroke-width="2"/>
</g>
<line x1="166.1" x2="166.1" y1="165.1" y2="203.8" stroke="#2e2e2e" stroke-width="4.1" stroke-linecap="round"/>
<line x1="166.1" x2="166.1" y1="247.1" y2="278.2" stroke="#2e2e2e" stroke-width="4.1" stroke-linecap="round"/>
<g stroke="#333" fill="none">
<line x1="200.3" x2="200.3" y1="225.8" y2="238.7" stroke-width="1.1" stroke-opacity="0.85"/>
<line x1="200.3" x2="200.3" y1="249.3" y2="263.3" stroke-width="1.1" stroke-opacity="0.85"/>
<rect x="197.7" y="238.7" width="5.2" height="10.6" fill="#3f83bc" stroke-width="1"/>
<line x1="197.7" x2="202.9" y1="244.3" y2="244.3" stroke-width="2"/>
</g>
<line x1="200.3" x2="200.3" y1="186.8" y2="223.8" stroke="#2e2e2e" stroke-width="4.1" stroke-linecap="round"/>
<line x1="200.3" x2="200.3" y1="265.4" y2="307.9" stroke="#2e2e2e" stroke-width="4.1" stroke-linecap="round"/>
<g stroke="#333" fill="none">
<line x1="242.1" x2="242.1" y1="198.6" y2="218.2" stroke-width="1.1" stroke-opacity="0.85"/>
<line x1="242.1" x2="242.1" y1="232.6" y2="252.4" stroke-width="1.1" stroke-opacity="0.85"/>
<rect x="239.5" y="218.2" width="5.2" height="14.4" fill="#e7231f" stroke-width="1"/>
<line x1="239.5" x2="244.7" y1="226.2" y2="226.2" stroke-width="2"/>
</g>
<line x1="242.1" x2="242.1" y1="34.5" y2="84.2" stroke="#2e2e2e" stroke-width="4.1" stroke-linecap="round"/>
<line x1="242.1" x2="242.1" y1="92.0" y2="109.0" stroke="#2e2e2e" stroke-width="4.1" stroke-linecap="round"/>
<line x1="242.1" x2="242.1" y1="153.1" y2="196.5" stroke="#2e2e2e" stroke-width="4.1" stroke-linecap="round"/>
<line x1="242.1" x2="242.1" y1="254.5" y2="281.6" stroke="#2e2e2e" stroke-width="4.1" stroke-linecap="round"/>
<circle cx="242.1" cy="18.0" r="2.2" fill="#2e2e2e"/>
<circle cx="242.1" cy="25.4" r="2.2" fill="#2e2e2e"/>
<circle cx="242.1" cy="113.7" r="2.1" fill="#2e2e2e" fill-opacity="0.8"/>
<circle cx="242.1" cy="148.5" r="2.1" fill="#2e2e2e" fill-opacity="0.8"/>
<g stroke="#333" fill="none">
<line x1="276.3" x2="276.3" y1="215.6" y2="233.7" stroke-width="1.1" stroke-opacity="0.85"/>
<line x1="276.3" x2="276.3" y1="246.9" y2="265.7" stroke-width="1.1" stroke-opacity="0.85"/>
<rect x="273.7" y="233.7" width="5.2" height="13.2" fill="#3f83bc" stroke-width="1"/>
<line x1="273.7" x2="278.9" y1="241.0" y2="241.0" stroke-width="2"/>
</g>
<line x1="276.3" x2="276.3" y1="124.2" y2="126.0" stroke="#2e2e2e" stroke-width="4.1" stroke-linecap="round"/>
<line x1="276.3" x2="276.3" y1="131.7" y2="136.1" stroke="#2e2e2e" stroke-width="4.1" stroke-linecap="round"/>
<line x1="276.3" x2="276.3" y1="141.9" y2="162.6" stroke="#2e2e2e" stroke-width="4.1" stroke-linecap="round"/>
<line x1="276.3" x2="276.3" y1="168.4" y2="213.5" stroke="#2e2e2e" stroke-width="4.1" stroke-linecap="round"/>
<line x1="276.3" x2="276.3" y1="267.8" y2="298.8" stroke="#2e2e2e" stroke-width="4.1" stroke-linecap="round"/>
<g stroke="#333" fill="none">
<line x1="318.1" x2="318.1" y1="192.8" y2="215.4" stroke-width="1.1" stroke-opacity="0.85"/>
<line x1="318.1" x2="318.1" y1="232.6" y2="254.4" stroke-width="1.1" stroke-opacity="0.85"/>
<rect x="315.5" y="215.4" width="5.2" height="17.2" fill="#e7231f" stroke-width="1"/>
<line x1="315.5" x2="320.7" y1="224.1" y2="224.1" stroke-width="2"/>
</g>
<line x1="318.1" x2="318.1" y1="170.6" y2="190.8" stroke="#2e2e2e" stroke-width="4.1" stroke-linecap="round"/>
<line x1="318.1" x2="318.1" y1="256.4" y2="318.9" stroke="#2e2e2e" stroke-width="4.1" stroke-linecap="round"/>
<g stroke="#333" fill="none">
<line x1="352.3" x2="352.3" y1="185.9" y2="237.7" stroke-width="1.1" stroke-opacity="0.85"/>
<line x1="352.3" x2="352.3" y1="274.4" y2="327.0" stroke-width="1.1" stroke-opacity="0.85"/>
<rect x="349.7" y="237.7" width="5.2" height="36.7" fill="#3f83bc" stroke-width="1"/>
<line x1="349.7" x2="354.9" y1="247.6" y2="247.6" stroke-width="2"/>
</g>
<g stroke="#333" fill="none">
<line x1="394.1" x2="394.1" y1="154.0" y2="194.2" stroke-width="1.1" stroke-opacity="0.85"/>
<line x1="394.1" x2="394.1" y1="220.2" y2="257.7" stroke-width="1.1" stroke-opacity="0.85"/>
<rect x="391.5" y="194.2" width="5.2" height="26.0" fill="#e7231f" stroke-width="1"/>
<line x1="391.5" x2="396.7" y1="204.7" y2="204.7" stroke-width="2"/>
</g>
<line x1="394.1" x2="394.1" y1="259.8" y2="280.8" stroke="#2e2e2e" stroke-width="4.1" stroke-linecap="round"/>
<circle cx="394.1" cy="287.3" r="2.1" fill="#2e2e2e" fill-opacity="0.8"/>
<circle cx="394.1" cy="292.0" r="2.1" fill="#2e2e2e" fill-opacity="0.8"/>
<g stroke="#333" fill="none">
<line x1="428.3" x2="428.3" y1="175.7" y2="211.4" stroke-width="1.1" stroke-opacity="0.85"/>
<line x1="428.3" x2="428.3" y1="238.0" y2="276.9" stroke-width="1.1" stroke-opacity="0.85"/>
<rect x="425.7" y="211.4" width="5.2" height="26.6" fill="#3f83bc" stroke-width="1"/>
<line x1="425.7" x2="430.9" y1="221.0" y2="221.0" stroke-width="2"/>
</g>
<line x1="428.3" x2="428.3" y1="278.9" y2="325.6" stroke="#2e2e2e" stroke-width="4.1" stroke-linecap="round"/>
<g stroke="#333" fill="none">
<line x1="470.1" x2="470.1" y1="206.6" y2="223.7" stroke-width="1.1" stroke-opacity="0.85"/>
<line x1="470.1" x2="470.1" y1="235.3" y2="251.3" stroke-width="1.1" stroke-opacity="0.85"/>
<rect x="467.5" y="223.7" width="5.2" height="11.6" fill="#e7231f" stroke-width="1"/>
<line x1="467.5" x2="472.7" y1="230.0" y2="230.0" stroke-width="2"/>
</g>
<line x1="470.1" x2="470.1" y1="195.4" y2="204.5" stroke="#2e2e2e" stroke-width="4.1" stroke-linecap="round"/>
<line x1="470.1" x2="470.1" y1="253.4" y2="265.1" stroke="#2e2e2e" stroke-width="4.1" stroke-linecap="round"/>
<line x1="470.1" x2="470.1" y1="271.4" y2="276.3" stroke="#2e2e2e" stroke-width="4.1" stroke-linecap="round"/>
<g stroke="#333" fill="none">
<line x1="504.3" x2="504.3" y1="230.0" y2="243.4" stroke-width="1.1" stroke-opacity="0.85"/>
<line x1="504.3" x2="504.3" y1="253.0" y2="265.2" stroke-width="1.1" stroke-opacity="0.85"/>
<rect x="501.7" y="243.4" width="5.2" height="9.6" fill="#3f83bc" stroke-width="1"/>
<line x1="501.7" x2="506.9" y1="248.7" y2="248.7" stroke-width="2"/>
</g>
<line x1="504.3" x2="504.3" y1="215.2" y2="228.2" stroke="#2e2e2e" stroke-width="4.1" stroke-linecap="round"/>
<line x1="504.3" x2="504.3" y1="267.2" y2="280.6" stroke="#2e2e2e" stroke-width="4.1" stroke-linecap="round"/>
<line x1="504.3" x2="504.3" y1="286.1" y2="288.6" stroke="#2e2e2e" stroke-width="4.1" stroke-linecap="round"/>
<line x1="504.3" x2="504.3" y1="293.9" y2="300.4" stroke="#2e2e2e" stroke-width="4.1" stroke-linecap="round"/>
<g stroke="#333" fill="none">
<line x1="545.8" x2="545.8" y1="195.0" y2="217.8" stroke-width="1.1" stroke-opacity="0.85"/>
<line x1="545.8" x2="545.8" y1="233.7" y2="255.2" stroke-width="1.1" stroke-opacity="0.85"/>
<rect x="543.2" y="217.8" width="5.2" height="15.9" fill="#e7231f" stroke-width="1"/>
<line x1="543.2" x2="548.4" y1="225.0" y2="225.0" stroke-width="2"/>
</g>
<line x1="545.8" x2="545.8" y1="181.6" y2="192.2" stroke="#2e2e2e" stroke-width="4.1" stroke-linecap="round"/>
<line x1="545.8" x2="545.8" y1="257.2" y2="281.1" stroke="#2e2e2e" stroke-width="4.1" stroke-linecap="round"/>
<circle cx="545.8" cy="114.3" r="2.2" fill="#2e2e2e"/>
<circle cx="545.8" cy="131.5" r="2.2" fill="#2e2e2e"/>
<circle cx="545.8" cy="293.2" r="2.2" fill="#2e2e2e"/>
<circle cx="545.8" cy="146.5" r="2.1" fill="#2e2e2e" fill-opacity="0.8"/>
<circle cx="545.8" cy="176.6" r="2.1" fill="#2e2e2e" fill-opacity="0.8"/>
<g stroke="#333" fill="none">
<line x1="580.0" x2="580.0" y1="210.0" y2="232.8" stroke-width="1.1" stroke-opacity="0.85"/>
<line x1="580.0" x2="580.0" y1="248.7" y2="271.4" stroke-width="1.1" stroke-opacity="0.85"/>
<rect x="577.4" y="232.8" width="5.2" height="15.9" fill="#3f83bc" stroke-width="1"/>
<line x1="577.4" x2="582.6" y1="239.4" y2="239.4" stroke-width="2"/>
</g>
<line x1="580.0" x2="580.0" y1="199.4" y2="208.1" stroke="#2e2e2e" stroke-width="4.1" stroke-linecap="round"/>
<line x1="580.0" x2="580.0" y1="273.4" y2="287.8" stroke="#2e2e2e" stroke-width="4.1" stroke-linecap="round"/>
<line x1="580.0" x2="580.0" y1="304.9" y2="306.1" stroke="#2e2e2e" stroke-width="4.1" stroke-linecap="round"/>
<circle cx="580.0" cy="182.2" r="2.2" fill="#2e2e2e"/>
<circle cx="580.0" cy="315.5" r="2.2" fill="#2e2e2e"/>
<circle cx="580.0" cy="193.9" r="2.1" fill="#2e2e2e" fill-opacity="0.8"/>
<g stroke="#333" fill="none">
<line x1="621.9" x2="621.9" y1="211.0" y2="225.5" stroke-width="1.1" stroke-opacity="0.85"/>
<line x1="621.9" x2="621.9" y1="236.1" y2="251.6" stroke-width="1.1" stroke-opacity="0.85"/>
<rect x="619.3" y="225.5" width="5.2" height="10.6" fill="#e7231f" stroke-width="1"/>
<line x1="619.3" x2="624.5" y1="230.8" y2="230.8" stroke-width="2"/>
</g>
<line x1="621.9" x2="621.9" y1="203.5" y2="208.9" stroke="#2e2e2e" stroke-width="4.1" stroke-linecap="round"/>
<line x1="621.9" x2="621.9" y1="253.7" y2="263.6" stroke="#2e2e2e" stroke-width="4.1" stroke-linecap="round"/>
<circle cx="621.9" cy="145.5" r="2.2" fill="#2e2e2e"/>
<circle cx="621.9" cy="150.0" r="2.2" fill="#2e2e2e"/>
<circle cx="621.9" cy="154.4" r="2.2" fill="#2e2e2e"/>
<circle cx="621.9" cy="169.1" r="2.1" fill="#2e2e2e" fill-opacity="0.8"/>
<circle cx="621.9" cy="198.0" r="2.1" fill="#2e2e2e" fill-opacity="0.8"/>
<g stroke="#333" fill="none">
<line x1="656.2" x2="656.2" y1="229.2" y2="243.0" stroke-width="1.1" stroke-opacity="0.85"/>
<line x1="656.2" x2="656.2" y1="254.1" y2="268.6" stroke-width="1.1" stroke-opacity="0.85"/>
<rect x="653.6" y="243.0" width="5.2" height="11.1" fill="#3f83bc" stroke-width="1"/>
<line x1="653.6" x2="658.8" y1="248.3" y2="248.3" stroke-width="2"/>
</g>
<line x1="656.2" x2="656.2" y1="219.8" y2="227.3" stroke="#2e2e2e" stroke-width="4.1" stroke-linecap="round"/>
<line x1="656.2" x2="656.2" y1="270.7" y2="281.2" stroke="#2e2e2e" stroke-width="4.1" stroke-linecap="round"/>
<circle cx="656.2" cy="189.6" r="2.2" fill="#2e2e2e"/>
<circle cx="656.2" cy="210.3" r="2.1" fill="#2e2e2e" fill-opacity="0.8"/>
<circle cx="656.2" cy="214.7" r="2.1" fill="#2e2e2e" fill-opacity="0.8"/>
<rect x="62.0" y="0.2" width="622.5" height="348.1" fill="none" stroke="#333" stroke-width="0.78"/>
<line x1="58.8" x2="61.7" y1="326.40" y2="326.40" stroke="#333" stroke-width="1"/>
<line x1="58.8" x2="61.7" y1="246.75" y2="246.75" stroke="#333" stroke-width="1"/>
<line x1="58.8" x2="61.7" y1="167.10" y2="167.10" stroke="#333" stroke-width="1"/>
<line x1="58.8" x2="61.7" y1="87.45" y2="87.45" stroke="#333" stroke-width="1"/>
<line x1="58.8" x2="61.7" y1="7.80" y2="7.80" stroke="#333" stroke-width="1"/>
<line x1="107.50" x2="107.50" y1="348.6" y2="351.9" stroke="#333" stroke-width="1"/>
<line x1="183.40" x2="183.40" y1="348.6" y2="351.9" stroke="#333" stroke-width="1"/>
<line x1="259.30" x2="259.30" y1="348.6" y2="351.9" stroke="#333" stroke-width="1"/>
<line x1="335.20" x2="335.20" y1="348.6" y2="351.9" stroke="#333" stroke-width="1"/>
<line x1="411.10" x2="411.10" y1="348.6" y2="351.9" stroke="#333" stroke-width="1"/>
<line x1="487.00" x2="487.00" y1="348.6" y2="351.9" stroke="#333" stroke-width="1"/>
<line x1="562.90" x2="562.90" y1="348.6" y2="351.9" stroke="#333" stroke-width="1"/>
<line x1="638.80" x2="638.80" y1="348.6" y2="351.9" stroke="#333" stroke-width="1"/>
<rect x="518.8" y="27.8" width="12.4" height="15.1" fill="#e7231f" stroke="#2b2b2b" stroke-width="1.2"/>
<g stroke="#333" stroke-width="1" fill="none" stroke-opacity="0.9">
<rect x="519.8" y="31.1" width="10.4" height="8.2"/>
<line x1="519.8" x2="530.2" y1="35.3" y2="35.3" stroke-width="1.3"/>
<line x1="525" x2="525" y1="28.4" y2="31.1"/>
<line x1="525" x2="525" y1="39.3" y2="42.3"/>
</g>
<rect x="518.8" y="43.9" width="12.4" height="15.1" fill="#3f83bc" stroke="#2b2b2b" stroke-width="1.2"/>
<g stroke="#333" stroke-width="1" fill="none" stroke-opacity="0.9">
<rect x="519.8" y="47.2" width="10.4" height="8.2"/>
<line x1="519.8" x2="530.2" y1="51.4" y2="51.4" stroke-width="1.3"/>
<line x1="525" x2="525" y1="44.5" y2="47.2"/>
<line x1="525" x2="525" y1="55.4" y2="58.4"/>
</g>
</svg>
<div class="t yl" style="top:319.5px">0</div>
<div class="t yl" style="top:239.8px">250</div>
<div class="t yl" style="top:160.2px">500</div>
<div class="t yl" style="top:80.5px">750</div>
<div class="t yl" style="top:0.9px">1000</div>
<div class="t xl" style="right:578.5px;top:352.9px">BSk</div>
<div class="t xl" style="right:502.6px;top:352.9px">Cfa</div>
<div class="t xl" style="right:426.7px;top:352.9px">Cfb</div>
<div class="t xl" style="right:350.8px;top:352.9px">Csa</div>
<div class="t xl" style="right:274.9px;top:352.9px">Csb</div>
<div class="t xl" style="right:199.0px;top:352.9px">Dfa</div>
<div class="t xl" style="right:123.1px;top:352.9px">Dfb</div>
<div class="t xl" style="right:47.2px;top:352.9px">Dfc</div>
<div class="t st" style="left:67.7px;top:80.3px;font-size:15.6px;letter-spacing:0.9px">***</div>
<div class="t st" style="left:66.9px;top:95.0px">-17.7%</div>
<div class="t st" style="left:143.6px;top:80.3px;font-size:15.6px;letter-spacing:0.9px">***</div>
<div class="t st" style="left:142.8px;top:95.0px">-18.6%</div>
<div class="t st" style="left:219.5px;top:80.3px;font-size:15.6px;letter-spacing:0.9px">***</div>
<div class="t st" style="left:218.7px;top:95.0px">-14.5%</div>
<div class="t st" style="left:295.4px;top:80.3px;font-size:15.6px;letter-spacing:0.9px">***</div>
<div class="t st" style="left:294.6px;top:95.0px">-33.8%</div>
<div class="t st" style="left:371.3px;top:80.3px;font-size:15.6px;letter-spacing:0.9px">***</div>
<div class="t st" style="left:370.5px;top:95.0px">-14.8%</div>
<div class="t st" style="left:447.2px;top:80.3px;font-size:15.6px;letter-spacing:0.9px">***</div>
<div class="t st" style="left:446.4px;top:95.0px">-18.8%</div>
<div class="t st" style="left:523.1px;top:80.3px;font-size:15.6px;letter-spacing:0.9px">***</div>
<div class="t st" style="left:522.3px;top:95.0px">-15.2%</div>
<div class="t st" style="left:599.0px;top:80.3px;font-size:15.6px;letter-spacing:0.9px">***</div>
<div class="t st" style="left:598.2px;top:95.0px">-18.4%</div>
<div class="t lg" style="top:27.9px">Historic Cultivar</div>
<div class="t lg" style="top:44.0px">Modern Cultivar</div>
<div class="t xt" style="top:386.6px">Climate Zone (Köppen-Geiger)</div>
<div class="t yt" style="left:-1.4px;top:373px">Transpiration sum (mm season<span style="font-family:'DejaVu Sans',sans-serif;font-size:0.86em;font-weight:normal">⁻¹</span><span style="font-weight:normal">)</span></div>
</body></html>
